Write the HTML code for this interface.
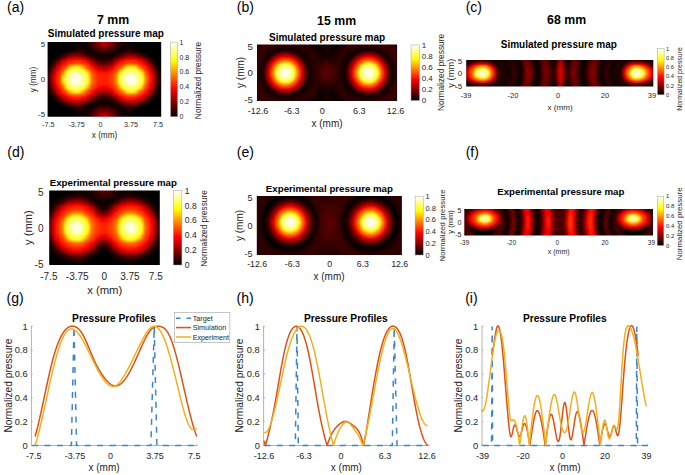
<!DOCTYPE html><html><head><meta charset="utf-8"><style>html,body{margin:0;padding:0;background:#fff;}body{width:685px;height:475px;overflow:hidden;font-family:"Liberation Sans",sans-serif;}svg{display:block;}text{font-family:"Liberation Sans",sans-serif;}</style></head><body><svg width="685" height="475" viewBox="0 0 685 475" font-family="Liberation Sans, sans-serif"><text x="7.00" y="11.80" font-size="14" text-anchor="start" fill="#000">(a)</text><text x="236.80" y="11.80" font-size="14" text-anchor="start" fill="#000">(b)</text><text x="465.70" y="11.80" font-size="14" text-anchor="start" fill="#000">(c)</text><text x="113.00" y="24.20" font-size="12.3" font-weight="bold" text-anchor="middle" fill="#000">7 mm</text><text x="336.60" y="25.00" font-size="12.3" font-weight="bold" text-anchor="middle" fill="#000">15 mm</text><text x="566.60" y="24.20" font-size="12.3" font-weight="bold" text-anchor="middle" fill="#000">68 mm</text><text x="105.80" y="37.00" font-size="10" font-weight="bold" text-anchor="middle" fill="#000">Simulated pressure map</text><defs><clipPath id="hc7"><rect x="47.60" y="42.10" width="113.60" height="74.60"/></clipPath><filter id="hf7" x="-5%" y="-10%" width="110%" height="120%"><feGaussianBlur stdDeviation="0.9"/></filter></defs><g clip-path="url(#hc7)"><g filter="url(#hf7)"><g fill="none" stroke-width="2.466" shape-rendering="crispEdges"><rect x="42.77" y="37.27" width="123.27" height="84.27" fill="#000" stroke="none"/><path stroke="#0b0000" d="M81.4 38.49h4.9M122.5 38.49h4.9M81.4 40.9h4.9M122.5 40.9h4.9M76.6 43.3h9.7M122.5 43.3h9.7M74.2 45.71h12.1M122.5 45.71h12.1M74.2 48.12h2.4M81.4 48.12h7.3M120.1 48.12h7.3M132.2 48.12h2.4M66.9 50.52h7.3M86.3 50.52h2.4M120.1 50.52h2.4M134.6 50.52h4.8M62.1 52.93h2.4M91.1 52.93h2.4M115.3 52.93h2.4M141.9 52.93h2.4M57.3 55.34h2.4M95.9 55.34h4.9M108 55.34h4.9M146.7 55.34h2.4M54.9 57.74h2.4M100.8 57.74h7.2M52.4 60.15h2.5M50 62.55h2.4M153.9 62.55h2.5M156.4 64.96h2.4M47.6 67.37h2.4M158.8 72.18h2.4M45.2 74.59h2.4M45.2 76.99h2.4M45.2 79.4h2.4M45.2 81.81h2.4M45.2 84.21h2.4M158.8 86.62h2.4M47.6 91.43h2.4M156.4 93.84h2.4M50 96.25h2.4M153.9 96.25h2.5M52.4 98.65h2.5M54.9 101.06h2.4M100.8 101.06h7.2M57.3 103.46h2.4M95.9 103.46h4.9M108 103.46h4.9M146.7 103.46h2.4M62.1 105.87h2.4M91.1 105.87h2.4M115.3 105.87h2.4M141.9 105.87h2.4M66.9 108.28h7.3M86.3 108.28h2.4M120.1 108.28h2.4M134.6 108.28h4.8M74.2 110.68h2.4M81.4 110.68h7.3M120.1 110.68h7.3M132.2 110.68h2.4M74.2 113.09h12.1M122.5 113.09h12.1M76.6 115.5h9.7M122.5 115.5h9.7M81.4 117.9h4.9M122.5 117.9h4.9M81.4 120.31h4.9M122.5 120.31h4.9"/><path stroke="#160000" d="M86.3 38.49h2.4M120.1 38.49h2.4M86.3 40.9h2.4M120.1 40.9h2.4M86.3 43.3h2.4M120.1 43.3h2.4M86.3 45.71h2.4M120.1 45.71h2.4M76.6 48.12h4.8M88.7 48.12h2.4M117.7 48.12h2.4M127.4 48.12h4.8M74.2 50.52h2.4M83.9 50.52h2.4M88.7 50.52h4.8M115.3 50.52h4.8M122.5 50.52h2.4M132.2 50.52h2.4M64.5 52.93h2.4M86.3 52.93h4.8M93.5 52.93h4.9M110.4 52.93h4.9M117.7 52.93h2.4M59.7 55.34h2.4M91.1 55.34h4.8M100.8 55.34h7.2M112.9 55.34h2.4M98.4 57.74h2.4M108 57.74h2.4M149.1 57.74h2.4M151.5 60.15h2.4M50 64.96h2.4M156.4 67.37h2.4M47.6 69.77h2.4M158.8 74.59h2.4M158.8 76.99h2.4M158.8 79.4h2.4M158.8 81.81h2.4M158.8 84.21h2.4M47.6 89.03h2.4M156.4 91.43h2.4M50 93.84h2.4M151.5 98.65h2.4M98.4 101.06h2.4M108 101.06h2.4M149.1 101.06h2.4M59.7 103.46h2.4M91.1 103.46h4.8M100.8 103.46h7.2M112.9 103.46h2.4M64.5 105.87h2.4M86.3 105.87h4.8M93.5 105.87h4.9M110.4 105.87h4.9M117.7 105.87h2.4M74.2 108.28h2.4M83.9 108.28h2.4M88.7 108.28h4.8M115.3 108.28h4.8M122.5 108.28h2.4M132.2 108.28h2.4M76.6 110.68h4.8M88.7 110.68h2.4M117.7 110.68h2.4M127.4 110.68h4.8M86.3 113.09h2.4M120.1 113.09h2.4M86.3 115.5h2.4M120.1 115.5h2.4M86.3 117.9h2.4M120.1 117.9h2.4M86.3 120.31h2.4M120.1 120.31h2.4"/><path stroke="#200000" d="M88.7 38.49h2.4M117.7 38.49h2.4M88.7 45.71h2.4M117.7 45.71h2.4M81.4 50.52h2.5M93.5 50.52h2.4M112.9 50.52h2.4M124.9 50.52h2.5M66.9 52.93h2.5M98.4 52.93h12M120.1 52.93h2.4M137 52.93h4.9M115.3 55.34h2.4M144.3 55.34h2.4M57.3 57.74h2.4M95.9 57.74h2.5M110.4 57.74h2.5M54.9 60.15h2.4M100.8 60.15h7.2M52.4 62.55h2.5M153.9 64.96h2.5M50 67.37h2.4M156.4 69.77h2.4M47.6 72.18h2.4M47.6 74.59h2.4M47.6 84.21h2.4M47.6 86.62h2.4M156.4 89.03h2.4M50 91.43h2.4M153.9 93.84h2.5M52.4 96.25h2.5M54.9 98.65h2.4M100.8 98.65h7.2M57.3 101.06h2.4M95.9 101.06h2.5M110.4 101.06h2.5M115.3 103.46h2.4M144.3 103.46h2.4M66.9 105.87h2.5M98.4 105.87h12M120.1 105.87h2.4M137 105.87h4.9M81.4 108.28h2.5M93.5 108.28h2.4M112.9 108.28h2.4M124.9 108.28h2.5M88.7 113.09h2.4M117.7 113.09h2.4M88.7 120.31h2.4M117.7 120.31h2.4"/><path stroke="#2b0000" d="M88.7 40.9h2.4M117.7 40.9h2.4M88.7 43.3h2.4M117.7 43.3h2.4M91.1 48.12h2.4M115.3 48.12h2.4M76.6 50.52h4.8M127.4 50.52h4.8M69.4 52.93h2.4M83.9 52.93h2.4M122.5 52.93h2.4M134.6 52.93h2.4M62.1 55.34h2.4M88.7 55.34h2.4M117.7 55.34h2.4M141.9 55.34h2.4M93.5 57.74h2.4M112.9 57.74h2.4M146.7 57.74h2.4M98.4 60.15h2.4M108 60.15h2.4M149.1 60.15h2.4M151.5 62.55h2.4M156.4 72.18h2.4M47.6 76.99h2.4M47.6 79.4h2.4M47.6 81.81h2.4M156.4 86.62h2.4M151.5 96.25h2.4M98.4 98.65h2.4M108 98.65h2.4M149.1 98.65h2.4M93.5 101.06h2.4M112.9 101.06h2.4M146.7 101.06h2.4M62.1 103.46h2.4M88.7 103.46h2.4M117.7 103.46h2.4M141.9 103.46h2.4M69.4 105.87h2.4M83.9 105.87h2.4M122.5 105.87h2.4M134.6 105.87h2.4M76.6 108.28h4.8M127.4 108.28h4.8M91.1 110.68h2.4M115.3 110.68h2.4M88.7 115.5h2.4M117.7 115.5h2.4M88.7 117.9h2.4M117.7 117.9h2.4"/><path stroke="#360000" d="M91.1 38.49h2.4M115.3 38.49h2.4M91.1 45.71h2.4M115.3 45.71h2.4M95.9 50.52h2.5M110.4 50.52h2.5M71.8 52.93h4.8M81.4 52.93h2.5M124.9 52.93h2.5M132.2 52.93h2.4M86.3 55.34h2.4M59.7 57.74h2.4M91.1 57.74h2.4M95.9 60.15h2.5M110.4 60.15h2.5M52.4 64.96h2.5M153.9 67.37h2.5M50 69.77h2.4M156.4 74.59h2.4M156.4 84.21h2.4M50 89.03h2.4M153.9 91.43h2.5M52.4 93.84h2.5M95.9 98.65h2.5M110.4 98.65h2.5M59.7 101.06h2.4M91.1 101.06h2.4M86.3 103.46h2.4M71.8 105.87h4.8M81.4 105.87h2.5M124.9 105.87h2.5M132.2 105.87h2.4M95.9 108.28h2.5M110.4 108.28h2.5M91.1 113.09h2.4M115.3 113.09h2.4M91.1 120.31h2.4M115.3 120.31h2.4"/><path stroke="#410000" d="M91.1 40.9h2.4M115.3 40.9h2.4M91.1 43.3h2.4M115.3 43.3h2.4M93.5 48.12h2.4M112.9 48.12h2.4M98.4 50.52h12M76.6 52.93h4.8M127.4 52.93h4.8M64.5 55.34h2.4M57.3 60.15h2.4M54.9 62.55h2.4M100.8 62.55h7.2M156.4 76.99h2.4M156.4 79.4h2.4M156.4 81.81h2.4M54.9 96.25h2.4M100.8 96.25h7.2M57.3 98.65h2.4M64.5 103.46h2.4M76.6 105.87h4.8M127.4 105.87h4.8M98.4 108.28h12M93.5 110.68h2.4M112.9 110.68h2.4M91.1 115.5h2.4M115.3 115.5h2.4M91.1 117.9h2.4M115.3 117.9h2.4"/><path stroke="#4c0000" d="M95.9 48.12h2.5M110.4 48.12h2.5M120.1 55.34h2.4M139.4 55.34h2.5M115.3 57.74h2.4M144.3 57.74h2.4M93.5 60.15h2.4M151.5 64.96h2.4M153.9 69.77h2.5M50 72.18h2.4M50 86.62h2.4M153.9 89.03h2.5M151.5 93.84h2.4M93.5 98.65h2.4M115.3 101.06h2.4M144.3 101.06h2.4M120.1 103.46h2.4M139.4 103.46h2.5M95.9 110.68h2.5M110.4 110.68h2.5"/><path stroke="#560000" d="M93.5 38.49h2.4M112.9 38.49h2.4M93.5 45.71h2.4M112.9 45.71h2.4M66.9 55.34h2.5M83.9 55.34h2.4M88.7 57.74h2.4M112.9 60.15h2.4M146.7 60.15h2.4M98.4 62.55h2.4M108 62.55h2.4M149.1 62.55h2.4M52.4 67.37h2.5M52.4 91.43h2.5M98.4 96.25h2.4M108 96.25h2.4M149.1 96.25h2.4M112.9 98.65h2.4M146.7 98.65h2.4M88.7 101.06h2.4M66.9 103.46h2.5M83.9 103.46h2.4M93.5 113.09h2.4M112.9 113.09h2.4M93.5 120.31h2.4M112.9 120.31h2.4"/><path stroke="#610000" d="M93.5 40.9h2.4M112.9 40.9h2.4M93.5 43.3h2.4M112.9 43.3h2.4M98.4 48.12h2.4M108 48.12h2.4M122.5 55.34h2.4M137 55.34h2.4M62.1 57.74h2.4M95.9 62.55h2.5M110.4 62.55h2.5M50 74.59h2.4M50 84.21h2.4M95.9 96.25h2.5M110.4 96.25h2.5M62.1 101.06h2.4M122.5 103.46h2.4M137 103.46h2.4M98.4 110.68h2.4M108 110.68h2.4M93.5 115.5h2.4M112.9 115.5h2.4M93.5 117.9h2.4M112.9 117.9h2.4"/><path stroke="#6c0000" d="M95.9 38.49h2.5M110.4 38.49h2.5M95.9 45.71h2.5M110.4 45.71h2.5M100.8 48.12h7.2M69.4 55.34h2.4M81.4 55.34h2.5M117.7 57.74h2.4M141.9 57.74h2.4M91.1 60.15h2.4M103.2 64.96h2.4M153.9 72.18h2.5M50 76.99h2.4M50 79.4h2.4M50 81.81h2.4M153.9 86.62h2.5M103.2 93.84h2.4M91.1 98.65h2.4M117.7 101.06h2.4M141.9 101.06h2.4M69.4 103.46h2.4M81.4 103.46h2.5M100.8 110.68h7.2M95.9 113.09h2.5M110.4 113.09h2.5M95.9 120.31h2.5M110.4 120.31h2.5"/><path stroke="#770000" d="M71.8 55.34h2.4M79 55.34h2.4M124.9 55.34h2.5M134.6 55.34h2.4M86.3 57.74h2.4M59.7 60.15h2.4M57.3 62.55h2.4M93.5 62.55h2.4M54.9 64.96h2.4M100.8 64.96h2.4M105.6 64.96h2.4M151.5 67.37h2.4M151.5 91.43h2.4M54.9 93.84h2.4M100.8 93.84h2.4M105.6 93.84h2.4M57.3 96.25h2.4M93.5 96.25h2.4M59.7 98.65h2.4M86.3 101.06h2.4M71.8 103.46h2.4M79 103.46h2.4M124.9 103.46h2.5M134.6 103.46h2.4"/><path stroke="#820000" d="M98.4 38.49h2.4M108 38.49h2.4M95.9 40.9h2.5M110.4 40.9h2.5M95.9 43.3h2.5M110.4 43.3h2.5M98.4 45.71h2.4M108 45.71h2.4M74.2 55.34h4.8M127.4 55.34h7.2M64.5 57.74h2.4M115.3 60.15h2.4M144.3 60.15h2.4M98.4 64.96h2.4M108 64.96h2.4M52.4 69.77h2.5M153.9 74.59h2.5M153.9 84.21h2.5M52.4 89.03h2.5M98.4 93.84h2.4M108 93.84h2.4M115.3 98.65h2.4M144.3 98.65h2.4M64.5 101.06h2.4M74.2 103.46h4.8M127.4 103.46h7.2M98.4 113.09h2.4M108 113.09h2.4M95.9 115.5h2.5M110.4 115.5h2.5M95.9 117.9h2.5M110.4 117.9h2.5M98.4 120.31h2.4M108 120.31h2.4"/><path stroke="#8c0000" d="M120.1 57.74h2.4M139.4 57.74h2.5M112.9 62.55h2.4M146.7 62.55h2.4M149.1 64.96h2.4M153.9 76.99h2.5M153.9 79.4h2.5M153.9 81.81h2.5M149.1 93.84h2.4M112.9 96.25h2.4M146.7 96.25h2.4M120.1 101.06h2.4M139.4 101.06h2.5"/><path stroke="#970000" d="M100.8 38.49h7.2M98.4 40.9h2.4M108 40.9h2.4M98.4 43.3h2.4M108 43.3h2.4M100.8 45.71h7.2M83.9 57.74h2.4M88.7 60.15h2.4M95.9 64.96h2.5M110.4 64.96h2.5M151.5 69.77h2.4M52.4 72.18h2.5M52.4 86.62h2.5M151.5 89.03h2.4M95.9 93.84h2.5M110.4 93.84h2.5M88.7 98.65h2.4M83.9 101.06h2.4M100.8 113.09h7.2M98.4 115.5h2.4M108 115.5h2.4M98.4 117.9h2.4M108 117.9h2.4M100.8 120.31h7.2"/><path stroke="#a20000" d="M66.9 57.74h2.5M62.1 60.15h2.4M91.1 62.55h2.4M54.9 67.37h2.4M103.2 67.37h2.4M54.9 91.43h2.4M103.2 91.43h2.4M91.1 96.25h2.4M62.1 98.65h2.4M66.9 101.06h2.5"/><path stroke="#ad0000" d="M100.8 40.9h2.4M105.6 40.9h2.4M100.8 43.3h2.4M105.6 43.3h2.4M122.5 57.74h2.4M137 57.74h2.4M93.5 64.96h2.4M100.8 67.37h2.4M105.6 67.37h2.4M52.4 74.59h2.5M52.4 84.21h2.5M100.8 91.43h2.4M105.6 91.43h2.4M93.5 93.84h2.4M122.5 101.06h2.4M137 101.06h2.4M100.8 115.5h2.4M105.6 115.5h2.4M100.8 117.9h2.4M105.6 117.9h2.4"/><path stroke="#b70000" d="M103.2 40.9h2.4M103.2 43.3h2.4M81.4 57.74h2.5M117.7 60.15h2.4M141.9 60.15h2.4M59.7 62.55h2.4M57.3 64.96h2.4M98.4 67.37h2.4M108 67.37h2.4M149.1 67.37h2.4M151.5 72.18h2.4M151.5 86.62h2.4M98.4 91.43h2.4M108 91.43h2.4M149.1 91.43h2.4M57.3 93.84h2.4M59.7 96.25h2.4M117.7 98.65h2.4M141.9 98.65h2.4M81.4 101.06h2.5M103.2 115.5h2.4M103.2 117.9h2.4"/><path stroke="#c20000" d="M69.4 57.74h2.4M124.9 57.74h2.5M134.6 57.74h2.4M86.3 60.15h2.4M95.9 67.37h2.5M52.4 76.99h2.5M52.4 79.4h2.5M52.4 81.81h2.5M95.9 91.43h2.5M86.3 98.65h2.4M69.4 101.06h2.4M124.9 101.06h2.5M134.6 101.06h2.4"/><path stroke="#cd0000" d="M71.8 57.74h2.4M79 57.74h2.4M64.5 60.15h2.4M115.3 62.55h2.4M144.3 62.55h2.4M112.9 64.96h2.4M146.7 64.96h2.4M54.9 69.77h2.4M151.5 74.59h2.4M151.5 84.21h2.4M54.9 89.03h2.4M112.9 93.84h2.4M146.7 93.84h2.4M115.3 96.25h2.4M144.3 96.25h2.4M64.5 98.65h2.4M71.8 101.06h2.4M79 101.06h2.4"/><path stroke="#d80000" d="M74.2 57.74h4.8M127.4 57.74h7.2M120.1 60.15h2.4M110.4 67.37h2.5M100.8 69.77h7.2M151.5 76.99h2.4M151.5 81.81h2.4M100.8 89.03h7.2M110.4 91.43h2.5M120.1 98.65h2.4M74.2 101.06h4.8M127.4 101.06h7.2"/><path stroke="#e30000" d="M139.4 60.15h2.5M88.7 62.55h2.4M91.1 64.96h2.4M57.3 67.37h2.4M98.4 69.77h2.4M108 69.77h2.4M149.1 69.77h2.4M54.9 72.18h2.4M151.5 79.4h2.4M54.9 86.62h2.4M98.4 89.03h2.4M108 89.03h2.4M149.1 89.03h2.4M57.3 91.43h2.4M91.1 93.84h2.4M88.7 96.25h2.4M139.4 98.65h2.5"/><path stroke="#ed0000" d="M66.9 60.15h2.5M83.9 60.15h2.4M62.1 62.55h2.4M59.7 64.96h2.4M93.5 67.37h2.4M95.9 69.77h2.5M95.9 89.03h2.5M93.5 91.43h2.4M59.7 93.84h2.4M62.1 96.25h2.4M66.9 98.65h2.5M83.9 98.65h2.4"/><path stroke="#f80000" d="M81.4 60.15h2.5M122.5 60.15h2.4M137 60.15h2.4M117.7 62.55h2.4M141.9 62.55h2.4M144.3 64.96h2.4M146.7 67.37h2.4M103.2 72.18h2.4M149.1 72.18h2.4M54.9 74.59h2.4M54.9 84.21h2.4M103.2 86.62h2.4M149.1 86.62h2.4M146.7 91.43h2.4M144.3 93.84h2.4M117.7 96.25h2.4M141.9 96.25h2.4M81.4 98.65h2.5M122.5 98.65h2.4M137 98.65h2.4"/><path stroke="#ff0400" d="M69.4 60.15h4.8M124.9 60.15h2.5M134.6 60.15h2.4M64.5 62.55h2.4M86.3 62.55h2.4M115.3 64.96h2.4M112.9 67.37h2.4M57.3 69.77h2.4M110.4 69.77h2.5M98.4 72.18h4.8M105.6 72.18h2.4M149.1 74.59h2.4M54.9 76.99h2.4M54.9 79.4h2.4M54.9 81.81h2.4M149.1 84.21h2.4M98.4 86.62h4.8M105.6 86.62h2.4M57.3 89.03h2.4M110.4 89.03h2.5M112.9 91.43h2.4M115.3 93.84h2.4M64.5 96.25h2.4M86.3 96.25h2.4M69.4 98.65h4.8M124.9 98.65h2.5M134.6 98.65h2.4"/><path stroke="#ff0f00" d="M74.2 60.15h7.2M127.4 60.15h7.2M120.1 62.55h2.4M139.4 62.55h2.5M62.1 64.96h2.4M88.7 64.96h2.4M59.7 67.37h2.4M91.1 67.37h2.4M93.5 69.77h2.4M146.7 69.77h2.4M57.3 72.18h2.4M108 72.18h2.4M149.1 76.99h2.4M149.1 79.4h2.4M149.1 81.81h2.4M57.3 86.62h2.4M108 86.62h2.4M93.5 89.03h2.4M146.7 89.03h2.4M59.7 91.43h2.4M91.1 91.43h2.4M62.1 93.84h2.4M88.7 93.84h2.4M120.1 96.25h2.4M139.4 96.25h2.5M74.2 98.65h7.2M127.4 98.65h7.2"/><path stroke="#ff1a00" d="M66.9 62.55h2.5M83.9 62.55h2.4M137 62.55h2.4M117.7 64.96h2.4M141.9 64.96h2.4M144.3 67.37h2.4M95.9 72.18h2.5M98.4 74.59h9.6M100.8 76.99h7.2M103.2 79.4h2.4M100.8 81.81h7.2M98.4 84.21h9.6M95.9 86.62h2.5M144.3 91.43h2.4M117.7 93.84h2.4M141.9 93.84h2.4M66.9 96.25h2.5M83.9 96.25h2.4M137 96.25h2.4"/><path stroke="#ff2400" d="M69.4 62.55h2.4M81.4 62.55h2.5M122.5 62.55h2.4M64.5 64.96h2.4M86.3 64.96h2.4M115.3 67.37h2.4M59.7 69.77h2.4M112.9 69.77h2.4M110.4 72.18h2.5M146.7 72.18h2.4M57.3 74.59h2.4M95.9 74.59h2.5M108 74.59h2.4M98.4 76.99h2.4M108 76.99h2.4M98.4 79.4h4.8M105.6 79.4h2.4M98.4 81.81h2.4M108 81.81h2.4M57.3 84.21h2.4M95.9 84.21h2.5M108 84.21h2.4M110.4 86.62h2.5M146.7 86.62h2.4M59.7 89.03h2.4M112.9 89.03h2.4M115.3 91.43h2.4M64.5 93.84h2.4M86.3 93.84h2.4M69.4 96.25h2.4M81.4 96.25h2.5M122.5 96.25h2.4"/><path stroke="#ff2f00" d="M124.9 62.55h2.5M134.6 62.55h2.4M139.4 64.96h2.5M62.1 67.37h2.4M88.7 67.37h2.4M91.1 69.77h2.4M144.3 69.77h2.4M93.5 72.18h2.4M110.4 74.59h2.5M146.7 74.59h2.4M57.3 76.99h2.4M95.9 76.99h2.5M57.3 79.4h2.4M95.9 79.4h2.5M108 79.4h2.4M57.3 81.81h2.4M95.9 81.81h2.5M110.4 84.21h2.5M146.7 84.21h2.4M93.5 86.62h2.4M91.1 89.03h2.4M144.3 89.03h2.4M62.1 91.43h2.4M88.7 91.43h2.4M139.4 93.84h2.5M124.9 96.25h2.5M134.6 96.25h2.4"/><path stroke="#ff3a00" d="M71.8 62.55h9.6M127.4 62.55h7.2M120.1 64.96h2.4M141.9 67.37h2.4M59.7 72.18h2.4M112.9 72.18h2.4M93.5 74.59h2.4M110.4 76.99h2.5M146.7 76.99h2.4M110.4 79.4h2.5M110.4 81.81h2.5M146.7 81.81h2.4M93.5 84.21h2.4M59.7 86.62h2.4M112.9 86.62h2.4M141.9 91.43h2.4M120.1 93.84h2.4M71.8 96.25h9.6M127.4 96.25h7.2"/><path stroke="#ff4500" d="M66.9 64.96h2.5M83.9 64.96h2.4M117.7 67.37h2.4M115.3 69.77h2.4M91.1 72.18h2.4M93.5 76.99h2.4M93.5 79.4h2.4M146.7 79.4h2.4M93.5 81.81h2.4M91.1 86.62h2.4M115.3 89.03h2.4M117.7 91.43h2.4M66.9 93.84h2.5M83.9 93.84h2.4"/><path stroke="#ff5000" d="M122.5 64.96h2.4M137 64.96h2.4M64.5 67.37h2.4M86.3 67.37h2.4M62.1 69.77h2.4M88.7 69.77h2.4M144.3 72.18h2.4M59.7 74.59h2.4M112.9 74.59h2.4M112.9 76.99h2.4M112.9 81.81h2.4M59.7 84.21h2.4M112.9 84.21h2.4M144.3 86.62h2.4M62.1 89.03h2.4M88.7 89.03h2.4M64.5 91.43h2.4M86.3 91.43h2.4M122.5 93.84h2.4M137 93.84h2.4"/><path stroke="#ff5a00" d="M69.4 64.96h2.4M81.4 64.96h2.5M139.4 67.37h2.5M115.3 72.18h2.4M91.1 74.59h2.4M59.7 76.99h2.4M112.9 79.4h2.4M59.7 81.81h2.4M91.1 84.21h2.4M115.3 86.62h2.4M139.4 91.43h2.5M69.4 93.84h2.4M81.4 93.84h2.5"/><path stroke="#ff6500" d="M124.9 64.96h2.5M134.6 64.96h2.4M120.1 67.37h2.4M117.7 69.77h2.4M141.9 69.77h2.4M144.3 74.59h2.4M91.1 76.99h2.4M59.7 79.4h2.4M91.1 79.4h2.4M91.1 81.81h2.4M144.3 84.21h2.4M117.7 89.03h2.4M141.9 89.03h2.4M120.1 91.43h2.4M124.9 93.84h2.5M134.6 93.84h2.4"/><path stroke="#ff7000" d="M71.8 64.96h2.4M79 64.96h2.4M132.2 64.96h2.4M83.9 67.37h2.4M62.1 72.18h2.4M88.7 72.18h2.4M115.3 74.59h2.4M115.3 84.21h2.4M62.1 86.62h2.4M88.7 86.62h2.4M83.9 91.43h2.4M71.8 93.84h2.4M79 93.84h2.4M132.2 93.84h2.4"/><path stroke="#ff7b00" d="M74.2 64.96h4.8M127.4 64.96h4.8M66.9 67.37h2.5M86.3 69.77h2.4M144.3 76.99h2.4M144.3 81.81h2.4M86.3 89.03h2.4M66.9 91.43h2.5M74.2 93.84h4.8M127.4 93.84h4.8"/><path stroke="#ff8600" d="M115.3 76.99h2.4M144.3 79.4h2.4M115.3 81.81h2.4"/><path stroke="#ff9000" d="M122.5 67.37h2.4M64.5 69.77h2.4M88.7 74.59h2.4M115.3 79.4h2.4M88.7 84.21h2.4M64.5 89.03h2.4M122.5 91.43h2.4"/><path stroke="#ff9b00" d="M137 67.37h2.4M117.7 72.18h2.4M141.9 72.18h2.4M117.7 86.62h2.4M141.9 86.62h2.4M137 91.43h2.4"/><path stroke="#ffb100" d="M81.4 67.37h2.5M120.1 69.77h2.4M62.1 74.59h2.4M88.7 76.99h2.4M88.7 81.81h2.4M62.1 84.21h2.4M120.1 89.03h2.4M81.4 91.43h2.5"/><path stroke="#ffbc00" d="M139.4 69.77h2.5M88.7 79.4h2.4M139.4 89.03h2.5"/><path stroke="#ffc600" d="M69.4 67.37h2.4M69.4 91.43h2.4"/><path stroke="#ffd100" d="M86.3 72.18h2.4M86.3 86.62h2.4"/><path stroke="#ffdc00" d="M124.9 67.37h2.5M134.6 67.37h2.4M83.9 69.77h2.4M62.1 76.99h2.4M62.1 81.81h2.4M83.9 89.03h2.4M124.9 91.43h2.5M134.6 91.43h2.4"/><path stroke="#ffe700" d="M117.7 74.59h2.4M141.9 74.59h2.4M117.7 84.21h2.4M141.9 84.21h2.4"/><path stroke="#fff200" d="M79 67.37h2.4M64.5 72.18h2.4M62.1 79.4h2.4M64.5 86.62h2.4M79 91.43h2.4"/><path stroke="#fffc00" d="M71.8 67.37h2.4M127.4 67.37h2.4M132.2 67.37h2.4M66.9 69.77h2.5M66.9 89.03h2.5M71.8 91.43h2.4M127.4 91.43h2.4M132.2 91.43h2.4"/><path stroke="#ffff0c" d="M74.2 67.37h4.8M129.8 67.37h2.4M122.5 69.77h2.4M137 69.77h2.4M120.1 72.18h2.4M139.4 72.18h2.5M86.3 74.59h2.4M117.7 76.99h2.4M141.9 76.99h2.4M117.7 79.4h2.4M141.9 79.4h2.4M117.7 81.81h2.4M141.9 81.81h2.4M86.3 84.21h2.4M120.1 86.62h2.4M139.4 86.62h2.5M122.5 89.03h2.4M137 89.03h2.4M74.2 91.43h4.8M129.8 91.43h2.4"/><path stroke="#ffff1c" d="M81.4 69.77h2.5M64.5 74.59h2.4M64.5 84.21h2.4M81.4 89.03h2.5"/><path stroke="#ffff2d" d="M69.4 69.77h2.4M83.9 72.18h2.4M86.3 76.99h2.4M86.3 79.4h2.4M86.3 81.81h2.4M83.9 86.62h2.4M69.4 89.03h2.4"/><path stroke="#ffff3d" d="M79 69.77h2.4M124.9 69.77h2.5M134.6 69.77h2.4M66.9 72.18h2.5M120.1 74.59h2.4M139.4 74.59h2.5M64.5 76.99h2.4M64.5 79.4h2.4M64.5 81.81h2.4M120.1 84.21h2.4M139.4 84.21h2.5M66.9 86.62h2.5M79 89.03h2.4M124.9 89.03h2.5M134.6 89.03h2.4"/><path stroke="#ffff4d" d="M71.8 69.77h7.2M127.4 69.77h7.2M122.5 72.18h2.4M137 72.18h2.4M83.9 74.59h2.4M120.1 76.99h2.4M139.4 76.99h2.5M120.1 81.81h2.4M139.4 81.81h2.5M83.9 84.21h2.4M122.5 86.62h2.4M137 86.62h2.4M71.8 89.03h7.2M127.4 89.03h7.2"/><path stroke="#ffff5d" d="M69.4 72.18h2.4M81.4 72.18h2.5M66.9 74.59h2.5M120.1 79.4h2.4M139.4 79.4h2.5M66.9 84.21h2.5M69.4 86.62h2.4M81.4 86.62h2.5"/><path stroke="#ffff6d" d="M124.9 72.18h2.5M134.6 72.18h2.4M122.5 74.59h2.4M137 74.59h2.4M83.9 76.99h2.4M83.9 79.4h2.4M83.9 81.81h2.4M122.5 84.21h2.4M137 84.21h2.4M124.9 86.62h2.5M134.6 86.62h2.4"/><path stroke="#ffff7d" d="M71.8 72.18h2.4M79 72.18h2.4M66.9 76.99h2.5M66.9 79.4h2.5M66.9 81.81h2.5M71.8 86.62h2.4M79 86.62h2.4"/><path stroke="#ffff8e" d="M74.2 72.18h4.8M127.4 72.18h2.4M132.2 72.18h2.4M69.4 74.59h2.4M81.4 74.59h2.5M122.5 76.99h2.4M137 76.99h2.4M122.5 81.81h2.4M137 81.81h2.4M69.4 84.21h2.4M81.4 84.21h2.5M74.2 86.62h4.8M127.4 86.62h2.4M132.2 86.62h2.4"/><path stroke="#ffff9e" d="M129.8 72.18h2.4M124.9 74.59h2.5M134.6 74.59h2.4M81.4 76.99h2.5M122.5 79.4h2.4M137 79.4h2.4M81.4 81.81h2.5M124.9 84.21h2.5M134.6 84.21h2.4M129.8 86.62h2.4"/><path stroke="#ffffae" d="M79 74.59h2.4M69.4 76.99h2.4M81.4 79.4h2.5M69.4 81.81h2.4M79 84.21h2.4"/><path stroke="#ffffbe" d="M71.8 74.59h2.4M127.4 74.59h2.4M132.2 74.59h2.4M124.9 76.99h2.5M134.6 76.99h2.4M69.4 79.4h2.4M124.9 81.81h2.5M134.6 81.81h2.4M71.8 84.21h2.4M127.4 84.21h2.4M132.2 84.21h2.4"/><path stroke="#ffffce" d="M74.2 74.59h4.8M129.8 74.59h2.4M79 76.99h2.4M124.9 79.4h2.5M134.6 79.4h2.4M79 81.81h2.4M74.2 84.21h4.8M129.8 84.21h2.4"/><path stroke="#ffffdf" d="M71.8 76.99h2.4M127.4 76.99h2.4M132.2 76.99h2.4M71.8 79.4h2.4M79 79.4h2.4M71.8 81.81h2.4M127.4 81.81h2.4M132.2 81.81h2.4"/><path stroke="#ffffef" d="M74.2 76.99h4.8M129.8 76.99h2.4M127.4 79.4h2.4M132.2 79.4h2.4M74.2 81.81h4.8M129.8 81.81h2.4"/><path stroke="#ffffff" d="M74.2 79.4h4.8M129.8 79.4h2.4"/></g></g></g><text x="45.00" y="47.01" font-size="7.8" text-anchor="end" fill="#262626">5</text><text x="45.00" y="82.21" font-size="7.8" text-anchor="end" fill="#262626">0</text><text x="45.00" y="117.01" font-size="7.8" text-anchor="end" fill="#262626">-5</text><text x="48.30" y="127.40" font-size="7.2" text-anchor="middle" fill="#262626">-7.5</text><text x="76.60" y="127.40" font-size="7.2" text-anchor="middle" fill="#262626">-3.75</text><text x="100.40" y="127.40" font-size="7.2" text-anchor="middle" fill="#262626">0</text><text x="131.00" y="127.40" font-size="7.2" text-anchor="middle" fill="#262626">3.75</text><text x="157.90" y="127.40" font-size="7.2" text-anchor="middle" fill="#262626">7.5</text><text x="104.50" y="137.80" font-size="8.2" text-anchor="middle" fill="#262626">x (mm)</text><text x="36.00" y="79.40" font-size="8.2" text-anchor="middle" fill="#262626" transform="rotate(-90 36.00 79.40)">y (mm)</text><defs><linearGradient id="cb18" x1="0" y1="1" x2="0" y2="0"><stop offset="0" stop-color="#000"/><stop offset="0.375" stop-color="#f00"/><stop offset="0.75" stop-color="#ff0"/><stop offset="1" stop-color="#fff"/></linearGradient></defs><rect x="170.60" y="42.10" width="7.00" height="74.60" fill="url(#cb18)" stroke="#a0a0a0" stroke-width="0.5"/><text x="179.50" y="44.62" font-size="7.0" text-anchor="start" fill="#262626">1</text><text x="179.50" y="59.54" font-size="7.0" text-anchor="start" fill="#262626">0.8</text><text x="179.50" y="74.46" font-size="7.0" text-anchor="start" fill="#262626">0.6</text><text x="179.50" y="89.38" font-size="7.0" text-anchor="start" fill="#262626">0.4</text><text x="179.50" y="104.30" font-size="7.0" text-anchor="start" fill="#262626">0.2</text><text x="179.50" y="119.22" font-size="7.0" text-anchor="start" fill="#262626">0</text><text x="201.00" y="80.50" font-size="8.4" text-anchor="middle" fill="#262626" transform="rotate(-90 201.00 80.50)">Normalized pressure</text><text x="327.10" y="40.50" font-size="10" font-weight="bold" text-anchor="middle" fill="#000">Simulated pressure map</text><defs><clipPath id="hc28"><rect x="257.00" y="44.60" width="140.10" height="56.40"/></clipPath><filter id="hf28" x="-5%" y="-10%" width="110%" height="120%"><feGaussianBlur stdDeviation="0.9"/></filter></defs><g clip-path="url(#hc28)"><g filter="url(#hf28)"><g fill="none" stroke-width="2.074" shape-rendering="crispEdges"><rect x="252.97" y="40.57" width="148.16" height="64.46" fill="#000" stroke="none"/><path stroke="#0b0000" d="M255 41.58h2M311 41.58h2M315 41.58h4M335.1 41.58h4M341.1 41.58h2M397.1 41.58h2M253 43.59h2M313 43.59h2M317 43.59h4M333.1 43.59h4M339.1 43.59h2M399.1 43.59h2M315 45.61h2M319 45.61h2M333.1 45.61h2M337.1 45.61h2M317 47.62h2M321 47.62h2M331.1 47.62h2M335.1 47.62h2M277 49.64h2M283 49.64h6M293 49.64h2M317 49.64h8M329.1 49.64h8M359.1 49.64h2M365.1 49.64h6M375.1 49.64h2M273 51.65h4M295 51.65h4M319 51.65h6M329.1 51.65h6M355.1 51.65h4M377.1 51.65h4M269 53.66h2M301 53.66h2M321 53.66h4M329.1 53.66h4M351.1 53.66h2M383.1 53.66h2M267 55.68h4M301 55.68h4M349.1 55.68h4M383.1 55.68h4M265 57.69h4M305 57.69h2M347.1 57.69h2M385.1 57.69h4M263 61.72h2M305 61.72h4M345.1 61.72h4M389.1 61.72h2M307 63.74h2M345.1 63.74h2M261 65.75h2M307 65.75h2M345.1 65.75h2M391.1 65.75h2M261 67.76h2M307 67.76h4M343.1 67.76h4M391.1 67.76h2M309 69.78h2M343.1 69.78h2M309 71.79h2M343.1 71.79h2M309 73.81h2M343.1 73.81h2M309 75.82h2M343.1 75.82h2M261 77.84h2M307 77.84h4M343.1 77.84h4M391.1 77.84h2M261 79.85h2M307 79.85h2M345.1 79.85h2M391.1 79.85h2M307 81.86h2M345.1 81.86h2M263 83.88h2M305 83.88h4M345.1 83.88h4M389.1 83.88h2M265 87.91h4M305 87.91h2M347.1 87.91h2M385.1 87.91h4M267 89.92h4M301 89.92h4M349.1 89.92h4M383.1 89.92h4M269 91.94h2M301 91.94h2M321 91.94h4M329.1 91.94h4M351.1 91.94h2M383.1 91.94h2M273 93.95h4M295 93.95h4M319 93.95h6M329.1 93.95h6M355.1 93.95h4M377.1 93.95h4M277 95.96h2M283 95.96h6M293 95.96h2M317 95.96h8M329.1 95.96h8M359.1 95.96h2M365.1 95.96h6M375.1 95.96h2M317 97.98h2M321 97.98h2M331.1 97.98h2M335.1 97.98h2M315 99.99h2M319 99.99h2M333.1 99.99h2M337.1 99.99h2M253 102.01h2M313 102.01h2M317 102.01h4M333.1 102.01h4M339.1 102.01h2M399.1 102.01h2M255 104.02h2M311 104.02h2M315 104.02h4M335.1 104.02h4M341.1 104.02h2M397.1 104.02h2"/><path stroke="#160000" d="M257 41.58h2M307 41.58h4M319 41.58h6M329.1 41.58h6M343.1 41.58h4M395.1 41.58h2M255 43.59h2M309 43.59h4M321 43.59h4M329.1 43.59h4M341.1 43.59h4M397.1 43.59h2M253 45.61h2M311 45.61h4M321 45.61h12.1M339.1 45.61h4M399.1 45.61h2M279 47.62h14M313 47.62h4M323 47.62h8.1M337.1 47.62h4M361.1 47.62h14M275 49.64h2M295 49.64h4M315 49.64h2M325 49.64h4.1M337.1 49.64h2M355.1 49.64h4M377.1 49.64h2M271 51.65h2M277 51.65h2M293 51.65h2M299 51.65h2M317 51.65h2M325 51.65h4.1M335.1 51.65h2M353.1 51.65h2M359.1 51.65h2M375.1 51.65h2M381.1 51.65h2M297 53.66h2M303 53.66h2M317 53.66h4M325 53.66h4.1M333.1 53.66h4M349.1 53.66h2M355.1 53.66h2M305 55.68h2M319 55.68h16.1M347.1 55.68h2M263 59.71h2M303 59.71h2M307 59.71h2M345.1 59.71h2M349.1 59.71h2M389.1 59.71h2M265 61.72h2M387.1 61.72h2M261 63.74h2M309 63.74h2M343.1 63.74h2M391.1 63.74h2M263 65.75h2M309 65.75h2M343.1 65.75h2M389.1 65.75h2M307 69.78h2M345.1 69.78h2M259 71.79h2M307 71.79h2M345.1 71.79h2M393.1 71.79h2M259 73.81h2M307 73.81h2M345.1 73.81h2M393.1 73.81h2M307 75.82h2M345.1 75.82h2M263 79.85h2M309 79.85h2M343.1 79.85h2M389.1 79.85h2M261 81.86h2M309 81.86h2M343.1 81.86h2M391.1 81.86h2M265 83.88h2M387.1 83.88h2M263 85.89h2M303 85.89h2M307 85.89h2M345.1 85.89h2M349.1 85.89h2M389.1 85.89h2M305 89.92h2M319 89.92h16.1M347.1 89.92h2M297 91.94h2M303 91.94h2M317 91.94h4M325 91.94h4.1M333.1 91.94h4M349.1 91.94h2M355.1 91.94h2M271 93.95h2M277 93.95h2M293 93.95h2M299 93.95h2M317 93.95h2M325 93.95h4.1M335.1 93.95h2M353.1 93.95h2M359.1 93.95h2M375.1 93.95h2M381.1 93.95h2M275 95.96h2M295 95.96h4M315 95.96h2M325 95.96h4.1M337.1 95.96h2M355.1 95.96h4M377.1 95.96h2M279 97.98h14M313 97.98h4M323 97.98h8.1M337.1 97.98h4M361.1 97.98h14M253 99.99h2M311 99.99h4M321 99.99h12.1M339.1 99.99h4M399.1 99.99h2M255 102.01h2M309 102.01h4M321 102.01h4M329.1 102.01h4M341.1 102.01h4M397.1 102.01h2M257 104.02h2M307 104.02h4M319 104.02h6M329.1 104.02h6M343.1 104.02h4M395.1 104.02h2"/><path stroke="#200000" d="M259 41.58h4M305 41.58h2M325 41.58h4.1M347.1 41.58h2M391.1 41.58h4M257 43.59h4M307 43.59h2M325 43.59h4.1M345.1 43.59h2M393.1 43.59h4M255 45.61h4M309 45.61h2M343.1 45.61h2M395.1 45.61h4M253 47.62h4M275 47.62h4M293 47.62h4M311 47.62h2M341.1 47.62h2M357.1 47.62h4M375.1 47.62h4M397.1 47.62h4M253 49.64h2M271 49.64h4M299 49.64h4M313 49.64h2M339.1 49.64h2M351.1 49.64h4M379.1 49.64h4M399.1 49.64h2M269 51.65h2M291 51.65h2M301 51.65h6M313 51.65h4M337.1 51.65h4M347.1 51.65h6M361.1 51.65h2M383.1 51.65h2M267 53.66h2M273 53.66h2M305 53.66h4M315 53.66h2M337.1 53.66h2M345.1 53.66h4M379.1 53.66h2M385.1 53.66h2M265 55.68h2M299 55.68h2M307 55.68h2M317 55.68h2M335.1 55.68h2M345.1 55.68h2M353.1 55.68h2M387.1 55.68h2M263 57.69h2M301 57.69h2M307 57.69h4M317 57.69h20.1M343.1 57.69h4M351.1 57.69h2M389.1 57.69h2M309 59.71h4M319 59.71h4M331.1 59.71h4M341.1 59.71h4M261 61.72h2M309 61.72h4M341.1 61.72h4M391.1 61.72h2M305 63.74h2M311 63.74h2M341.1 63.74h2M347.1 63.74h2M259 65.75h2M311 65.75h2M341.1 65.75h2M393.1 65.75h2M259 67.76h2M263 67.76h2M311 67.76h2M341.1 67.76h2M389.1 67.76h2M393.1 67.76h2M259 69.78h2M311 69.78h2M341.1 69.78h2M393.1 69.78h2M311 71.79h2M341.1 71.79h2M311 73.81h2M341.1 73.81h2M259 75.82h2M311 75.82h2M341.1 75.82h2M393.1 75.82h2M259 77.84h2M263 77.84h2M311 77.84h2M341.1 77.84h2M389.1 77.84h2M393.1 77.84h2M259 79.85h2M311 79.85h2M341.1 79.85h2M393.1 79.85h2M305 81.86h2M311 81.86h2M341.1 81.86h2M347.1 81.86h2M261 83.88h2M309 83.88h4M341.1 83.88h4M391.1 83.88h2M309 85.89h4M319 85.89h4M331.1 85.89h4M341.1 85.89h4M263 87.91h2M301 87.91h2M307 87.91h4M317 87.91h20.1M343.1 87.91h4M351.1 87.91h2M389.1 87.91h2M265 89.92h2M299 89.92h2M307 89.92h2M317 89.92h2M335.1 89.92h2M345.1 89.92h2M353.1 89.92h2M387.1 89.92h2M267 91.94h2M273 91.94h2M305 91.94h4M315 91.94h2M337.1 91.94h2M345.1 91.94h4M379.1 91.94h2M385.1 91.94h2M269 93.95h2M291 93.95h2M301 93.95h6M313 93.95h4M337.1 93.95h4M347.1 93.95h6M361.1 93.95h2M383.1 93.95h2M253 95.96h2M271 95.96h4M299 95.96h4M313 95.96h2M339.1 95.96h2M351.1 95.96h4M379.1 95.96h4M399.1 95.96h2M253 97.98h4M275 97.98h4M293 97.98h4M311 97.98h2M341.1 97.98h2M357.1 97.98h4M375.1 97.98h4M397.1 97.98h4M255 99.99h4M309 99.99h2M343.1 99.99h2M395.1 99.99h4M257 102.01h4M307 102.01h2M325 102.01h4.1M345.1 102.01h2M393.1 102.01h4M259 104.02h4M305 104.02h2M325 104.02h4.1M347.1 104.02h2M391.1 104.02h4"/><path stroke="#2b0000" d="M263 41.58h4M297 41.58h8M349.1 41.58h8M387.1 41.58h4M261 43.59h2M291 43.59h16M347.1 43.59h16M391.1 43.59h2M259 45.61h2M275 45.61h34M345.1 45.61h34M393.1 45.61h2M257 47.62h2M271 47.62h4M297 47.62h14M343.1 47.62h14M379.1 47.62h4M395.1 47.62h2M255 49.64h2M267 49.64h4M303 49.64h10M341.1 49.64h10M383.1 49.64h4M397.1 49.64h2M253 51.65h4M265 51.65h4M279 51.65h2M307 51.65h6M341.1 51.65h6M373.1 51.65h2M385.1 51.65h4M397.1 51.65h4M253 53.66h2M263 53.66h4M295 53.66h2M309 53.66h6M339.1 53.66h6M357.1 53.66h2M387.1 53.66h4M399.1 53.66h2M263 55.68h2M271 55.68h2M309 55.68h8M337.1 55.68h8M381.1 55.68h2M389.1 55.68h2M261 57.69h2M269 57.69h2M311 57.69h6M337.1 57.69h6M383.1 57.69h2M391.1 57.69h2M259 59.71h4M267 59.71h2M313 59.71h6M323 59.71h8.1M335.1 59.71h6M385.1 59.71h2M391.1 59.71h4M259 61.72h2M313 61.72h12M329.1 61.72h12M393.1 61.72h2M259 63.74h2M313 63.74h6M335.1 63.74h6M393.1 63.74h2M257 65.75h2M305 65.75h2M313 65.75h4M337.1 65.75h4M347.1 65.75h2M395.1 65.75h2M257 67.76h2M313 67.76h4M337.1 67.76h4M395.1 67.76h2M257 69.78h2M263 69.78h2M313 69.78h4M337.1 69.78h4M389.1 69.78h2M395.1 69.78h2M257 71.79h2M263 71.79h2M313 71.79h2M339.1 71.79h2M389.1 71.79h2M395.1 71.79h2M257 73.81h2M263 73.81h2M313 73.81h2M339.1 73.81h2M389.1 73.81h2M395.1 73.81h2M257 75.82h2M263 75.82h2M313 75.82h4M337.1 75.82h4M389.1 75.82h2M395.1 75.82h2M257 77.84h2M313 77.84h4M337.1 77.84h4M395.1 77.84h2M257 79.85h2M305 79.85h2M313 79.85h4M337.1 79.85h4M347.1 79.85h2M395.1 79.85h2M259 81.86h2M313 81.86h6M335.1 81.86h6M393.1 81.86h2M259 83.88h2M313 83.88h12M329.1 83.88h12M393.1 83.88h2M259 85.89h4M267 85.89h2M313 85.89h6M323 85.89h8.1M335.1 85.89h6M385.1 85.89h2M391.1 85.89h4M261 87.91h2M269 87.91h2M311 87.91h6M337.1 87.91h6M383.1 87.91h2M391.1 87.91h2M263 89.92h2M271 89.92h2M309 89.92h8M337.1 89.92h8M381.1 89.92h2M389.1 89.92h2M253 91.94h2M263 91.94h4M295 91.94h2M309 91.94h6M339.1 91.94h6M357.1 91.94h2M387.1 91.94h4M399.1 91.94h2M253 93.95h4M265 93.95h4M279 93.95h2M307 93.95h6M341.1 93.95h6M373.1 93.95h2M385.1 93.95h4M397.1 93.95h4M255 95.96h2M267 95.96h4M303 95.96h10M341.1 95.96h10M383.1 95.96h4M397.1 95.96h2M257 97.98h2M271 97.98h4M297 97.98h14M343.1 97.98h14M379.1 97.98h4M395.1 97.98h2M259 99.99h2M275 99.99h34M345.1 99.99h34M393.1 99.99h2M261 102.01h2M291 102.01h16M347.1 102.01h16M391.1 102.01h2M263 104.02h4M297 104.02h8M349.1 104.02h8M387.1 104.02h4"/><path stroke="#360000" d="M267 41.58h30M357.1 41.58h30M263 43.59h28M363.1 43.59h28M261 45.61h14M379.1 45.61h14M259 47.62h12M383.1 47.62h12M257 49.64h10M387.1 49.64h10M257 51.65h8M281 51.65h2M287 51.65h4M363.1 51.65h4M371.1 51.65h2M389.1 51.65h8M255 53.66h8M275 53.66h2M377.1 53.66h2M391.1 53.66h8M253 55.68h10M391.1 55.68h10M253 57.69h8M393.1 57.69h8M253 59.71h6M395.1 59.71h6M253 61.72h6M303 61.72h2M325 61.72h4.1M349.1 61.72h2M395.1 61.72h6M253 63.74h6M265 63.74h2M319 63.74h6M329.1 63.74h6M387.1 63.74h2M395.1 63.74h6M253 65.75h4M317 65.75h4M333.1 65.75h4M397.1 65.75h4M253 67.76h4M317 67.76h2M335.1 67.76h2M397.1 67.76h4M253 69.78h4M317 69.78h2M335.1 69.78h2M397.1 69.78h4M253 71.79h4M315 71.79h4M335.1 71.79h4M397.1 71.79h4M253 73.81h4M315 73.81h4M335.1 73.81h4M397.1 73.81h4M253 75.82h4M317 75.82h2M335.1 75.82h2M397.1 75.82h4M253 77.84h4M317 77.84h2M335.1 77.84h2M397.1 77.84h4M253 79.85h4M317 79.85h4M333.1 79.85h4M397.1 79.85h4M253 81.86h6M265 81.86h2M319 81.86h6M329.1 81.86h6M387.1 81.86h2M395.1 81.86h6M253 83.88h6M303 83.88h2M325 83.88h4.1M349.1 83.88h2M395.1 83.88h6M253 85.89h6M395.1 85.89h6M253 87.91h8M393.1 87.91h8M253 89.92h10M391.1 89.92h10M255 91.94h8M275 91.94h2M377.1 91.94h2M391.1 91.94h8M257 93.95h8M281 93.95h2M287 93.95h4M363.1 93.95h4M371.1 93.95h2M389.1 93.95h8M257 95.96h10M387.1 95.96h10M259 97.98h12M383.1 97.98h12M261 99.99h14M379.1 99.99h14M263 102.01h28M363.1 102.01h28M267 104.02h30M357.1 104.02h30"/><path stroke="#410000" d="M283 51.65h4M367.1 51.65h4M297 55.68h2M355.1 55.68h2M301 59.71h2M351.1 59.71h2M325 63.74h4.1M321 65.75h4M329.1 65.75h4M305 67.76h2M319 67.76h4M331.1 67.76h4M347.1 67.76h2M319 69.78h2M333.1 69.78h2M319 71.79h2M333.1 71.79h2M319 73.81h2M333.1 73.81h2M319 75.82h2M333.1 75.82h2M305 77.84h2M319 77.84h4M331.1 77.84h4M347.1 77.84h2M321 79.85h4M329.1 79.85h4M325 81.86h4.1M301 85.89h2M351.1 85.89h2M297 89.92h2M355.1 89.92h2M283 93.95h4M367.1 93.95h4"/><path stroke="#4c0000" d="M293 53.66h2M359.1 53.66h2M273 55.68h2M379.1 55.68h2M299 57.69h2M353.1 57.69h2M267 61.72h2M385.1 61.72h2M265 65.75h2M325 65.75h4.1M387.1 65.75h2M323 67.76h8.1M305 69.78h2M321 69.78h2M331.1 69.78h2M347.1 69.78h2M321 71.79h2M331.1 71.79h2M321 73.81h2M331.1 73.81h2M305 75.82h2M321 75.82h2M331.1 75.82h2M347.1 75.82h2M323 77.84h8.1M265 79.85h2M325 79.85h4.1M387.1 79.85h2M267 83.88h2M385.1 83.88h2M299 87.91h2M353.1 87.91h2M273 89.92h2M379.1 89.92h2M293 91.94h2M359.1 91.94h2"/><path stroke="#560000" d="M277 53.66h2M375.1 53.66h2M271 57.69h2M381.1 57.69h2M269 59.71h2M383.1 59.71h2M303 63.74h2M349.1 63.74h2M265 67.76h2M387.1 67.76h2M323 69.78h8.1M305 71.79h2M323 71.79h8.1M347.1 71.79h2M305 73.81h2M323 73.81h8.1M347.1 73.81h2M323 75.82h8.1M265 77.84h2M387.1 77.84h2M303 81.86h2M349.1 81.86h2M269 85.89h2M383.1 85.89h2M271 87.91h2M381.1 87.91h2M277 91.94h2M375.1 91.94h2"/><path stroke="#610000" d="M291 53.66h2M361.1 53.66h2M295 55.68h2M357.1 55.68h2M295 89.92h2M357.1 89.92h2M291 91.94h2M361.1 91.94h2"/><path stroke="#6c0000" d="M279 53.66h2M289 53.66h2M363.1 53.66h2M373.1 53.66h2M301 61.72h2M351.1 61.72h2M267 63.74h2M385.1 63.74h2M303 65.75h2M349.1 65.75h2M265 69.78h2M387.1 69.78h2M265 71.79h2M387.1 71.79h2M265 73.81h2M387.1 73.81h2M265 75.82h2M387.1 75.82h2M303 79.85h2M349.1 79.85h2M267 81.86h2M385.1 81.86h2M301 83.88h2M351.1 83.88h2M279 91.94h2M289 91.94h2M363.1 91.94h2M373.1 91.94h2"/><path stroke="#770000" d="M281 53.66h2M371.1 53.66h2M275 55.68h2M377.1 55.68h2M297 57.69h2M355.1 57.69h2M299 59.71h2M353.1 59.71h2M299 85.89h2M353.1 85.89h2M297 87.91h2M355.1 87.91h2M275 89.92h2M377.1 89.92h2M281 91.94h2M371.1 91.94h2"/><path stroke="#820000" d="M283 53.66h6M365.1 53.66h6M293 55.68h2M359.1 55.68h2M269 61.72h2M383.1 61.72h2M303 67.76h2M349.1 67.76h2M303 77.84h2M349.1 77.84h2M269 83.88h2M383.1 83.88h2M293 89.92h2M359.1 89.92h2M283 91.94h6M365.1 91.94h6"/><path stroke="#8c0000" d="M273 57.69h2M379.1 57.69h2M271 59.71h2M381.1 59.71h2M301 63.74h2M351.1 63.74h2M267 65.75h2M385.1 65.75h2M303 69.78h2M349.1 69.78h2M303 75.82h2M349.1 75.82h2M267 79.85h2M385.1 79.85h2M301 81.86h2M351.1 81.86h2M271 85.89h2M381.1 85.89h2M273 87.91h2M379.1 87.91h2"/><path stroke="#970000" d="M277 55.68h2M375.1 55.68h2M303 71.79h2M349.1 71.79h2M303 73.81h2M349.1 73.81h2M277 89.92h2M375.1 89.92h2"/><path stroke="#a20000" d="M291 55.68h2M361.1 55.68h2M295 57.69h2M357.1 57.69h2M299 61.72h2M353.1 61.72h2M267 67.76h2M385.1 67.76h2M267 77.84h2M385.1 77.84h2M299 83.88h2M353.1 83.88h2M295 87.91h2M357.1 87.91h2M291 89.92h2M361.1 89.92h2"/><path stroke="#ad0000" d="M279 55.68h2M373.1 55.68h2M297 59.71h2M355.1 59.71h2M269 63.74h2M383.1 63.74h2M301 65.75h2M351.1 65.75h2M267 69.78h2M385.1 69.78h2M267 75.82h2M385.1 75.82h2M301 79.85h2M351.1 79.85h2M269 81.86h2M383.1 81.86h2M297 85.89h2M355.1 85.89h2M279 89.92h2M373.1 89.92h2"/><path stroke="#b70000" d="M289 55.68h2M363.1 55.68h2M275 57.69h2M377.1 57.69h2M267 71.79h2M385.1 71.79h2M267 73.81h2M385.1 73.81h2M275 87.91h2M377.1 87.91h2M289 89.92h2M363.1 89.92h2"/><path stroke="#c20000" d="M281 55.68h2M287 55.68h2M365.1 55.68h2M371.1 55.68h2M293 57.69h2M359.1 57.69h2M273 59.71h2M379.1 59.71h2M271 61.72h2M381.1 61.72h2M301 67.76h2M351.1 67.76h2M301 77.84h2M351.1 77.84h2M271 83.88h2M381.1 83.88h2M273 85.89h2M379.1 85.89h2M293 87.91h2M359.1 87.91h2M281 89.92h2M287 89.92h2M365.1 89.92h2M371.1 89.92h2"/><path stroke="#cd0000" d="M283 55.68h4M367.1 55.68h4M299 63.74h2M353.1 63.74h2M269 65.75h2M383.1 65.75h2M269 79.85h2M383.1 79.85h2M299 81.86h2M353.1 81.86h2M283 89.92h4M367.1 89.92h4"/><path stroke="#d80000" d="M277 57.69h2M375.1 57.69h2M295 59.71h2M357.1 59.71h2M297 61.72h2M355.1 61.72h2M301 69.78h2M351.1 69.78h2M301 71.79h2M351.1 71.79h2M301 73.81h2M351.1 73.81h2M301 75.82h2M351.1 75.82h2M297 83.88h2M355.1 83.88h2M295 85.89h2M357.1 85.89h2M277 87.91h2M375.1 87.91h2"/><path stroke="#e30000" d="M291 57.69h2M361.1 57.69h2M271 63.74h2M381.1 63.74h2M269 67.76h2M383.1 67.76h2M269 77.84h2M383.1 77.84h2M271 81.86h2M381.1 81.86h2M291 87.91h2M361.1 87.91h2"/><path stroke="#ed0000" d="M279 57.69h2M373.1 57.69h2M275 59.71h2M377.1 59.71h2M273 61.72h2M379.1 61.72h2M299 65.75h2M353.1 65.75h2M299 79.85h2M353.1 79.85h2M273 83.88h2M379.1 83.88h2M275 85.89h2M377.1 85.89h2M279 87.91h2M373.1 87.91h2"/><path stroke="#f80000" d="M289 57.69h2M363.1 57.69h2M269 69.78h2M383.1 69.78h2M269 75.82h2M383.1 75.82h2M289 87.91h2M363.1 87.91h2"/><path stroke="#ff0400" d="M281 57.69h2M287 57.69h2M365.1 57.69h2M371.1 57.69h2M293 59.71h2M359.1 59.71h2M297 63.74h2M355.1 63.74h2M299 67.76h2M353.1 67.76h2M269 71.79h2M383.1 71.79h2M269 73.81h2M383.1 73.81h2M299 77.84h2M353.1 77.84h2M297 81.86h2M355.1 81.86h2M293 85.89h2M359.1 85.89h2M281 87.91h2M287 87.91h2M365.1 87.91h2M371.1 87.91h2"/><path stroke="#ff0f00" d="M283 57.69h4M367.1 57.69h4M277 59.71h2M375.1 59.71h2M295 61.72h2M357.1 61.72h2M271 65.75h2M381.1 65.75h2M271 79.85h2M381.1 79.85h2M295 83.88h2M357.1 83.88h2M277 85.89h2M375.1 85.89h2M283 87.91h4M367.1 87.91h4"/><path stroke="#ff1a00" d="M299 69.78h2M353.1 69.78h2M299 75.82h2M353.1 75.82h2"/><path stroke="#ff2400" d="M291 59.71h2M361.1 59.71h2M275 61.72h2M377.1 61.72h2M273 63.74h2M379.1 63.74h2M297 65.75h2M355.1 65.75h2M271 67.76h2M381.1 67.76h2M299 71.79h2M353.1 71.79h2M299 73.81h2M353.1 73.81h2M271 77.84h2M381.1 77.84h2M297 79.85h2M355.1 79.85h2M273 81.86h2M379.1 81.86h2M275 83.88h2M377.1 83.88h2M291 85.89h2M361.1 85.89h2"/><path stroke="#ff2f00" d="M279 59.71h2M373.1 59.71h2M279 85.89h2M373.1 85.89h2"/><path stroke="#ff3a00" d="M289 59.71h2M363.1 59.71h2M293 61.72h2M359.1 61.72h2M295 63.74h2M357.1 63.74h2M271 69.78h2M381.1 69.78h2M271 75.82h2M381.1 75.82h2M295 81.86h2M357.1 81.86h2M293 83.88h2M359.1 83.88h2M289 85.89h2M363.1 85.89h2"/><path stroke="#ff4500" d="M281 59.71h2M287 59.71h2M365.1 59.71h2M371.1 59.71h2M277 61.72h2M375.1 61.72h2M273 65.75h2M379.1 65.75h2M297 67.76h2M355.1 67.76h2M271 71.79h2M381.1 71.79h2M271 73.81h2M381.1 73.81h2M297 77.84h2M355.1 77.84h2M273 79.85h2M379.1 79.85h2M277 83.88h2M375.1 83.88h2M281 85.89h2M287 85.89h2M365.1 85.89h2M371.1 85.89h2"/><path stroke="#ff5000" d="M283 59.71h4M367.1 59.71h4M275 63.74h2M377.1 63.74h2M275 81.86h2M377.1 81.86h2M283 85.89h4M367.1 85.89h4"/><path stroke="#ff5a00" d="M291 61.72h2M361.1 61.72h2M295 65.75h2M357.1 65.75h2M297 69.78h2M355.1 69.78h2M297 75.82h2M355.1 75.82h2M295 79.85h2M357.1 79.85h2M291 83.88h2M361.1 83.88h2"/><path stroke="#ff6500" d="M279 61.72h2M373.1 61.72h2M293 63.74h2M359.1 63.74h2M273 67.76h2M379.1 67.76h2M297 71.79h2M355.1 71.79h2M297 73.81h2M355.1 73.81h2M273 77.84h2M379.1 77.84h2M293 81.86h2M359.1 81.86h2M279 83.88h2M373.1 83.88h2"/><path stroke="#ff7b00" d="M289 61.72h2M363.1 61.72h2M275 65.75h2M377.1 65.75h2M273 69.78h2M379.1 69.78h2M273 75.82h2M379.1 75.82h2M275 79.85h2M377.1 79.85h2M289 83.88h2M363.1 83.88h2"/><path stroke="#ff8600" d="M277 63.74h2M375.1 63.74h2M295 67.76h2M357.1 67.76h2M295 77.84h2M357.1 77.84h2M277 81.86h2M375.1 81.86h2"/><path stroke="#ff9000" d="M281 61.72h2M371.1 61.72h2M273 71.79h2M379.1 71.79h2M273 73.81h2M379.1 73.81h2M281 83.88h2M371.1 83.88h2"/><path stroke="#ff9b00" d="M287 61.72h2M365.1 61.72h2M287 83.88h2M365.1 83.88h2"/><path stroke="#ffa600" d="M283 61.72h4M367.1 61.72h4M291 63.74h2M361.1 63.74h2M293 65.75h2M359.1 65.75h2M295 69.78h2M357.1 69.78h2M295 75.82h2M357.1 75.82h2M293 79.85h2M359.1 79.85h2M291 81.86h2M361.1 81.86h2M283 83.88h4M367.1 83.88h4"/><path stroke="#ffc600" d="M275 67.76h2M377.1 67.76h2M295 71.79h2M357.1 71.79h2M295 73.81h2M357.1 73.81h2M275 77.84h2M377.1 77.84h2"/><path stroke="#ffd100" d="M279 63.74h2M373.1 63.74h2M279 81.86h2M373.1 81.86h2"/><path stroke="#ffe700" d="M289 63.74h2M363.1 63.74h2M277 65.75h2M375.1 65.75h2M277 79.85h2M375.1 79.85h2M289 81.86h2M363.1 81.86h2"/><path stroke="#fff200" d="M293 67.76h2M359.1 67.76h2M275 69.78h2M377.1 69.78h2M275 75.82h2M377.1 75.82h2M293 77.84h2M359.1 77.84h2"/><path stroke="#fffc00" d="M281 63.74h2M371.1 63.74h2M281 81.86h2M371.1 81.86h2"/><path stroke="#ffff0c" d="M287 63.74h2M365.1 63.74h2M291 65.75h2M361.1 65.75h2M275 71.79h2M377.1 71.79h2M275 73.81h2M377.1 73.81h2M291 79.85h2M361.1 79.85h2M287 81.86h2M365.1 81.86h2"/><path stroke="#ffff1c" d="M283 63.74h4M367.1 63.74h4M277 67.76h2M375.1 67.76h2M293 69.78h2M359.1 69.78h2M293 75.82h2M359.1 75.82h2M277 77.84h2M375.1 77.84h2M283 81.86h4M367.1 81.86h4"/><path stroke="#ffff2d" d="M279 65.75h2M373.1 65.75h2M279 79.85h2M373.1 79.85h2"/><path stroke="#ffff3d" d="M289 65.75h2M363.1 65.75h2M293 71.79h2M359.1 71.79h2M293 73.81h2M359.1 73.81h2M289 79.85h2M363.1 79.85h2"/><path stroke="#ffff4d" d="M281 65.75h2M371.1 65.75h2M291 67.76h2M361.1 67.76h2M277 69.78h2M375.1 69.78h2M277 75.82h2M375.1 75.82h2M291 77.84h2M361.1 77.84h2M281 79.85h2M371.1 79.85h2"/><path stroke="#ffff5d" d="M287 65.75h2M365.1 65.75h2M279 67.76h2M373.1 67.76h2M277 71.79h2M375.1 71.79h2M277 73.81h2M375.1 73.81h2M279 77.84h2M373.1 77.84h2M287 79.85h2M365.1 79.85h2"/><path stroke="#ffff6d" d="M283 65.75h4M367.1 65.75h4M291 69.78h2M361.1 69.78h2M291 75.82h2M361.1 75.82h2M283 79.85h4M367.1 79.85h4"/><path stroke="#ffff7d" d="M289 67.76h2M363.1 67.76h2M291 71.79h2M361.1 71.79h2M291 73.81h2M361.1 73.81h2M289 77.84h2M363.1 77.84h2"/><path stroke="#ffff8e" d="M281 67.76h2M371.1 67.76h2M279 69.78h2M373.1 69.78h2M279 75.82h2M373.1 75.82h2M281 77.84h2M371.1 77.84h2"/><path stroke="#ffff9e" d="M287 67.76h2M365.1 67.76h2M287 77.84h2M365.1 77.84h2"/><path stroke="#ffffae" d="M283 67.76h4M367.1 67.76h4M289 69.78h2M363.1 69.78h2M279 71.79h2M373.1 71.79h2M279 73.81h2M373.1 73.81h2M289 75.82h2M363.1 75.82h2M283 77.84h4M367.1 77.84h4"/><path stroke="#ffffbe" d="M281 69.78h2M371.1 69.78h2M289 71.79h2M363.1 71.79h2M289 73.81h2M363.1 73.81h2M281 75.82h2M371.1 75.82h2"/><path stroke="#ffffce" d="M287 69.78h2M365.1 69.78h2M287 75.82h2M365.1 75.82h2"/><path stroke="#ffffdf" d="M283 69.78h4M367.1 69.78h4M281 71.79h2M371.1 71.79h2M281 73.81h2M371.1 73.81h2M283 75.82h4M367.1 75.82h4"/><path stroke="#ffffef" d="M283 71.79h2M287 71.79h2M365.1 71.79h2M369.1 71.79h2M283 73.81h2M287 73.81h2M365.1 73.81h2M369.1 73.81h2"/><path stroke="#ffffff" d="M285 71.79h2M367.1 71.79h2M285 73.81h2M367.1 73.81h2"/></g></g></g><text x="252.80" y="49.96" font-size="9.6" text-anchor="end" fill="#262626">5</text><text x="252.80" y="76.16" font-size="9.6" text-anchor="end" fill="#262626">0</text><text x="252.80" y="103.46" font-size="9.6" text-anchor="end" fill="#262626">-5</text><text x="258.10" y="113.90" font-size="9" text-anchor="middle" fill="#262626">-12.6</text><text x="291.70" y="113.90" font-size="9" text-anchor="middle" fill="#262626">-6.3</text><text x="322.20" y="113.90" font-size="9" text-anchor="middle" fill="#262626">0</text><text x="359.30" y="113.90" font-size="9" text-anchor="middle" fill="#262626">6.3</text><text x="395.60" y="113.90" font-size="9" text-anchor="middle" fill="#262626">12.6</text><text x="327.00" y="126.50" font-size="10" text-anchor="middle" fill="#262626">x (mm)</text><text x="244.00" y="72.40" font-size="10" text-anchor="middle" fill="#262626" transform="rotate(-90 244.00 72.40)">y (mm)</text><defs><linearGradient id="cb39" x1="0" y1="1" x2="0" y2="0"><stop offset="0" stop-color="#000"/><stop offset="0.375" stop-color="#f00"/><stop offset="0.75" stop-color="#ff0"/><stop offset="1" stop-color="#fff"/></linearGradient></defs><rect x="411.00" y="45.00" width="8.50" height="55.50" fill="url(#cb39)" stroke="#a0a0a0" stroke-width="0.5"/><text x="421.70" y="47.88" font-size="8" text-anchor="start" fill="#262626">1</text><text x="421.70" y="58.98" font-size="8" text-anchor="start" fill="#262626">0.8</text><text x="421.70" y="70.08" font-size="8" text-anchor="start" fill="#262626">0.6</text><text x="421.70" y="81.18" font-size="8" text-anchor="start" fill="#262626">0.4</text><text x="421.70" y="92.28" font-size="8" text-anchor="start" fill="#262626">0.2</text><text x="421.70" y="103.38" font-size="8" text-anchor="start" fill="#262626">0</text><text x="444.50" y="72.40" font-size="8.4" text-anchor="middle" fill="#262626" transform="rotate(-90 444.50 72.40)">Normalized pressure</text><text x="558.80" y="48.20" font-size="10" font-weight="bold" text-anchor="middle" fill="#000">Simulated pressure map</text><defs><clipPath id="hc49"><rect x="466.20" y="59.90" width="187.10" height="26.50"/></clipPath><filter id="hf49" x="-5%" y="-10%" width="110%" height="120%"><feGaussianBlur stdDeviation="0.9"/></filter></defs><g clip-path="url(#hc49)"><g filter="url(#hf49)"><g fill="none" stroke-width="1.532" shape-rendering="crispEdges"><rect x="463.21" y="56.91" width="193.09" height="32.49" fill="#000" stroke="none"/><path stroke="#0b0000" d="M463.2 57.69h3M499.1 57.69h4.5M514.1 57.69h1.5M532.1 57.69h1.5M535.1 57.69h1.4M583 57.69h1.4M585.9 57.69h1.5M606.9 57.69h1.5M617.4 57.69h4.5M650.3 57.69h4.5M463.2 59.16h1.5M479.7 59.16h7.5M500.6 59.16h4.5M514.1 59.16h1.5M517.1 59.16h1.5M533.6 59.16h1.5M536.5 59.16h1.5M556 59.16h1.5M563.5 59.16h1.5M583 59.16h1.4M585.9 59.16h1.5M602.4 59.16h1.5M605.4 59.16h1.5M615.9 59.16h4.5M653.3 59.16h3M475.2 60.64h3M487.2 60.64h4.4M502.1 60.64h3M515.6 60.64h1.5M533.6 60.64h1.5M536.5 60.64h1.5M554.5 60.64h1.5M565 60.64h1.5M581.5 60.64h1.5M585.9 60.64h1.5M603.9 60.64h1.5M615.9 60.64h3M630.8 60.64h1.5M641.3 60.64h1.5M654.8 60.64h1.5M491.6 62.11h1.5M503.6 62.11h3M515.6 62.11h1.5M518.6 62.11h1.5M533.6 62.11h1.5M536.5 62.11h1.5M554.5 62.11h1.5M565 62.11h1.5M581.5 62.11h1.5M584.4 62.11h1.5M600.9 62.11h1.5M603.9 62.11h1.5M614.4 62.11h3M493.1 63.58h1.5M505.1 63.58h1.5M517.1 63.58h1.5M535.1 63.58h1.4M553 63.58h1.5M566.5 63.58h1.5M581.5 63.58h1.5M584.4 63.58h1.5M602.4 63.58h1.5M612.9 63.58h3M494.6 65.05h1.5M506.6 65.05h1.5M517.1 65.05h1.5M520.1 65.05h1.5M535.1 65.05h1.4M538 65.05h1.5M553 65.05h1.5M566.5 65.05h1.5M581.5 65.05h1.5M584.4 65.05h1.5M599.4 65.05h1.5M602.4 65.05h1.5M612.9 65.05h1.5M496.1 66.53h1.5M506.6 66.53h1.5M517.1 66.53h1.5M520.1 66.53h1.5M535.1 66.53h1.4M538 66.53h1.5M553 66.53h1.5M566.5 66.53h1.5M599.4 66.53h1.5M612.9 66.53h1.5M518.6 68h3M535.1 68h1.4M538 68h1.5M580 68h1.5M583 68h1.4M599.4 68h3M518.6 69.47h1.5M538 69.47h1.5M580 69.47h1.5M583 69.47h1.4M600.9 69.47h1.5M518.6 70.94h1.5M538 70.94h1.5M580 70.94h1.5M583 70.94h1.4M600.9 70.94h1.5M518.6 72.41h1.5M536.5 72.41h3M580 72.41h1.5M583 72.41h1.4M600.9 72.41h1.5M518.6 73.89h1.5M536.5 73.89h3M580 73.89h1.5M583 73.89h1.4M600.9 73.89h1.5M518.6 75.36h1.5M538 75.36h1.5M580 75.36h1.5M583 75.36h1.4M600.9 75.36h1.5M518.6 76.83h1.5M538 76.83h1.5M580 76.83h1.5M583 76.83h1.4M600.9 76.83h1.5M518.6 78.3h3M535.1 78.3h1.4M538 78.3h1.5M580 78.3h1.5M583 78.3h1.4M599.4 78.3h3M496.1 79.78h1.5M506.6 79.78h1.5M517.1 79.78h1.5M520.1 79.78h1.5M535.1 79.78h1.4M538 79.78h1.5M553 79.78h1.5M566.5 79.78h1.5M599.4 79.78h1.5M612.9 79.78h1.5M494.6 81.25h1.5M506.6 81.25h1.5M517.1 81.25h1.5M520.1 81.25h1.5M535.1 81.25h1.4M538 81.25h1.5M553 81.25h1.5M566.5 81.25h1.5M581.5 81.25h1.5M584.4 81.25h1.5M599.4 81.25h1.5M602.4 81.25h1.5M612.9 81.25h1.5M493.1 82.72h1.5M505.1 82.72h1.5M517.1 82.72h1.5M535.1 82.72h1.4M553 82.72h1.5M566.5 82.72h1.5M581.5 82.72h1.5M584.4 82.72h1.5M602.4 82.72h1.5M612.9 82.72h3M491.6 84.19h1.5M503.6 84.19h3M515.6 84.19h1.5M518.6 84.19h1.5M533.6 84.19h1.5M536.5 84.19h1.5M554.5 84.19h1.5M565 84.19h1.5M581.5 84.19h1.5M584.4 84.19h1.5M600.9 84.19h1.5M603.9 84.19h1.5M614.4 84.19h3M475.2 85.66h3M487.2 85.66h4.4M502.1 85.66h3M515.6 85.66h1.5M533.6 85.66h1.5M536.5 85.66h1.5M554.5 85.66h1.5M565 85.66h1.5M581.5 85.66h1.5M585.9 85.66h1.5M603.9 85.66h1.5M615.9 85.66h3M630.8 85.66h1.5M641.3 85.66h1.5M654.8 85.66h1.5M463.2 87.14h1.5M479.7 87.14h7.5M500.6 87.14h4.5M514.1 87.14h1.5M517.1 87.14h1.5M533.6 87.14h1.5M536.5 87.14h1.5M556 87.14h1.5M563.5 87.14h1.5M583 87.14h1.4M585.9 87.14h1.5M602.4 87.14h1.5M605.4 87.14h1.5M615.9 87.14h4.5M653.3 87.14h3M463.2 88.61h3M499.1 88.61h4.5M514.1 88.61h1.5M532.1 88.61h1.5M535.1 88.61h1.4M583 88.61h1.4M585.9 88.61h1.5M606.9 88.61h1.5M617.4 88.61h4.5M650.3 88.61h4.5"/><path stroke="#160000" d="M466.2 57.69h6M476.7 57.69h12M493.1 57.69h6M503.6 57.69h1.5M512.6 57.69h1.5M517.1 57.69h1.5M536.5 57.69h1.5M550 57.69h3M568 57.69h3M587.4 57.69h1.5M602.4 57.69h1.5M615.9 57.69h1.5M621.9 57.69h4.5M630.8 57.69h10.5M647.3 57.69h3M654.8 57.69h1.5M464.7 59.16h4.5M473.7 59.16h6M487.2 59.16h4.4M496.1 59.16h4.5M505.1 59.16h1.5M512.6 59.16h1.5M532.1 59.16h1.5M551.5 59.16h1.5M568 59.16h1.5M581.5 59.16h1.5M587.4 59.16h1.5M606.9 59.16h1.5M614.4 59.16h1.5M620.4 59.16h3M627.9 59.16h17.9M650.3 59.16h3M463.2 60.64h4.5M470.7 60.64h4.5M478.2 60.64h4.5M484.2 60.64h3M491.6 60.64h3M499.1 60.64h3M505.1 60.64h1.5M514.1 60.64h1.5M518.6 60.64h1.5M551.5 60.64h1.5M568 60.64h1.5M600.9 60.64h1.5M605.4 60.64h1.5M612.9 60.64h3M618.9 60.64h3M624.9 60.64h5.9M632.3 60.64h3M636.8 60.64h4.5M642.8 60.64h4.5M651.8 60.64h3M463.2 62.11h3M469.2 62.11h4.5M490.1 62.11h1.5M493.1 62.11h3M500.6 62.11h3M506.6 62.11h1.5M538 62.11h1.5M551.5 62.11h1.5M568 62.11h1.5M585.9 62.11h1.5M612.9 62.11h1.5M617.4 62.11h1.5M623.4 62.11h6M645.8 62.11h3M653.3 62.11h3M463.2 63.58h1.5M467.7 63.58h1.5M494.6 63.58h3M502.1 63.58h3M506.6 63.58h3M515.6 63.58h1.5M520.1 63.58h1.5M533.6 63.58h1.5M538 63.58h1.5M551.5 63.58h1.5M554.5 63.58h1.5M565 63.58h1.5M580 63.58h1.5M585.9 63.58h1.5M599.4 63.58h1.5M603.9 63.58h1.5M611.4 63.58h1.5M615.9 63.58h3M621.9 63.58h4.5M654.8 63.58h1.5M496.1 65.05h3M503.6 65.05h3M508.1 65.05h1.5M533.6 65.05h1.5M580 65.05h1.5M611.4 65.05h1.5M614.4 65.05h3M621.9 65.05h3M497.6 66.53h1.5M503.6 66.53h3M508.1 66.53h1.5M580 66.53h1.5M584.4 66.53h1.5M602.4 66.53h1.5M609.9 66.53h3M614.4 66.53h1.5M620.4 66.53h3M497.6 68h3M505.1 68h4.5M517.1 68h1.5M553 68h1.5M566.5 68h1.5M584.4 68h1.5M602.4 68h1.5M609.9 68h6M620.4 68h1.5M497.6 69.47h3M505.1 69.47h6M517.1 69.47h1.5M521.6 69.47h1.5M535.1 69.47h1.4M553 69.47h1.5M566.5 69.47h1.5M584.4 69.47h1.5M597.9 69.47h1.5M602.4 69.47h1.5M609.9 69.47h4.5M618.9 69.47h3M497.6 70.94h3M505.1 70.94h6M517.1 70.94h1.5M521.6 70.94h1.5M535.1 70.94h1.4M553 70.94h1.5M566.5 70.94h1.5M584.4 70.94h1.5M597.9 70.94h1.5M609.9 70.94h4.5M618.9 70.94h3M497.6 72.41h3M506.6 72.41h4.5M521.6 72.41h1.5M535.1 72.41h1.4M553 72.41h1.5M566.5 72.41h1.5M584.4 72.41h1.5M597.9 72.41h1.5M609.9 72.41h4.5M618.9 72.41h3M497.6 73.89h3M506.6 73.89h4.5M521.6 73.89h1.5M535.1 73.89h1.4M553 73.89h1.5M566.5 73.89h1.5M584.4 73.89h1.5M597.9 73.89h1.5M609.9 73.89h4.5M618.9 73.89h3M497.6 75.36h3M505.1 75.36h6M517.1 75.36h1.5M521.6 75.36h1.5M535.1 75.36h1.4M553 75.36h1.5M566.5 75.36h1.5M584.4 75.36h1.5M597.9 75.36h1.5M609.9 75.36h4.5M618.9 75.36h3M497.6 76.83h3M505.1 76.83h6M517.1 76.83h1.5M521.6 76.83h1.5M535.1 76.83h1.4M553 76.83h1.5M566.5 76.83h1.5M584.4 76.83h1.5M597.9 76.83h1.5M602.4 76.83h1.5M609.9 76.83h4.5M618.9 76.83h3M497.6 78.3h3M505.1 78.3h4.5M517.1 78.3h1.5M553 78.3h1.5M566.5 78.3h1.5M584.4 78.3h1.5M602.4 78.3h1.5M609.9 78.3h6M620.4 78.3h1.5M497.6 79.78h1.5M503.6 79.78h3M508.1 79.78h1.5M580 79.78h1.5M584.4 79.78h1.5M602.4 79.78h1.5M609.9 79.78h3M614.4 79.78h1.5M620.4 79.78h3M496.1 81.25h3M503.6 81.25h3M508.1 81.25h1.5M533.6 81.25h1.5M580 81.25h1.5M611.4 81.25h1.5M614.4 81.25h3M621.9 81.25h3M463.2 82.72h1.5M467.7 82.72h1.5M494.6 82.72h3M502.1 82.72h3M506.6 82.72h3M515.6 82.72h1.5M520.1 82.72h1.5M533.6 82.72h1.5M538 82.72h1.5M551.5 82.72h1.5M554.5 82.72h1.5M565 82.72h1.5M580 82.72h1.5M585.9 82.72h1.5M599.4 82.72h1.5M603.9 82.72h1.5M611.4 82.72h1.5M615.9 82.72h3M621.9 82.72h4.5M654.8 82.72h1.5M463.2 84.19h3M469.2 84.19h4.5M490.1 84.19h1.5M493.1 84.19h3M500.6 84.19h3M506.6 84.19h1.5M538 84.19h1.5M551.5 84.19h1.5M568 84.19h1.5M585.9 84.19h1.5M612.9 84.19h1.5M617.4 84.19h1.5M623.4 84.19h6M645.8 84.19h3M653.3 84.19h3M463.2 85.66h4.5M470.7 85.66h4.5M478.2 85.66h4.5M484.2 85.66h3M491.6 85.66h3M499.1 85.66h3M505.1 85.66h1.5M514.1 85.66h1.5M518.6 85.66h1.5M551.5 85.66h1.5M568 85.66h1.5M600.9 85.66h1.5M605.4 85.66h1.5M612.9 85.66h3M618.9 85.66h3M624.9 85.66h5.9M632.3 85.66h3M636.8 85.66h4.5M642.8 85.66h4.5M651.8 85.66h3M464.7 87.14h4.5M473.7 87.14h6M487.2 87.14h4.4M496.1 87.14h4.5M505.1 87.14h1.5M512.6 87.14h1.5M532.1 87.14h1.5M551.5 87.14h1.5M568 87.14h1.5M581.5 87.14h1.5M587.4 87.14h1.5M606.9 87.14h1.5M614.4 87.14h1.5M620.4 87.14h3M627.9 87.14h17.9M650.3 87.14h3M466.2 88.61h6M476.7 88.61h12M493.1 88.61h6M503.6 88.61h1.5M512.6 88.61h1.5M517.1 88.61h1.5M536.5 88.61h1.5M550 88.61h3M568 88.61h3M587.4 88.61h1.5M602.4 88.61h1.5M615.9 88.61h1.5M621.9 88.61h4.5M630.8 88.61h10.5M647.3 88.61h3M654.8 88.61h1.5"/><path stroke="#200000" d="M472.2 57.69h4.5M488.7 57.69h4.4M505.1 57.69h1.5M511.1 57.69h1.5M530.6 57.69h1.5M548.5 57.69h1.5M581.5 57.69h1.5M588.9 57.69h1.5M608.4 57.69h1.5M614.4 57.69h1.5M626.4 57.69h4.4M641.3 57.69h6M469.2 59.16h4.5M491.6 59.16h4.5M506.6 59.16h1.5M518.6 59.16h1.5M550 59.16h1.5M569.5 59.16h1.5M600.9 59.16h1.5M608.4 59.16h1.5M612.9 59.16h1.5M623.4 59.16h4.5M645.8 59.16h4.5M467.7 60.64h3M482.7 60.64h1.5M494.6 60.64h4.5M506.6 60.64h1.5M512.6 60.64h1.5M532.1 60.64h1.5M538 60.64h1.5M550 60.64h1.5M556 60.64h1.5M563.5 60.64h1.5M580 60.64h1.5M587.4 60.64h1.5M606.9 60.64h1.5M611.4 60.64h1.5M621.9 60.64h3M635.3 60.64h1.5M647.3 60.64h4.5M466.2 62.11h3M496.1 62.11h4.5M508.1 62.11h1.5M514.1 62.11h1.5M520.1 62.11h1.5M532.1 62.11h1.5M550 62.11h1.5M580 62.11h1.5M599.4 62.11h1.5M605.4 62.11h1.5M611.4 62.11h1.5M618.9 62.11h4.5M648.8 62.11h4.5M464.7 63.58h3M469.2 63.58h1.5M497.6 63.58h4.5M514.1 63.58h1.5M568 63.58h1.5M605.4 63.58h1.5M609.9 63.58h1.5M618.9 63.58h3M648.8 63.58h6M463.2 65.05h4.5M499.1 65.05h4.5M509.6 65.05h1.5M515.6 65.05h1.5M551.5 65.05h1.5M554.5 65.05h1.5M565 65.05h1.5M568 65.05h1.5M585.9 65.05h1.5M603.9 65.05h1.5M609.9 65.05h1.5M617.4 65.05h4.5M651.8 65.05h4.5M463.2 66.53h3M499.1 66.53h4.5M509.6 66.53h1.5M515.6 66.53h1.5M521.6 66.53h1.5M533.6 66.53h1.5M539.5 66.53h1.5M551.5 66.53h1.5M585.9 66.53h1.5M603.9 66.53h1.5M615.9 66.53h4.5M653.3 66.53h3M463.2 68h1.5M496.1 68h1.5M500.6 68h4.5M509.6 68h1.5M521.6 68h1.5M533.6 68h1.5M539.5 68h1.5M551.5 68h1.5M597.9 68h1.5M608.4 68h1.5M615.9 68h4.5M621.9 68h1.5M654.8 68h1.5M463.2 69.47h1.5M500.6 69.47h4.5M539.5 69.47h1.5M551.5 69.47h1.5M578.5 69.47h1.5M608.4 69.47h1.5M614.4 69.47h4.5M654.8 69.47h1.5M500.6 70.94h4.5M539.5 70.94h1.5M578.5 70.94h1.5M602.4 70.94h1.5M608.4 70.94h1.5M614.4 70.94h4.5M500.6 72.41h6M517.1 72.41h1.5M539.5 72.41h1.5M578.5 72.41h1.5M602.4 72.41h1.5M608.4 72.41h1.5M614.4 72.41h4.5M500.6 73.89h6M517.1 73.89h1.5M539.5 73.89h1.5M578.5 73.89h1.5M602.4 73.89h1.5M608.4 73.89h1.5M614.4 73.89h4.5M500.6 75.36h4.5M539.5 75.36h1.5M578.5 75.36h1.5M602.4 75.36h1.5M608.4 75.36h1.5M614.4 75.36h4.5M463.2 76.83h1.5M500.6 76.83h4.5M539.5 76.83h1.5M551.5 76.83h1.5M578.5 76.83h1.5M608.4 76.83h1.5M614.4 76.83h4.5M654.8 76.83h1.5M463.2 78.3h1.5M496.1 78.3h1.5M500.6 78.3h4.5M509.6 78.3h1.5M521.6 78.3h1.5M533.6 78.3h1.5M539.5 78.3h1.5M551.5 78.3h1.5M597.9 78.3h1.5M608.4 78.3h1.5M615.9 78.3h4.5M621.9 78.3h1.5M654.8 78.3h1.5M463.2 79.78h3M499.1 79.78h4.5M509.6 79.78h1.5M515.6 79.78h1.5M521.6 79.78h1.5M533.6 79.78h1.5M539.5 79.78h1.5M551.5 79.78h1.5M585.9 79.78h1.5M603.9 79.78h1.5M615.9 79.78h4.5M653.3 79.78h3M463.2 81.25h4.5M499.1 81.25h4.5M509.6 81.25h1.5M515.6 81.25h1.5M551.5 81.25h1.5M554.5 81.25h1.5M565 81.25h1.5M568 81.25h1.5M585.9 81.25h1.5M603.9 81.25h1.5M609.9 81.25h1.5M617.4 81.25h4.5M651.8 81.25h4.5M464.7 82.72h3M469.2 82.72h1.5M497.6 82.72h4.5M514.1 82.72h1.5M568 82.72h1.5M605.4 82.72h1.5M609.9 82.72h1.5M618.9 82.72h3M648.8 82.72h6M466.2 84.19h3M496.1 84.19h4.5M508.1 84.19h1.5M514.1 84.19h1.5M520.1 84.19h1.5M532.1 84.19h1.5M550 84.19h1.5M580 84.19h1.5M599.4 84.19h1.5M605.4 84.19h1.5M611.4 84.19h1.5M618.9 84.19h4.5M648.8 84.19h4.5M467.7 85.66h3M482.7 85.66h1.5M494.6 85.66h4.5M506.6 85.66h1.5M512.6 85.66h1.5M532.1 85.66h1.5M538 85.66h1.5M550 85.66h1.5M556 85.66h1.5M563.5 85.66h1.5M580 85.66h1.5M587.4 85.66h1.5M606.9 85.66h1.5M611.4 85.66h1.5M621.9 85.66h3M635.3 85.66h1.5M647.3 85.66h4.5M469.2 87.14h4.5M491.6 87.14h4.5M506.6 87.14h1.5M518.6 87.14h1.5M550 87.14h1.5M569.5 87.14h1.5M600.9 87.14h1.5M608.4 87.14h1.5M612.9 87.14h1.5M623.4 87.14h4.5M645.8 87.14h4.5M472.2 88.61h4.5M488.7 88.61h4.4M505.1 88.61h1.5M511.1 88.61h1.5M530.6 88.61h1.5M548.5 88.61h1.5M581.5 88.61h1.5M588.9 88.61h1.5M608.4 88.61h1.5M614.4 88.61h1.5M626.4 88.61h4.4M641.3 88.61h6"/><path stroke="#2b0000" d="M506.6 57.69h4.5M518.6 57.69h1.5M538 57.69h1.5M571 57.69h1.5M580 57.69h1.5M600.9 57.69h1.5M609.9 57.69h4.5M508.1 59.16h4.5M530.6 59.16h1.5M538 59.16h1.5M548.5 59.16h1.5M580 59.16h1.5M588.9 59.16h1.5M609.9 59.16h3M508.1 60.64h4.5M520.1 60.64h1.5M530.6 60.64h1.5M548.5 60.64h1.5M569.5 60.64h1.5M599.4 60.64h1.5M608.4 60.64h3M473.7 62.11h1.5M488.7 62.11h1.4M509.6 62.11h4.5M569.5 62.11h1.5M587.4 62.11h1.5M606.9 62.11h4.5M629.4 62.11h1.4M644.3 62.11h1.5M491.6 63.58h1.5M509.6 63.58h1.5M512.6 63.58h1.5M532.1 63.58h1.5M539.5 63.58h1.5M550 63.58h1.5M578.5 63.58h1.5M587.4 63.58h1.5M606.9 63.58h3M626.4 63.58h1.5M511.1 65.05h1.5M514.1 65.05h1.5M521.6 65.05h1.5M539.5 65.05h1.5M550 65.05h1.5M578.5 65.05h1.5M597.9 65.05h1.5M605.4 65.05h4.5M511.1 66.53h1.5M514.1 66.53h1.5M554.5 66.53h1.5M565 66.53h1.5M568 66.53h1.5M578.5 66.53h1.5M597.9 66.53h1.5M605.4 66.53h1.5M608.4 66.53h1.5M511.1 68h1.5M515.6 68h1.5M565 68h1.5M568 68h1.5M578.5 68h1.5M585.9 68h1.5M603.9 68h1.5M606.9 68h1.5M511.1 69.47h1.5M515.6 69.47h1.5M533.6 69.47h1.5M568 69.47h1.5M585.9 69.47h1.5M603.9 69.47h1.5M606.9 69.47h1.5M463.2 70.94h1.5M511.1 70.94h1.5M515.6 70.94h1.5M533.6 70.94h1.5M551.5 70.94h1.5M603.9 70.94h1.5M606.9 70.94h1.5M654.8 70.94h1.5M511.1 72.41h1.5M515.6 72.41h1.5M533.6 72.41h1.5M551.5 72.41h1.5M603.9 72.41h1.5M606.9 72.41h1.5M511.1 73.89h1.5M515.6 73.89h1.5M533.6 73.89h1.5M551.5 73.89h1.5M603.9 73.89h1.5M606.9 73.89h1.5M463.2 75.36h1.5M511.1 75.36h1.5M515.6 75.36h1.5M533.6 75.36h1.5M551.5 75.36h1.5M603.9 75.36h1.5M606.9 75.36h1.5M654.8 75.36h1.5M511.1 76.83h1.5M515.6 76.83h1.5M533.6 76.83h1.5M568 76.83h1.5M585.9 76.83h1.5M603.9 76.83h1.5M606.9 76.83h1.5M511.1 78.3h1.5M515.6 78.3h1.5M565 78.3h1.5M568 78.3h1.5M578.5 78.3h1.5M585.9 78.3h1.5M603.9 78.3h1.5M606.9 78.3h1.5M511.1 79.78h1.5M514.1 79.78h1.5M554.5 79.78h1.5M565 79.78h1.5M568 79.78h1.5M578.5 79.78h1.5M597.9 79.78h1.5M605.4 79.78h1.5M608.4 79.78h1.5M511.1 81.25h1.5M514.1 81.25h1.5M521.6 81.25h1.5M539.5 81.25h1.5M550 81.25h1.5M578.5 81.25h1.5M597.9 81.25h1.5M605.4 81.25h4.5M491.6 82.72h1.5M509.6 82.72h1.5M512.6 82.72h1.5M532.1 82.72h1.5M539.5 82.72h1.5M550 82.72h1.5M578.5 82.72h1.5M587.4 82.72h1.5M606.9 82.72h3M626.4 82.72h1.5M473.7 84.19h1.5M488.7 84.19h1.4M509.6 84.19h4.5M569.5 84.19h1.5M587.4 84.19h1.5M606.9 84.19h4.5M629.4 84.19h1.4M644.3 84.19h1.5M508.1 85.66h4.5M520.1 85.66h1.5M530.6 85.66h1.5M548.5 85.66h1.5M569.5 85.66h1.5M599.4 85.66h1.5M608.4 85.66h3M508.1 87.14h4.5M530.6 87.14h1.5M538 87.14h1.5M548.5 87.14h1.5M580 87.14h1.5M588.9 87.14h1.5M609.9 87.14h3M506.6 88.61h4.5M518.6 88.61h1.5M538 88.61h1.5M571 88.61h1.5M580 88.61h1.5M600.9 88.61h1.5M609.9 88.61h4.5"/><path stroke="#360000" d="M529.1 57.69h1.5M547 57.69h1.5M590.4 57.69h1.5M520.1 59.16h1.5M562 59.16h1.5M571 59.16h1.5M578.5 60.64h1.5M588.9 60.64h1.5M530.6 62.11h1.5M539.5 62.11h1.5M548.5 62.11h1.5M556 62.11h1.5M563.5 62.11h1.5M578.5 62.11h1.5M511.1 63.58h1.5M521.6 63.58h1.5M569.5 63.58h1.5M597.9 63.58h1.5M467.7 65.05h1.5M512.6 65.05h1.5M532.1 65.05h1.5M587.4 65.05h1.5M650.3 65.05h1.5M494.6 66.53h1.5M512.6 66.53h1.5M532.1 66.53h1.5M550 66.53h1.5M606.9 66.53h1.5M623.4 66.53h1.5M464.7 68h1.5M512.6 68h3M550 68h1.5M554.5 68h1.5M605.4 68h1.5M653.3 68h1.5M512.6 69.47h3M550 69.47h1.5M554.5 69.47h1.5M565 69.47h1.5M605.4 69.47h1.5M512.6 70.94h3M554.5 70.94h1.5M565 70.94h1.5M568 70.94h1.5M585.9 70.94h1.5M605.4 70.94h1.5M463.2 72.41h1.5M512.6 72.41h3M565 72.41h1.5M568 72.41h1.5M585.9 72.41h1.5M605.4 72.41h1.5M654.8 72.41h1.5M463.2 73.89h1.5M512.6 73.89h3M565 73.89h1.5M568 73.89h1.5M585.9 73.89h1.5M605.4 73.89h1.5M654.8 73.89h1.5M512.6 75.36h3M554.5 75.36h1.5M565 75.36h1.5M568 75.36h1.5M585.9 75.36h1.5M605.4 75.36h1.5M512.6 76.83h3M550 76.83h1.5M554.5 76.83h1.5M565 76.83h1.5M605.4 76.83h1.5M464.7 78.3h1.5M512.6 78.3h3M550 78.3h1.5M554.5 78.3h1.5M605.4 78.3h1.5M653.3 78.3h1.5M494.6 79.78h1.5M512.6 79.78h1.5M532.1 79.78h1.5M550 79.78h1.5M606.9 79.78h1.5M623.4 79.78h1.5M467.7 81.25h1.5M512.6 81.25h1.5M532.1 81.25h1.5M587.4 81.25h1.5M650.3 81.25h1.5M511.1 82.72h1.5M521.6 82.72h1.5M569.5 82.72h1.5M597.9 82.72h1.5M530.6 84.19h1.5M539.5 84.19h1.5M548.5 84.19h1.5M556 84.19h1.5M563.5 84.19h1.5M578.5 84.19h1.5M578.5 85.66h1.5M588.9 85.66h1.5M520.1 87.14h1.5M562 87.14h1.5M571 87.14h1.5M529.1 88.61h1.5M547 88.61h1.5M590.4 88.61h1.5"/><path stroke="#410000" d="M578.5 57.69h1.5M529.1 59.16h1.5M539.5 59.16h1.5M547 59.16h1.5M557.5 59.16h1.5M578.5 59.16h1.5M590.4 59.16h1.5M599.4 59.16h1.5M539.5 60.64h1.5M547 60.64h1.5M571 60.64h1.5M475.2 62.11h1.5M487.2 62.11h1.5M521.6 62.11h1.5M588.9 62.11h1.5M597.9 62.11h1.5M630.8 62.11h1.5M642.8 62.11h1.5M470.7 63.58h1.5M530.6 63.58h1.5M548.5 63.58h1.5M556 63.58h1.5M563.5 63.58h1.5M647.3 63.58h1.5M493.1 65.05h1.5M548.5 65.05h1.5M569.5 65.05h1.5M577 65.05h1.5M624.9 65.05h1.5M466.2 66.53h1.5M569.5 66.53h1.5M577 66.53h1.5M587.4 66.53h1.5M651.8 66.53h1.5M523.1 68h1.5M532.1 68h1.5M541 68h1.5M577 68h1.5M587.4 68h1.5M596.4 68h1.5M496.1 69.47h1.5M523.1 69.47h1.5M532.1 69.47h1.5M541 69.47h1.5M577 69.47h1.5M596.4 69.47h1.5M621.9 69.47h1.5M523.1 70.94h1.5M541 70.94h1.5M550 70.94h1.5M577 70.94h1.5M596.4 70.94h1.5M523.1 72.41h1.5M541 72.41h1.5M550 72.41h1.5M554.5 72.41h1.5M577 72.41h1.5M596.4 72.41h1.5M523.1 73.89h1.5M541 73.89h1.5M550 73.89h1.5M554.5 73.89h1.5M577 73.89h1.5M596.4 73.89h1.5M523.1 75.36h1.5M541 75.36h1.5M550 75.36h1.5M577 75.36h1.5M596.4 75.36h1.5M496.1 76.83h1.5M523.1 76.83h1.5M532.1 76.83h1.5M541 76.83h1.5M577 76.83h1.5M596.4 76.83h1.5M621.9 76.83h1.5M523.1 78.3h1.5M532.1 78.3h1.5M541 78.3h1.5M577 78.3h1.5M587.4 78.3h1.5M596.4 78.3h1.5M466.2 79.78h1.5M569.5 79.78h1.5M577 79.78h1.5M587.4 79.78h1.5M651.8 79.78h1.5M493.1 81.25h1.5M548.5 81.25h1.5M569.5 81.25h1.5M577 81.25h1.5M624.9 81.25h1.5M470.7 82.72h1.5M530.6 82.72h1.5M548.5 82.72h1.5M556 82.72h1.5M563.5 82.72h1.5M647.3 82.72h1.5M475.2 84.19h1.5M487.2 84.19h1.5M521.6 84.19h1.5M588.9 84.19h1.5M597.9 84.19h1.5M630.8 84.19h1.5M642.8 84.19h1.5M539.5 85.66h1.5M547 85.66h1.5M571 85.66h1.5M529.1 87.14h1.5M539.5 87.14h1.5M547 87.14h1.5M557.5 87.14h1.5M578.5 87.14h1.5M590.4 87.14h1.5M599.4 87.14h1.5M578.5 88.61h1.5"/><path stroke="#4c0000" d="M520.1 57.69h1.5M527.6 57.69h1.5M539.5 57.69h1.5M545.5 57.69h1.5M572.5 57.69h1.5M591.9 57.69h1.5M599.4 57.69h1.5M545.5 59.16h1.5M521.6 60.64h1.5M529.1 60.64h1.5M577 60.64h1.5M590.4 60.64h1.5M597.9 60.64h1.5M476.7 62.11h1.5M529.1 62.11h1.5M547 62.11h1.5M571 62.11h1.5M577 62.11h1.5M641.3 62.11h1.5M541 63.58h1.5M577 63.58h1.5M588.9 63.58h1.5M523.1 65.05h1.5M530.6 65.05h1.5M541 65.05h1.5M563.5 65.05h1.5M588.9 65.05h1.5M523.1 66.53h1.5M541 66.53h1.5M548.5 66.53h1.5M596.4 66.53h1.5M548.5 68h1.5M569.5 68h1.5M569.5 69.47h1.5M587.4 69.47h1.5M532.1 70.94h1.5M587.4 70.94h1.5M532.1 72.41h1.5M587.4 72.41h1.5M532.1 73.89h1.5M587.4 73.89h1.5M532.1 75.36h1.5M587.4 75.36h1.5M569.5 76.83h1.5M587.4 76.83h1.5M548.5 78.3h1.5M569.5 78.3h1.5M523.1 79.78h1.5M541 79.78h1.5M548.5 79.78h1.5M596.4 79.78h1.5M523.1 81.25h1.5M530.6 81.25h1.5M541 81.25h1.5M563.5 81.25h1.5M588.9 81.25h1.5M541 82.72h1.5M577 82.72h1.5M588.9 82.72h1.5M476.7 84.19h1.5M529.1 84.19h1.5M547 84.19h1.5M571 84.19h1.5M577 84.19h1.5M641.3 84.19h1.5M521.6 85.66h1.5M529.1 85.66h1.5M577 85.66h1.5M590.4 85.66h1.5M597.9 85.66h1.5M545.5 87.14h1.5M520.1 88.61h1.5M527.6 88.61h1.5M539.5 88.61h1.5M545.5 88.61h1.5M572.5 88.61h1.5M591.9 88.61h1.5M599.4 88.61h1.5"/><path stroke="#560000" d="M526.1 57.69h1.5M544 57.69h1.5M577 57.69h1.5M593.4 57.69h1.5M521.6 59.16h1.5M527.6 59.16h1.5M541 59.16h1.5M572.5 59.16h1.5M577 59.16h1.5M591.9 59.16h1.5M597.9 59.16h1.5M527.6 60.64h1.5M541 60.64h1.5M545.5 60.64h1.5M478.2 62.11h1.5M485.7 62.11h1.5M541 62.11h1.5M590.4 62.11h1.5M632.3 62.11h1.5M639.8 62.11h1.5M523.1 63.58h1.5M529.1 63.58h1.5M547 63.58h1.5M571 63.58h1.5M596.4 63.58h1.5M547 65.05h1.5M556 65.05h1.5M596.4 65.05h1.5M530.6 66.53h1.5M563.5 66.53h1.5M588.9 66.53h1.5M530.6 68h1.5M464.7 69.47h1.5M548.5 69.47h1.5M653.3 69.47h1.5M496.1 70.94h1.5M548.5 70.94h1.5M569.5 70.94h1.5M621.9 70.94h1.5M548.5 72.41h1.5M569.5 72.41h1.5M548.5 73.89h1.5M569.5 73.89h1.5M496.1 75.36h1.5M548.5 75.36h1.5M569.5 75.36h1.5M621.9 75.36h1.5M464.7 76.83h1.5M548.5 76.83h1.5M653.3 76.83h1.5M530.6 78.3h1.5M530.6 79.78h1.5M563.5 79.78h1.5M588.9 79.78h1.5M547 81.25h1.5M556 81.25h1.5M596.4 81.25h1.5M523.1 82.72h1.5M529.1 82.72h1.5M547 82.72h1.5M571 82.72h1.5M596.4 82.72h1.5M478.2 84.19h1.5M485.7 84.19h1.5M541 84.19h1.5M590.4 84.19h1.5M632.3 84.19h1.5M639.8 84.19h1.5M527.6 85.66h1.5M541 85.66h1.5M545.5 85.66h1.5M521.6 87.14h1.5M527.6 87.14h1.5M541 87.14h1.5M572.5 87.14h1.5M577 87.14h1.5M591.9 87.14h1.5M597.9 87.14h1.5M526.1 88.61h1.5M544 88.61h1.5M577 88.61h1.5M593.4 88.61h1.5"/><path stroke="#610000" d="M521.6 57.69h1.5M541 57.69h3M574 57.69h3M597.9 57.69h1.5M526.1 59.16h1.5M542.5 59.16h3M574 59.16h3M593.4 59.16h1.5M523.1 60.64h1.5M542.5 60.64h3M557.5 60.64h1.5M562 60.64h1.5M572.5 60.64h1.5M575.5 60.64h1.5M591.9 60.64h1.5M479.7 62.11h6M523.1 62.11h1.5M527.6 62.11h1.5M542.5 62.11h1.5M545.5 62.11h1.5M572.5 62.11h1.5M575.5 62.11h1.5M591.9 62.11h1.5M596.4 62.11h1.5M633.8 62.11h6M472.2 63.58h1.5M490.1 63.58h1.5M542.5 63.58h1.5M545.5 63.58h1.5M575.5 63.58h1.5M590.4 63.58h1.5M627.9 63.58h1.5M645.8 63.58h1.5M469.2 65.05h1.5M529.1 65.05h1.5M542.5 65.05h1.5M571 65.05h1.5M575.5 65.05h1.5M590.4 65.05h1.5M648.8 65.05h1.5M542.5 66.53h1.5M547 66.53h1.5M556 66.53h1.5M571 66.53h1.5M575.5 66.53h1.5M542.5 68h1.5M547 68h1.5M556 68h1.5M563.5 68h1.5M575.5 68h1.5M588.9 68h1.5M530.6 69.47h1.5M542.5 69.47h1.5M575.5 69.47h1.5M588.9 69.47h1.5M524.6 70.94h1.5M530.6 70.94h1.5M542.5 70.94h1.5M575.5 70.94h1.5M594.9 70.94h1.5M496.1 72.41h1.5M524.6 72.41h1.5M530.6 72.41h1.5M542.5 72.41h1.5M575.5 72.41h1.5M594.9 72.41h1.5M621.9 72.41h1.5M496.1 73.89h1.5M524.6 73.89h1.5M530.6 73.89h1.5M542.5 73.89h1.5M575.5 73.89h1.5M594.9 73.89h1.5M621.9 73.89h1.5M524.6 75.36h1.5M530.6 75.36h1.5M542.5 75.36h1.5M575.5 75.36h1.5M594.9 75.36h1.5M530.6 76.83h1.5M542.5 76.83h1.5M575.5 76.83h1.5M588.9 76.83h1.5M542.5 78.3h1.5M547 78.3h1.5M556 78.3h1.5M563.5 78.3h1.5M575.5 78.3h1.5M588.9 78.3h1.5M542.5 79.78h1.5M547 79.78h1.5M556 79.78h1.5M571 79.78h1.5M575.5 79.78h1.5M469.2 81.25h1.5M529.1 81.25h1.5M542.5 81.25h1.5M571 81.25h1.5M575.5 81.25h1.5M590.4 81.25h1.5M648.8 81.25h1.5M472.2 82.72h1.5M490.1 82.72h1.5M542.5 82.72h1.5M545.5 82.72h1.5M575.5 82.72h1.5M590.4 82.72h1.5M627.9 82.72h1.5M645.8 82.72h1.5M479.7 84.19h6M523.1 84.19h1.5M527.6 84.19h1.5M542.5 84.19h1.5M545.5 84.19h1.5M572.5 84.19h1.5M575.5 84.19h1.5M591.9 84.19h1.5M596.4 84.19h1.5M633.8 84.19h6M523.1 85.66h1.5M542.5 85.66h3M557.5 85.66h1.5M562 85.66h1.5M572.5 85.66h1.5M575.5 85.66h1.5M591.9 85.66h1.5M526.1 87.14h1.5M542.5 87.14h3M574 87.14h3M593.4 87.14h1.5M521.6 88.61h1.5M541 88.61h3M574 88.61h3M597.9 88.61h1.5"/><path stroke="#6c0000" d="M523.1 57.69h3M559 57.69h3M594.9 57.69h3M523.1 59.16h3M594.9 59.16h3M524.6 60.64h3M574 60.64h1.5M593.4 60.64h4.5M526.1 62.11h1.5M544 62.11h1.5M574 62.11h1.5M593.4 62.11h1.5M524.6 63.58h1.5M527.6 63.58h1.5M544 63.58h1.5M572.5 63.58h3M591.9 63.58h1.5M524.6 65.05h1.5M544 65.05h3M572.5 65.05h3M594.9 65.05h1.5M524.6 66.53h1.5M529.1 66.53h1.5M545.5 66.53h1.5M574 66.53h1.5M590.4 66.53h1.5M594.9 66.53h1.5M494.6 68h1.5M524.6 68h1.5M529.1 68h1.5M571 68h1.5M574 68h1.5M594.9 68h1.5M623.4 68h1.5M524.6 69.47h1.5M547 69.47h1.5M556 69.47h1.5M563.5 69.47h1.5M571 69.47h1.5M594.9 69.47h1.5M547 70.94h1.5M556 70.94h1.5M563.5 70.94h1.5M588.9 70.94h1.5M547 72.41h1.5M563.5 72.41h1.5M588.9 72.41h1.5M547 73.89h1.5M563.5 73.89h1.5M588.9 73.89h1.5M547 75.36h1.5M556 75.36h1.5M563.5 75.36h1.5M588.9 75.36h1.5M524.6 76.83h1.5M547 76.83h1.5M556 76.83h1.5M563.5 76.83h1.5M571 76.83h1.5M594.9 76.83h1.5M494.6 78.3h1.5M524.6 78.3h1.5M529.1 78.3h1.5M571 78.3h1.5M574 78.3h1.5M594.9 78.3h1.5M623.4 78.3h1.5M524.6 79.78h1.5M529.1 79.78h1.5M545.5 79.78h1.5M574 79.78h1.5M590.4 79.78h1.5M594.9 79.78h1.5M524.6 81.25h1.5M544 81.25h3M572.5 81.25h3M594.9 81.25h1.5M524.6 82.72h1.5M527.6 82.72h1.5M544 82.72h1.5M572.5 82.72h3M591.9 82.72h1.5M526.1 84.19h1.5M544 84.19h1.5M574 84.19h1.5M593.4 84.19h1.5M524.6 85.66h3M574 85.66h1.5M593.4 85.66h4.5M523.1 87.14h3M594.9 87.14h3M523.1 88.61h3M559 88.61h3M594.9 88.61h3"/><path stroke="#770000" d="M524.6 62.11h1.5M557.5 62.11h1.5M562 62.11h1.5M594.9 62.11h1.5M526.1 63.58h1.5M593.4 63.58h3M526.1 65.05h3M591.9 65.05h3M467.7 66.53h1.5M527.6 66.53h1.5M544 66.53h1.5M572.5 66.53h1.5M591.9 66.53h1.5M650.3 66.53h1.5M466.2 68h1.5M544 68h3M572.5 68h1.5M590.4 68h1.5M651.8 68h1.5M529.1 69.47h1.5M544 69.47h3M572.5 69.47h3M590.4 69.47h1.5M464.7 70.94h1.5M529.1 70.94h1.5M544 70.94h3M571 70.94h1.5M574 70.94h1.5M590.4 70.94h1.5M653.3 70.94h1.5M544 72.41h1.5M556 72.41h1.5M571 72.41h1.5M574 72.41h1.5M544 73.89h1.5M556 73.89h1.5M571 73.89h1.5M574 73.89h1.5M464.7 75.36h1.5M529.1 75.36h1.5M544 75.36h3M571 75.36h1.5M574 75.36h1.5M590.4 75.36h1.5M653.3 75.36h1.5M529.1 76.83h1.5M544 76.83h3M572.5 76.83h3M590.4 76.83h1.5M466.2 78.3h1.5M544 78.3h3M572.5 78.3h1.5M590.4 78.3h1.5M651.8 78.3h1.5M467.7 79.78h1.5M527.6 79.78h1.5M544 79.78h1.5M572.5 79.78h1.5M591.9 79.78h1.5M650.3 79.78h1.5M526.1 81.25h3M591.9 81.25h3M526.1 82.72h1.5M593.4 82.72h3M524.6 84.19h1.5M557.5 84.19h1.5M562 84.19h1.5M594.9 84.19h1.5"/><path stroke="#820000" d="M473.7 63.58h1.5M488.7 63.58h1.4M557.5 63.58h1.5M562 63.58h1.5M629.4 63.58h1.4M644.3 63.58h1.5M491.6 65.05h1.5M626.4 65.05h1.5M526.1 66.53h1.5M593.4 66.53h1.5M526.1 68h3M591.9 68h3M526.1 69.47h3M591.9 69.47h3M526.1 70.94h1.5M572.5 70.94h1.5M593.4 70.94h1.5M464.7 72.41h1.5M526.1 72.41h1.5M529.1 72.41h1.5M545.5 72.41h1.5M572.5 72.41h1.5M590.4 72.41h1.5M593.4 72.41h1.5M653.3 72.41h1.5M464.7 73.89h1.5M526.1 73.89h1.5M529.1 73.89h1.5M545.5 73.89h1.5M572.5 73.89h1.5M590.4 73.89h1.5M593.4 73.89h1.5M653.3 73.89h1.5M526.1 75.36h1.5M572.5 75.36h1.5M593.4 75.36h1.5M526.1 76.83h3M591.9 76.83h3M526.1 78.3h3M591.9 78.3h3M526.1 79.78h1.5M593.4 79.78h1.5M491.6 81.25h1.5M626.4 81.25h1.5M473.7 82.72h1.5M488.7 82.72h1.4M557.5 82.72h1.5M562 82.72h1.5M629.4 82.72h1.4M644.3 82.72h1.5"/><path stroke="#8c0000" d="M470.7 65.05h1.5M557.5 65.05h1.5M562 65.05h1.5M647.3 65.05h1.5M493.1 66.53h1.5M624.9 66.53h1.5M527.6 70.94h1.5M591.9 70.94h1.5M527.6 72.41h1.5M591.9 72.41h1.5M527.6 73.89h1.5M591.9 73.89h1.5M527.6 75.36h1.5M591.9 75.36h1.5M493.1 79.78h1.5M624.9 79.78h1.5M470.7 81.25h1.5M557.5 81.25h1.5M562 81.25h1.5M647.3 81.25h1.5"/><path stroke="#970000" d="M475.2 63.58h1.5M487.2 63.58h1.5M630.8 63.58h1.5M642.8 63.58h1.5M557.5 66.53h1.5M562 66.53h1.5M494.6 69.47h1.5M623.4 69.47h1.5M494.6 76.83h1.5M623.4 76.83h1.5M557.5 79.78h1.5M562 79.78h1.5M475.2 82.72h1.5M487.2 82.72h1.5M630.8 82.72h1.5M642.8 82.72h1.5"/><path stroke="#a20000" d="M559 59.16h3M476.7 63.58h1.5M641.3 63.58h1.5M557.5 68h1.5M562 68h1.5M466.2 69.47h1.5M651.8 69.47h1.5M466.2 76.83h1.5M651.8 76.83h1.5M557.5 78.3h1.5M562 78.3h1.5M476.7 82.72h1.5M641.3 82.72h1.5M559 87.14h3"/><path stroke="#ad0000" d="M559 60.64h3M560.5 62.11h1.5M478.2 63.58h1.5M485.7 63.58h1.5M632.3 63.58h1.5M639.8 63.58h1.5M490.1 65.05h1.5M627.9 65.05h1.5M469.2 66.53h1.5M648.8 66.53h1.5M557.5 69.47h1.5M562 69.47h1.5M557.5 70.94h1.5M562 70.94h1.5M557.5 72.41h1.5M562 72.41h1.5M557.5 73.89h1.5M562 73.89h1.5M557.5 75.36h1.5M562 75.36h1.5M557.5 76.83h1.5M562 76.83h1.5M469.2 79.78h1.5M648.8 79.78h1.5M490.1 81.25h1.5M627.9 81.25h1.5M478.2 82.72h1.5M485.7 82.72h1.5M632.3 82.72h1.5M639.8 82.72h1.5M560.5 84.19h1.5M559 85.66h3"/><path stroke="#b70000" d="M559 62.11h1.5M479.7 63.58h6M559 63.58h3M633.8 63.58h6M472.2 65.05h1.5M645.8 65.05h1.5M467.7 68h1.5M650.3 68h1.5M466.2 70.94h1.5M494.6 70.94h1.5M623.4 70.94h1.5M651.8 70.94h1.5M466.2 75.36h1.5M494.6 75.36h1.5M623.4 75.36h1.5M651.8 75.36h1.5M467.7 78.3h1.5M650.3 78.3h1.5M472.2 81.25h1.5M645.8 81.25h1.5M479.7 82.72h6M559 82.72h3M633.8 82.72h6M559 84.19h1.5"/><path stroke="#c20000" d="M559 65.05h3M560.5 66.53h1.5M493.1 68h1.5M624.9 68h1.5M494.6 72.41h1.5M623.4 72.41h1.5M494.6 73.89h1.5M623.4 73.89h1.5M493.1 78.3h1.5M624.9 78.3h1.5M560.5 79.78h1.5M559 81.25h3"/><path stroke="#cd0000" d="M473.7 65.05h1.5M644.3 65.05h1.5M491.6 66.53h1.5M559 66.53h1.5M626.4 66.53h1.5M559 68h3M466.2 72.41h1.5M651.8 72.41h1.5M466.2 73.89h1.5M651.8 73.89h1.5M559 78.3h3M491.6 79.78h1.5M559 79.78h1.5M626.4 79.78h1.5M473.7 81.25h1.5M644.3 81.25h1.5"/><path stroke="#d80000" d="M488.7 65.05h1.4M629.4 65.05h1.4M470.7 66.53h1.5M647.3 66.53h1.5M559 69.47h3M559 70.94h3M559 72.41h3M559 73.89h3M559 75.36h3M559 76.83h3M470.7 79.78h1.5M647.3 79.78h1.5M488.7 81.25h1.4M629.4 81.25h1.4"/><path stroke="#e30000" d="M475.2 65.05h1.5M642.8 65.05h1.5M467.7 69.47h1.5M650.3 69.47h1.5M467.7 76.83h1.5M650.3 76.83h1.5M475.2 81.25h1.5M642.8 81.25h1.5"/><path stroke="#ed0000" d="M476.7 65.05h1.5M487.2 65.05h1.5M630.8 65.05h1.5M641.3 65.05h1.5M469.2 68h1.5M648.8 68h1.5M493.1 69.47h1.5M624.9 69.47h1.5M493.1 76.83h1.5M624.9 76.83h1.5M469.2 78.3h1.5M648.8 78.3h1.5M476.7 81.25h1.5M487.2 81.25h1.5M630.8 81.25h1.5M641.3 81.25h1.5"/><path stroke="#f80000" d="M485.7 65.05h1.5M632.3 65.05h1.5M472.2 66.53h1.5M490.1 66.53h1.5M627.9 66.53h1.5M645.8 66.53h1.5M467.7 70.94h1.5M650.3 70.94h1.5M467.7 75.36h1.5M650.3 75.36h1.5M472.2 79.78h1.5M490.1 79.78h1.5M627.9 79.78h1.5M645.8 79.78h1.5M485.7 81.25h1.5M632.3 81.25h1.5"/><path stroke="#ff0400" d="M478.2 65.05h3M484.2 65.05h1.5M633.8 65.05h1.5M638.3 65.05h3M491.6 68h1.5M626.4 68h1.5M493.1 70.94h1.5M624.9 70.94h1.5M467.7 72.41h1.5M650.3 72.41h1.5M467.7 73.89h1.5M650.3 73.89h1.5M493.1 75.36h1.5M624.9 75.36h1.5M491.6 78.3h1.5M626.4 78.3h1.5M478.2 81.25h3M484.2 81.25h1.5M633.8 81.25h1.5M638.3 81.25h3"/><path stroke="#ff0f00" d="M481.2 65.05h3M635.3 65.05h3M473.7 66.53h1.5M644.3 66.53h1.5M470.7 68h1.5M647.3 68h1.5M469.2 69.47h1.5M648.8 69.47h1.5M493.1 72.41h1.5M624.9 72.41h1.5M493.1 73.89h1.5M624.9 73.89h1.5M469.2 76.83h1.5M648.8 76.83h1.5M470.7 78.3h1.5M647.3 78.3h1.5M473.7 79.78h1.5M644.3 79.78h1.5M481.2 81.25h3M635.3 81.25h3"/><path stroke="#ff1a00" d="M488.7 66.53h1.4M629.4 66.53h1.4M488.7 79.78h1.4M629.4 79.78h1.4"/><path stroke="#ff2400" d="M490.1 68h1.5M627.9 68h1.5M491.6 69.47h1.5M626.4 69.47h1.5M469.2 70.94h1.5M648.8 70.94h1.5M469.2 72.41h1.5M648.8 72.41h1.5M469.2 73.89h1.5M648.8 73.89h1.5M469.2 75.36h1.5M648.8 75.36h1.5M491.6 76.83h1.5M626.4 76.83h1.5M490.1 78.3h1.5M627.9 78.3h1.5"/><path stroke="#ff2f00" d="M475.2 66.53h1.5M487.2 66.53h1.5M630.8 66.53h1.5M642.8 66.53h1.5M472.2 68h1.5M645.8 68h1.5M470.7 69.47h1.5M647.3 69.47h1.5M491.6 70.94h1.5M626.4 70.94h1.5M491.6 75.36h1.5M626.4 75.36h1.5M470.7 76.83h1.5M647.3 76.83h1.5M472.2 78.3h1.5M645.8 78.3h1.5M475.2 79.78h1.5M487.2 79.78h1.5M630.8 79.78h1.5M642.8 79.78h1.5"/><path stroke="#ff3a00" d="M476.7 66.53h1.5M641.3 66.53h1.5M476.7 79.78h1.5M641.3 79.78h1.5"/><path stroke="#ff4500" d="M470.7 70.94h1.5M647.3 70.94h1.5M491.6 72.41h1.5M626.4 72.41h1.5M491.6 73.89h1.5M626.4 73.89h1.5M470.7 75.36h1.5M647.3 75.36h1.5"/><path stroke="#ff5000" d="M478.2 66.53h1.5M485.7 66.53h1.5M632.3 66.53h1.5M639.8 66.53h1.5M473.7 68h1.5M488.7 68h1.4M629.4 68h1.4M644.3 68h1.5M472.2 69.47h1.5M490.1 69.47h1.5M627.9 69.47h1.5M645.8 69.47h1.5M470.7 72.41h1.5M647.3 72.41h1.5M470.7 73.89h1.5M647.3 73.89h1.5M472.2 76.83h1.5M490.1 76.83h1.5M627.9 76.83h1.5M645.8 76.83h1.5M473.7 78.3h1.5M488.7 78.3h1.4M629.4 78.3h1.4M644.3 78.3h1.5M478.2 79.78h1.5M485.7 79.78h1.5M632.3 79.78h1.5M639.8 79.78h1.5"/><path stroke="#ff6500" d="M479.7 66.53h1.5M484.2 66.53h1.5M633.8 66.53h1.5M638.3 66.53h1.5M490.1 70.94h1.5M627.9 70.94h1.5M490.1 75.36h1.5M627.9 75.36h1.5M479.7 79.78h1.5M484.2 79.78h1.5M633.8 79.78h1.5M638.3 79.78h1.5"/><path stroke="#ff7000" d="M481.2 66.53h3M635.3 66.53h3M475.2 68h1.5M642.8 68h1.5M472.2 70.94h1.5M645.8 70.94h1.5M472.2 75.36h1.5M645.8 75.36h1.5M475.2 78.3h1.5M642.8 78.3h1.5M481.2 79.78h3M635.3 79.78h3"/><path stroke="#ff7b00" d="M487.2 68h1.5M630.8 68h1.5M473.7 69.47h1.5M644.3 69.47h1.5M472.2 72.41h1.5M490.1 72.41h1.5M627.9 72.41h1.5M645.8 72.41h1.5M472.2 73.89h1.5M490.1 73.89h1.5M627.9 73.89h1.5M645.8 73.89h1.5M473.7 76.83h1.5M644.3 76.83h1.5M487.2 78.3h1.5M630.8 78.3h1.5"/><path stroke="#ff8600" d="M488.7 69.47h1.4M629.4 69.47h1.4M488.7 76.83h1.4M629.4 76.83h1.4"/><path stroke="#ff9000" d="M476.7 68h1.5M641.3 68h1.5M476.7 78.3h1.5M641.3 78.3h1.5"/><path stroke="#ffb100" d="M473.7 70.94h1.5M644.3 70.94h1.5M473.7 75.36h1.5M644.3 75.36h1.5"/><path stroke="#ffbc00" d="M485.7 68h1.5M632.3 68h1.5M475.2 69.47h1.5M642.8 69.47h1.5M488.7 70.94h1.4M629.4 70.94h1.4M488.7 75.36h1.4M629.4 75.36h1.4M475.2 76.83h1.5M642.8 76.83h1.5M485.7 78.3h1.5M632.3 78.3h1.5"/><path stroke="#ffc600" d="M478.2 68h1.5M639.8 68h1.5M478.2 78.3h1.5M639.8 78.3h1.5"/><path stroke="#ffd100" d="M473.7 72.41h1.5M644.3 72.41h1.5M473.7 73.89h1.5M644.3 73.89h1.5"/><path stroke="#ffdc00" d="M487.2 69.47h1.5M630.8 69.47h1.5M487.2 76.83h1.5M630.8 76.83h1.5"/><path stroke="#ffe700" d="M479.7 68h1.5M484.2 68h1.5M633.8 68h1.5M638.3 68h1.5M488.7 72.41h1.4M629.4 72.41h1.4M488.7 73.89h1.4M629.4 73.89h1.4M479.7 78.3h1.5M484.2 78.3h1.5M633.8 78.3h1.5M638.3 78.3h1.5"/><path stroke="#fff200" d="M481.2 68h1.5M636.8 68h1.5M481.2 78.3h1.5M636.8 78.3h1.5"/><path stroke="#fffc00" d="M482.7 68h1.5M635.3 68h1.5M476.7 69.47h1.5M641.3 69.47h1.5M475.2 70.94h1.5M642.8 70.94h1.5M475.2 75.36h1.5M642.8 75.36h1.5M476.7 76.83h1.5M641.3 76.83h1.5M482.7 78.3h1.5M635.3 78.3h1.5"/><path stroke="#ffff2d" d="M485.7 69.47h1.5M632.3 69.47h1.5M487.2 70.94h1.5M630.8 70.94h1.5M475.2 72.41h1.5M642.8 72.41h1.5M475.2 73.89h1.5M642.8 73.89h1.5M487.2 75.36h1.5M630.8 75.36h1.5M485.7 76.83h1.5M632.3 76.83h1.5"/><path stroke="#ffff3d" d="M478.2 69.47h1.5M639.8 69.47h1.5M478.2 76.83h1.5M639.8 76.83h1.5"/><path stroke="#ffff4d" d="M476.7 70.94h1.5M641.3 70.94h1.5M487.2 72.41h1.5M630.8 72.41h1.5M487.2 73.89h1.5M630.8 73.89h1.5M476.7 75.36h1.5M641.3 75.36h1.5"/><path stroke="#ffff5d" d="M479.7 69.47h1.5M484.2 69.47h1.5M633.8 69.47h1.5M638.3 69.47h1.5M479.7 76.83h1.5M484.2 76.83h1.5M633.8 76.83h1.5M638.3 76.83h1.5"/><path stroke="#ffff6d" d="M481.2 69.47h3M635.3 69.47h3M476.7 72.41h1.5M641.3 72.41h1.5M476.7 73.89h1.5M641.3 73.89h1.5M481.2 76.83h3M635.3 76.83h3"/><path stroke="#ffff7d" d="M478.2 70.94h1.5M485.7 70.94h1.5M632.3 70.94h1.5M639.8 70.94h1.5M478.2 75.36h1.5M485.7 75.36h1.5M632.3 75.36h1.5M639.8 75.36h1.5"/><path stroke="#ffff8e" d="M485.7 72.41h1.5M632.3 72.41h1.5M485.7 73.89h1.5M632.3 73.89h1.5"/><path stroke="#ffff9e" d="M479.7 70.94h1.5M484.2 70.94h1.5M633.8 70.94h1.5M638.3 70.94h1.5M478.2 72.41h1.5M639.8 72.41h1.5M478.2 73.89h1.5M639.8 73.89h1.5M479.7 75.36h1.5M484.2 75.36h1.5M633.8 75.36h1.5M638.3 75.36h1.5"/><path stroke="#ffffae" d="M481.2 70.94h1.5M636.8 70.94h1.5M481.2 75.36h1.5M636.8 75.36h1.5"/><path stroke="#ffffbe" d="M482.7 70.94h1.5M635.3 70.94h1.5M482.7 75.36h1.5M635.3 75.36h1.5"/><path stroke="#ffffce" d="M479.7 72.41h1.5M484.2 72.41h1.5M633.8 72.41h1.5M638.3 72.41h1.5M479.7 73.89h1.5M484.2 73.89h1.5M633.8 73.89h1.5M638.3 73.89h1.5"/><path stroke="#ffffef" d="M481.2 72.41h3M635.3 72.41h3M481.2 73.89h3M635.3 73.89h3"/></g></g></g><text x="462.30" y="64.18" font-size="8" text-anchor="end" fill="#262626">5</text><text x="462.30" y="76.48" font-size="8" text-anchor="end" fill="#262626">0</text><text x="462.30" y="88.88" font-size="8" text-anchor="end" fill="#262626">-5</text><text x="466.00" y="97.80" font-size="7.5" text-anchor="middle" fill="#262626">-39</text><text x="513.00" y="97.80" font-size="7.5" text-anchor="middle" fill="#262626">-20</text><text x="558.00" y="97.80" font-size="7.5" text-anchor="middle" fill="#262626">0</text><text x="605.00" y="97.80" font-size="7.5" text-anchor="middle" fill="#262626">20</text><text x="652.00" y="97.80" font-size="7.5" text-anchor="middle" fill="#262626">39</text><text x="560.00" y="109.80" font-size="8.1" text-anchor="middle" fill="#262626">x (mm)</text><text x="454.50" y="73.20" font-size="9.3" text-anchor="middle" fill="#262626" transform="rotate(-90 454.50 73.20)">y (mm)</text><defs><linearGradient id="cb60" x1="0" y1="1" x2="0" y2="0"><stop offset="0" stop-color="#000"/><stop offset="0.375" stop-color="#f00"/><stop offset="0.75" stop-color="#ff0"/><stop offset="1" stop-color="#fff"/></linearGradient></defs><rect x="657.50" y="48.50" width="6.60" height="46.30" fill="url(#cb60)" stroke="#a0a0a0" stroke-width="0.5"/><text x="666.00" y="50.55" font-size="5.7" text-anchor="start" fill="#262626">1</text><text x="666.00" y="59.81" font-size="5.7" text-anchor="start" fill="#262626">0.8</text><text x="666.00" y="69.07" font-size="5.7" text-anchor="start" fill="#262626">0.6</text><text x="666.00" y="78.33" font-size="5.7" text-anchor="start" fill="#262626">0.4</text><text x="666.00" y="87.59" font-size="5.7" text-anchor="start" fill="#262626">0.2</text><text x="666.00" y="96.85" font-size="5.7" text-anchor="start" fill="#262626">0</text><text x="682.00" y="79.00" font-size="6.9" text-anchor="middle" fill="#262626" transform="rotate(-90 682.00 79.00)">Normalized pressure</text><text x="7.30" y="156.70" font-size="14" text-anchor="start" fill="#000">(d)</text><text x="236.80" y="156.70" font-size="14" text-anchor="start" fill="#000">(e)</text><text x="465.70" y="156.70" font-size="14" text-anchor="start" fill="#000">(f)</text><text x="113.30" y="185.50" font-size="9.7" font-weight="bold" text-anchor="middle" fill="#000">Experimental pressure map</text><defs><clipPath id="hc73"><rect x="49.20" y="190.60" width="110.60" height="74.40"/></clipPath><filter id="hf73" x="-5%" y="-10%" width="110%" height="120%"><feGaussianBlur stdDeviation="0.9"/></filter></defs><g clip-path="url(#hc73)"><g filter="url(#hf73)"><g fill="none" stroke-width="2.460" shape-rendering="crispEdges"><rect x="44.39" y="185.79" width="120.22" height="84.02" fill="#000" stroke="none"/><path stroke="#0b0000" d="M85.3 187h4.8M118.9 187h4.8M75.6 189.4h4.9M85.3 189.4h2.4M121.3 189.4h2.4M128.5 189.4h4.9M75.6 191.8h7.3M85.3 191.8h4.8M118.9 191.8h4.8M126.1 191.8h7.3M66 194.2h9.6M82.9 194.2h7.2M118.9 194.2h7.2M133.4 194.2h7.2M61.2 196.6h4.8M87.7 196.6h4.8M116.5 196.6h2.4M140.6 196.6h4.8M56.4 199h4.8M92.5 199h2.4M145.4 199h4.8M54 201.4h2.4M94.9 201.4h16.8M150.2 201.4h2.4M51.6 203.8h2.4M97.3 203.8h12M152.6 203.8h2.4M49.2 206.2h2.4M99.7 206.2h7.2M155 206.2h2.4M49.2 208.6h2.4M46.8 211h2.4M157.4 211h2.4M46.8 213.4h2.4M159.8 213.4h2.4M44.4 215.8h2.4M159.8 215.8h2.4M44.4 218.2h2.4M159.8 218.2h2.4M44.4 220.6h2.4M162.2 223h2.4M162.2 225.4h2.4M162.2 227.8h2.4M162.2 230.2h2.4M162.2 232.6h2.4M44.4 235h2.4M44.4 237.4h2.4M159.8 237.4h2.4M44.4 239.8h2.4M159.8 239.8h2.4M46.8 242.2h2.4M159.8 242.2h2.4M46.8 244.6h2.4M157.4 244.6h2.4M49.2 247h2.4M49.2 249.4h2.4M99.7 249.4h7.2M155 249.4h2.4M51.6 251.8h2.4M97.3 251.8h4.8M106.9 251.8h2.4M152.6 251.8h2.4M54 254.2h2.4M94.9 254.2h4.8M109.3 254.2h2.4M150.2 254.2h2.4M56.4 256.6h4.8M92.5 256.6h2.4M111.7 256.6h2.4M145.4 256.6h4.8M61.2 259h4.8M87.7 259h4.8M114.1 259h4.8M140.6 259h4.8M66 261.4h9.6M82.9 261.4h4.8M121.3 261.4h4.8M133.4 261.4h7.2M75.6 263.8h7.3M126.1 263.8h7.3M75.6 266.2h4.9M128.5 266.2h4.9"/><path stroke="#160000" d="M90.1 187h2.4M116.5 187h2.4M87.7 189.4h2.4M118.9 189.4h2.4M90.1 191.8h2.4M116.5 191.8h2.4M75.6 194.2h7.3M90.1 194.2h2.4M116.5 194.2h2.4M126.1 194.2h7.3M66 196.6h2.4M85.3 196.6h2.4M92.5 196.6h2.4M114.1 196.6h2.4M118.9 196.6h4.8M138.2 196.6h2.4M61.2 199h2.4M90.1 199h2.4M94.9 199h7.2M106.9 199h9.6M56.4 201.4h2.4M111.7 201.4h2.4M147.8 201.4h2.4M54 203.8h2.4M150.2 203.8h2.4M51.6 206.2h2.4M106.9 206.2h2.4M152.6 206.2h2.4M102.1 208.6h2.4M155 208.6h2.4M49.2 211h2.4M157.4 213.4h2.4M46.8 215.8h2.4M159.8 220.6h2.4M44.4 223h2.4M159.8 223h2.4M44.4 225.4h2.4M159.8 225.4h2.4M44.4 227.8h2.4M44.4 230.2h2.4M159.8 230.2h2.4M44.4 232.6h2.4M159.8 232.6h2.4M159.8 235h2.4M46.8 239.8h2.4M157.4 242.2h2.4M49.2 244.6h2.4M102.1 247h2.4M155 247h2.4M51.6 249.4h2.4M106.9 249.4h2.4M152.6 249.4h2.4M54 251.8h2.4M150.2 251.8h2.4M56.4 254.2h2.4M111.7 254.2h2.4M147.8 254.2h2.4M61.2 256.6h2.4M90.1 256.6h2.4M114.1 256.6h2.4M66 259h2.4M85.3 259h2.4M118.9 259h4.8M138.2 259h2.4M75.6 261.4h7.3M126.1 261.4h7.3"/><path stroke="#200000" d="M90.1 189.4h2.4M116.5 189.4h2.4M92.5 191.8h2.4M114.1 191.8h2.4M92.5 194.2h2.4M114.1 194.2h2.4M68.4 196.6h4.8M80.5 196.6h4.8M94.9 196.6h4.8M109.3 196.6h4.8M123.7 196.6h2.4M133.4 196.6h4.8M87.7 199h2.4M102.1 199h4.8M116.5 199h2.4M143 199h2.4M58.8 201.4h2.4M92.5 201.4h2.4M94.9 203.8h2.4M109.3 203.8h2.4M97.3 206.2h2.4M51.6 208.6h2.4M99.7 208.6h2.4M104.5 208.6h2.4M155 211h2.4M157.4 215.8h2.4M46.8 218.2h2.4M159.8 227.8h2.4M46.8 237.4h2.4M157.4 239.8h2.4M155 244.6h2.4M51.6 247h2.4M99.7 247h2.4M104.5 247h2.4M97.3 249.4h2.4M94.9 251.8h2.4M109.3 251.8h2.4M58.8 254.2h2.4M92.5 254.2h2.4M87.7 256.6h2.4M116.5 256.6h2.4M143 256.6h2.4M68.4 259h4.8M80.5 259h4.8M123.7 259h2.4M133.4 259h4.8"/><path stroke="#2b0000" d="M92.5 187h2.4M114.1 187h2.4M92.5 189.4h2.4M114.1 189.4h2.4M94.9 194.2h2.4M111.7 194.2h2.4M73.2 196.6h7.3M99.7 196.6h9.6M126.1 196.6h7.3M63.6 199h2.4M118.9 199h2.4M140.6 199h2.4M114.1 201.4h2.4M145.4 201.4h2.4M56.4 203.8h2.4M147.8 203.8h2.4M54 206.2h2.4M150.2 206.2h2.4M152.6 208.6h2.4M49.2 213.4h2.4M157.4 218.2h2.4M46.8 220.6h2.4M46.8 235h2.4M157.4 237.4h2.4M49.2 242.2h2.4M152.6 247h2.4M54 249.4h2.4M150.2 249.4h2.4M56.4 251.8h2.4M147.8 251.8h2.4M114.1 254.2h2.4M145.4 254.2h2.4M63.6 256.6h2.4M118.9 256.6h2.4M140.6 256.6h2.4M73.2 259h7.3M126.1 259h7.3"/><path stroke="#360000" d="M94.9 187h2.4M111.7 187h2.4M94.9 189.4h2.4M111.7 189.4h2.4M94.9 191.8h2.4M111.7 191.8h2.4M97.3 194.2h2.4M109.3 194.2h2.4M66 199h2.4M85.3 199h2.4M138.2 199h2.4M61.2 201.4h2.4M90.1 201.4h2.4M111.7 203.8h2.4M109.3 206.2h2.4M106.9 208.6h2.4M51.6 211h2.4M102.1 211h2.4M155 213.4h2.4M157.4 220.6h2.4M46.8 223h2.4M46.8 225.4h2.4M46.8 227.8h2.4M46.8 230.2h2.4M46.8 232.6h2.4M157.4 235h2.4M155 242.2h2.4M51.6 244.6h2.4M102.1 244.6h2.4M106.9 247h2.4M109.3 249.4h2.4M111.7 251.8h2.4M61.2 254.2h2.4M90.1 254.2h2.4M66 256.6h2.4M85.3 256.6h2.4M138.2 256.6h2.4"/><path stroke="#410000" d="M97.3 187h2.4M109.3 187h2.4M97.3 191.8h2.4M109.3 191.8h2.4M99.7 194.2h9.6M68.4 199h2.4M82.9 199h2.4M121.3 199h2.4M116.5 201.4h2.4M143 201.4h2.4M58.8 203.8h2.4M92.5 203.8h2.4M94.9 206.2h2.4M54 208.6h2.4M97.3 208.6h2.4M104.5 211h2.4M152.6 211h2.4M49.2 215.8h2.4M155 215.8h2.4M157.4 223h2.4M157.4 225.4h2.4M157.4 227.8h2.4M157.4 230.2h2.4M157.4 232.6h2.4M49.2 239.8h2.4M155 239.8h2.4M104.5 244.6h2.4M152.6 244.6h2.4M54 247h2.4M97.3 247h2.4M94.9 249.4h2.4M58.8 251.8h2.4M92.5 251.8h2.4M116.5 254.2h2.4M143 254.2h2.4M68.4 256.6h2.4M82.9 256.6h2.4M121.3 256.6h2.4"/><path stroke="#4c0000" d="M97.3 189.4h2.4M109.3 189.4h2.4M99.7 191.8h2.4M106.9 191.8h2.4M70.8 199h2.4M80.5 199h2.4M123.7 199h2.4M133.4 199h4.8M63.6 201.4h2.4M87.7 201.4h2.4M145.4 203.8h2.4M56.4 206.2h2.4M150.2 208.6h2.4M99.7 211h2.4M49.2 218.2h2.4M49.2 237.4h2.4M99.7 244.6h2.4M150.2 247h2.4M56.4 249.4h2.4M145.4 251.8h2.4M63.6 254.2h2.4M87.7 254.2h2.4M70.8 256.6h2.4M80.5 256.6h2.4M123.7 256.6h2.4M133.4 256.6h4.8"/><path stroke="#560000" d="M99.7 187h9.6M99.7 189.4h2.4M106.9 189.4h2.4M102.1 191.8h4.8M73.2 199h7.3M126.1 199h7.3M118.9 201.4h2.4M140.6 201.4h2.4M90.1 203.8h2.4M114.1 203.8h2.4M111.7 206.2h2.4M147.8 206.2h2.4M109.3 208.6h2.4M106.9 211h2.4M51.6 213.4h2.4M155 218.2h2.4M155 237.4h2.4M51.6 242.2h2.4M106.9 244.6h2.4M109.3 247h2.4M111.7 249.4h2.4M147.8 249.4h2.4M90.1 251.8h2.4M114.1 251.8h2.4M118.9 254.2h2.4M140.6 254.2h2.4M73.2 256.6h7.3M126.1 256.6h7.3"/><path stroke="#610000" d="M102.1 189.4h4.8M85.3 201.4h2.4M61.2 203.8h2.4M92.5 206.2h2.4M94.9 208.6h2.4M97.3 211h2.4M152.6 213.4h2.4M49.2 220.6h2.4M49.2 235h2.4M152.6 242.2h2.4M97.3 244.6h2.4M94.9 247h2.4M92.5 249.4h2.4M61.2 251.8h2.4M85.3 254.2h2.4"/><path stroke="#6c0000" d="M66 201.4h2.4M138.2 201.4h2.4M143 203.8h2.4M54 211h2.4M102.1 213.4h4.8M155 220.6h2.4M49.2 223h2.4M49.2 232.6h2.4M155 235h2.4M102.1 242.2h4.8M54 244.6h2.4M143 251.8h2.4M66 254.2h2.4M138.2 254.2h2.4"/><path stroke="#770000" d="M82.9 201.4h2.4M121.3 201.4h2.4M116.5 203.8h2.4M58.8 206.2h2.4M56.4 208.6h2.4M150.2 211h2.4M99.7 213.4h2.4M51.6 215.8h2.4M49.2 225.4h2.4M49.2 227.8h2.4M49.2 230.2h2.4M51.6 239.8h2.4M99.7 242.2h2.4M150.2 244.6h2.4M56.4 247h2.4M58.8 249.4h2.4M116.5 251.8h2.4M82.9 254.2h2.4M121.3 254.2h2.4"/><path stroke="#820000" d="M68.4 201.4h2.4M123.7 201.4h2.4M135.8 201.4h2.4M87.7 203.8h2.4M145.4 206.2h2.4M147.8 208.6h2.4M109.3 211h2.4M106.9 213.4h2.4M152.6 215.8h2.4M155 223h2.4M155 225.4h2.4M155 230.2h2.4M155 232.6h2.4M152.6 239.8h2.4M106.9 242.2h2.4M109.3 244.6h2.4M147.8 247h2.4M145.4 249.4h2.4M87.7 251.8h2.4M68.4 254.2h2.4M123.7 254.2h2.4M135.8 254.2h2.4"/><path stroke="#8c0000" d="M70.8 201.4h2.4M80.5 201.4h2.4M133.4 201.4h2.4M63.6 203.8h2.4M140.6 203.8h2.4M114.1 206.2h2.4M111.7 208.6h2.4M54 213.4h2.4M51.6 218.2h2.4M155 227.8h2.4M51.6 237.4h2.4M54 242.2h2.4M111.7 247h2.4M114.1 249.4h2.4M63.6 251.8h2.4M140.6 251.8h2.4M70.8 254.2h2.4M80.5 254.2h2.4M133.4 254.2h2.4"/><path stroke="#970000" d="M73.2 201.4h7.3M126.1 201.4h7.3M118.9 203.8h2.4M90.1 206.2h2.4M92.5 208.6h2.4M94.9 211h2.4M97.3 213.4h2.4M97.3 242.2h2.4M94.9 244.6h2.4M92.5 247h2.4M90.1 249.4h2.4M118.9 251.8h2.4M73.2 254.2h7.3M126.1 254.2h7.3"/><path stroke="#a20000" d="M85.3 203.8h2.4M61.2 206.2h2.4M56.4 211h2.4M150.2 213.4h2.4M102.1 215.8h4.8M152.6 218.2h2.4M51.6 220.6h2.4M51.6 235h2.4M152.6 237.4h2.4M102.1 239.8h4.8M150.2 242.2h2.4M56.4 244.6h2.4M61.2 249.4h2.4M85.3 251.8h2.4"/><path stroke="#ad0000" d="M66 203.8h2.4M138.2 203.8h2.4M143 206.2h2.4M58.8 208.6h2.4M147.8 211h2.4M99.7 215.8h2.4M99.7 239.8h2.4M147.8 244.6h2.4M58.8 247h2.4M143 249.4h2.4M66 251.8h2.4M138.2 251.8h2.4"/><path stroke="#b70000" d="M82.9 203.8h2.4M121.3 203.8h2.4M87.7 206.2h2.4M116.5 206.2h2.4M145.4 208.6h2.4M109.3 213.4h2.4M54 215.8h2.4M106.9 215.8h2.4M152.6 220.6h2.4M51.6 223h2.4M51.6 232.6h2.4M152.6 235h2.4M54 239.8h2.4M106.9 239.8h2.4M109.3 242.2h2.4M145.4 247h2.4M87.7 249.4h2.4M116.5 249.4h2.4M82.9 251.8h2.4M121.3 251.8h2.4"/><path stroke="#c20000" d="M68.4 203.8h2.4M135.8 203.8h2.4M114.1 208.6h2.4M111.7 211h2.4M94.9 213.4h2.4M97.3 215.8h2.4M150.2 215.8h2.4M152.6 223h2.4M51.6 225.4h2.4M51.6 227.8h2.4M51.6 230.2h2.4M152.6 232.6h2.4M97.3 239.8h2.4M150.2 239.8h2.4M94.9 242.2h2.4M111.7 244.6h2.4M114.1 247h2.4M68.4 251.8h2.4M135.8 251.8h2.4"/><path stroke="#cd0000" d="M80.5 203.8h2.4M123.7 203.8h2.4M63.6 206.2h2.4M140.6 206.2h2.4M90.1 208.6h2.4M92.5 211h2.4M56.4 213.4h2.4M152.6 225.4h2.4M152.6 230.2h2.4M56.4 242.2h2.4M92.5 244.6h2.4M90.1 247h2.4M63.6 249.4h2.4M140.6 249.4h2.4M80.5 251.8h2.4M123.7 251.8h2.4"/><path stroke="#d80000" d="M70.8 203.8h2.4M78.1 203.8h2.4M126.1 203.8h2.4M133.4 203.8h2.4M118.9 206.2h2.4M61.2 208.6h2.4M58.8 211h2.4M147.8 213.4h2.4M54 218.2h2.4M102.1 218.2h4.8M152.6 227.8h2.4M54 237.4h2.4M102.1 237.4h4.8M147.8 242.2h2.4M58.8 244.6h2.4M61.2 247h2.4M118.9 249.4h2.4M70.8 251.8h2.4M78.1 251.8h2.4M126.1 251.8h2.4M133.4 251.8h2.4"/><path stroke="#e30000" d="M73.2 203.8h4.9M128.5 203.8h4.9M66 206.2h2.4M85.3 206.2h2.4M143 208.6h2.4M145.4 211h2.4M109.3 215.8h2.4M99.7 218.2h2.4M150.2 218.2h2.4M99.7 237.4h2.4M150.2 237.4h2.4M109.3 239.8h2.4M145.4 244.6h2.4M143 247h2.4M66 249.4h2.4M85.3 249.4h2.4M73.2 251.8h4.9M128.5 251.8h4.9"/><path stroke="#ed0000" d="M121.3 206.2h2.4M138.2 206.2h2.4M87.7 208.6h2.4M116.5 208.6h2.4M114.1 211h2.4M111.7 213.4h2.4M56.4 215.8h2.4M94.9 215.8h2.4M106.9 218.2h2.4M54 220.6h2.4M54 235h2.4M106.9 237.4h2.4M56.4 239.8h2.4M94.9 239.8h2.4M111.7 242.2h2.4M114.1 244.6h2.4M87.7 247h2.4M116.5 247h2.4M121.3 249.4h2.4M138.2 249.4h2.4"/><path stroke="#f80000" d="M68.4 206.2h2.4M82.9 206.2h2.4M135.8 206.2h2.4M63.6 208.6h2.4M90.1 211h2.4M58.8 213.4h2.4M92.5 213.4h2.4M147.8 215.8h2.4M97.3 218.2h2.4M150.2 220.6h2.4M54 223h2.4M54 225.4h2.4M54 230.2h2.4M54 232.6h2.4M150.2 235h2.4M97.3 237.4h2.4M147.8 239.8h2.4M58.8 242.2h2.4M92.5 242.2h2.4M90.1 244.6h2.4M63.6 247h2.4M68.4 249.4h2.4M82.9 249.4h2.4M135.8 249.4h2.4"/><path stroke="#ff0400" d="M70.8 206.2h2.4M80.5 206.2h2.4M123.7 206.2h2.4M133.4 206.2h2.4M118.9 208.6h2.4M140.6 208.6h2.4M61.2 211h2.4M143 211h2.4M145.4 213.4h2.4M56.4 218.2h2.4M99.7 220.6h7.2M150.2 223h2.4M150.2 225.4h2.4M54 227.8h2.4M150.2 227.8h2.4M150.2 230.2h2.4M150.2 232.6h2.4M99.7 235h7.2M56.4 237.4h2.4M145.4 242.2h2.4M61.2 244.6h2.4M143 244.6h2.4M118.9 247h2.4M140.6 247h2.4M70.8 249.4h2.4M80.5 249.4h2.4M123.7 249.4h2.4M133.4 249.4h2.4"/><path stroke="#ff0f00" d="M73.2 206.2h7.3M126.1 206.2h7.3M66 208.6h2.4M85.3 208.6h2.4M138.2 208.6h2.4M87.7 211h2.4M116.5 211h2.4M114.1 213.4h2.4M58.8 215.8h2.4M111.7 215.8h2.4M109.3 218.2h2.4M147.8 218.2h2.4M56.4 220.6h2.4M106.9 220.6h2.4M56.4 235h2.4M106.9 235h2.4M109.3 237.4h2.4M147.8 237.4h2.4M58.8 239.8h2.4M111.7 239.8h2.4M114.1 242.2h2.4M87.7 244.6h2.4M116.5 244.6h2.4M66 247h2.4M85.3 247h2.4M138.2 247h2.4M73.2 249.4h7.3M126.1 249.4h7.3"/><path stroke="#ff1a00" d="M68.4 208.6h2.4M82.9 208.6h2.4M121.3 208.6h2.4M63.6 211h2.4M140.6 211h2.4M61.2 213.4h2.4M90.1 213.4h2.4M92.5 215.8h2.4M145.4 215.8h2.4M94.9 218.2h2.4M97.3 220.6h2.4M147.8 220.6h2.4M56.4 223h2.4M99.7 223h7.2M56.4 232.6h2.4M99.7 232.6h7.2M97.3 235h2.4M147.8 235h2.4M94.9 237.4h2.4M92.5 239.8h2.4M145.4 239.8h2.4M61.2 242.2h2.4M90.1 242.2h2.4M63.6 244.6h2.4M140.6 244.6h2.4M68.4 247h2.4M82.9 247h2.4M121.3 247h2.4"/><path stroke="#ff2400" d="M70.8 208.6h2.4M80.5 208.6h2.4M123.7 208.6h2.4M135.8 208.6h2.4M85.3 211h2.4M118.9 211h2.4M143 213.4h2.4M58.8 218.2h2.4M111.7 218.2h2.4M109.3 220.6h2.4M106.9 223h2.4M147.8 223h2.4M56.4 225.4h2.4M99.7 225.4h7.2M56.4 227.8h2.4M99.7 227.8h7.2M56.4 230.2h2.4M99.7 230.2h7.2M106.9 232.6h2.4M147.8 232.6h2.4M109.3 235h2.4M58.8 237.4h2.4M111.7 237.4h2.4M143 242.2h2.4M85.3 244.6h2.4M118.9 244.6h2.4M70.8 247h2.4M80.5 247h2.4M123.7 247h2.4M135.8 247h2.4"/><path stroke="#ff2f00" d="M73.2 208.6h7.3M126.1 208.6h9.7M66 211h2.4M138.2 211h2.4M87.7 213.4h2.4M116.5 213.4h2.4M61.2 215.8h2.4M90.1 215.8h2.4M114.1 215.8h2.4M92.5 218.2h2.4M145.4 218.2h2.4M94.9 220.6h2.4M97.3 223h2.4M97.3 225.4h2.4M106.9 225.4h2.4M147.8 225.4h2.4M106.9 227.8h2.4M147.8 227.8h2.4M97.3 230.2h2.4M106.9 230.2h2.4M147.8 230.2h2.4M97.3 232.6h2.4M94.9 235h2.4M92.5 237.4h2.4M145.4 237.4h2.4M61.2 239.8h2.4M90.1 239.8h2.4M114.1 239.8h2.4M87.7 242.2h2.4M116.5 242.2h2.4M66 244.6h2.4M138.2 244.6h2.4M73.2 247h7.3M126.1 247h9.7"/><path stroke="#ff3a00" d="M68.4 211h2.4M82.9 211h2.4M121.3 211h2.4M63.6 213.4h2.4M140.6 213.4h2.4M143 215.8h2.4M58.8 220.6h2.4M111.7 220.6h2.4M145.4 220.6h2.4M94.9 223h2.4M109.3 223h2.4M109.3 225.4h2.4M97.3 227.8h2.4M109.3 230.2h2.4M94.9 232.6h2.4M109.3 232.6h2.4M58.8 235h2.4M111.7 235h2.4M145.4 235h2.4M143 239.8h2.4M63.6 242.2h2.4M140.6 242.2h2.4M68.4 244.6h2.4M82.9 244.6h2.4M121.3 244.6h2.4"/><path stroke="#ff4500" d="M123.7 211h2.4M135.8 211h2.4M85.3 213.4h2.4M118.9 213.4h2.4M116.5 215.8h2.4M61.2 218.2h2.4M114.1 218.2h2.4M92.5 220.6h2.4M58.8 223h2.4M58.8 225.4h2.4M94.9 225.4h2.4M94.9 227.8h2.4M109.3 227.8h2.4M58.8 230.2h2.4M94.9 230.2h2.4M58.8 232.6h2.4M92.5 235h2.4M61.2 237.4h2.4M114.1 237.4h2.4M116.5 239.8h2.4M85.3 242.2h2.4M118.9 242.2h2.4M123.7 244.6h2.4M135.8 244.6h2.4"/><path stroke="#ff5000" d="M70.8 211h4.8M78.1 211h4.8M126.1 211h2.4M130.9 211h4.9M66 213.4h2.4M138.2 213.4h2.4M63.6 215.8h2.4M87.7 215.8h2.4M90.1 218.2h2.4M143 218.2h2.4M92.5 223h2.4M111.7 223h2.4M145.4 223h2.4M111.7 225.4h2.4M145.4 225.4h2.4M58.8 227.8h2.4M145.4 227.8h2.4M111.7 230.2h2.4M145.4 230.2h2.4M92.5 232.6h2.4M111.7 232.6h2.4M145.4 232.6h2.4M90.1 237.4h2.4M143 237.4h2.4M63.6 239.8h2.4M87.7 239.8h2.4M66 242.2h2.4M138.2 242.2h2.4M70.8 244.6h4.8M78.1 244.6h4.8M126.1 244.6h2.4M130.9 244.6h4.9"/><path stroke="#ff5a00" d="M75.6 211h2.5M128.5 211h2.4M121.3 213.4h2.4M140.6 215.8h2.4M61.2 220.6h2.4M114.1 220.6h2.4M92.5 225.4h2.4M92.5 227.8h2.4M111.7 227.8h2.4M92.5 230.2h2.4M61.2 235h2.4M114.1 235h2.4M140.6 239.8h2.4M121.3 242.2h2.4M75.6 244.6h2.5M128.5 244.6h2.4"/><path stroke="#ff6500" d="M68.4 213.4h2.4M82.9 213.4h2.4M135.8 213.4h2.4M118.9 215.8h2.4M116.5 218.2h2.4M90.1 220.6h2.4M143 220.6h2.4M114.1 223h2.4M114.1 232.6h2.4M90.1 235h2.4M143 235h2.4M116.5 237.4h2.4M118.9 239.8h2.4M68.4 242.2h2.4M82.9 242.2h2.4M135.8 242.2h2.4"/><path stroke="#ff7000" d="M123.7 213.4h2.4M66 215.8h2.4M85.3 215.8h2.4M63.6 218.2h2.4M87.7 218.2h2.4M61.2 223h2.4M90.1 223h2.4M114.1 225.4h2.4M114.1 227.8h2.4M114.1 230.2h2.4M61.2 232.6h2.4M90.1 232.6h2.4M63.6 237.4h2.4M87.7 237.4h2.4M66 239.8h2.4M85.3 239.8h2.4M123.7 242.2h2.4"/><path stroke="#ff7b00" d="M70.8 213.4h2.4M80.5 213.4h2.4M133.4 213.4h2.4M138.2 215.8h2.4M140.6 218.2h2.4M116.5 220.6h2.4M143 223h2.4M61.2 225.4h2.4M90.1 225.4h2.4M90.1 227.8h2.4M61.2 230.2h2.4M90.1 230.2h2.4M143 232.6h2.4M116.5 235h2.4M140.6 237.4h2.4M138.2 239.8h2.4M70.8 242.2h2.4M80.5 242.2h2.4M133.4 242.2h2.4"/><path stroke="#ff8600" d="M126.1 213.4h2.4M87.7 220.6h2.4M61.2 227.8h2.4M87.7 235h2.4M126.1 242.2h2.4"/><path stroke="#ff9000" d="M73.2 213.4h2.4M78.1 213.4h2.4M130.9 213.4h2.5M121.3 215.8h2.4M118.9 218.2h2.4M143 225.4h2.4M143 230.2h2.4M118.9 237.4h2.4M121.3 239.8h2.4M73.2 242.2h2.4M78.1 242.2h2.4M130.9 242.2h2.5"/><path stroke="#ff9b00" d="M75.6 213.4h2.5M128.5 213.4h2.4M82.9 215.8h2.4M63.6 220.6h2.4M116.5 223h2.4M143 227.8h2.4M116.5 232.6h2.4M63.6 235h2.4M82.9 239.8h2.4M75.6 242.2h2.5M128.5 242.2h2.4"/><path stroke="#ffa600" d="M85.3 218.2h2.4M85.3 237.4h2.4"/><path stroke="#ffb100" d="M68.4 215.8h2.4M68.4 239.8h2.4"/><path stroke="#ffbc00" d="M135.8 215.8h2.4M66 218.2h2.4M140.6 220.6h2.4M87.7 223h2.4M116.5 225.4h2.4M116.5 230.2h2.4M87.7 232.6h2.4M140.6 235h2.4M66 237.4h2.4M135.8 239.8h2.4"/><path stroke="#ffc600" d="M116.5 227.8h2.4"/><path stroke="#ffd100" d="M123.7 215.8h2.4M123.7 239.8h2.4"/><path stroke="#ffdc00" d="M80.5 215.8h2.4M138.2 218.2h2.4M118.9 220.6h2.4M63.6 223h2.4M87.7 225.4h2.4M87.7 230.2h2.4M63.6 232.6h2.4M118.9 235h2.4M138.2 237.4h2.4M80.5 239.8h2.4"/><path stroke="#ffe700" d="M70.8 215.8h2.4M87.7 227.8h2.4M70.8 239.8h2.4"/><path stroke="#fff200" d="M133.4 215.8h2.4M121.3 218.2h2.4M85.3 220.6h2.4M140.6 223h2.4M63.6 225.4h2.4M63.6 230.2h2.4M140.6 232.6h2.4M85.3 235h2.4M121.3 237.4h2.4M133.4 239.8h2.4"/><path stroke="#fffc00" d="M73.2 215.8h2.4M78.1 215.8h2.4M126.1 215.8h2.4M130.9 215.8h2.5M82.9 218.2h2.4M66 220.6h2.4M63.6 227.8h2.4M66 235h2.4M82.9 237.4h2.4M73.2 239.8h2.4M78.1 239.8h2.4M126.1 239.8h2.4M130.9 239.8h2.5"/><path stroke="#ffff0c" d="M75.6 215.8h2.5M128.5 215.8h2.4M68.4 218.2h2.4M135.8 218.2h2.4M138.2 220.6h2.4M118.9 223h2.4M140.6 225.4h2.4M140.6 227.8h2.4M140.6 230.2h2.4M118.9 232.6h2.4M138.2 235h2.4M68.4 237.4h2.4M135.8 237.4h2.4M75.6 239.8h2.5M128.5 239.8h2.4"/><path stroke="#ffff1c" d="M80.5 218.2h2.4M123.7 218.2h2.4M121.3 220.6h2.4M66 223h2.4M85.3 223h2.4M118.9 225.4h2.4M118.9 227.8h2.4M118.9 230.2h2.4M66 232.6h2.4M85.3 232.6h2.4M121.3 235h2.4M80.5 237.4h2.4M123.7 237.4h2.4"/><path stroke="#ffff2d" d="M70.8 218.2h2.4M126.1 218.2h2.4M133.4 218.2h2.4M68.4 220.6h2.4M82.9 220.6h2.4M138.2 223h2.4M85.3 225.4h2.4M85.3 227.8h2.4M85.3 230.2h2.4M138.2 232.6h2.4M68.4 235h2.4M82.9 235h2.4M70.8 237.4h2.4M126.1 237.4h2.4M133.4 237.4h2.4"/><path stroke="#ffff3d" d="M73.2 218.2h7.3M128.5 218.2h4.9M135.8 220.6h2.4M121.3 223h2.4M66 225.4h2.4M138.2 225.4h2.4M66 227.8h2.4M66 230.2h2.4M138.2 230.2h2.4M121.3 232.6h2.4M135.8 235h2.4M73.2 237.4h7.3M128.5 237.4h4.9"/><path stroke="#ffff4d" d="M80.5 220.6h2.4M123.7 220.6h2.4M82.9 223h2.4M138.2 227.8h2.4M82.9 232.6h2.4M80.5 235h2.4M123.7 235h2.4"/><path stroke="#ffff5d" d="M70.8 220.6h2.4M133.4 220.6h2.4M68.4 223h2.4M82.9 225.4h2.4M121.3 225.4h2.4M121.3 227.8h2.4M82.9 230.2h2.4M121.3 230.2h2.4M68.4 232.6h2.4M70.8 235h2.4M133.4 235h2.4"/><path stroke="#ffff6d" d="M78.1 220.6h2.4M126.1 220.6h2.4M123.7 223h2.4M135.8 223h2.4M68.4 225.4h2.4M82.9 227.8h2.4M68.4 230.2h2.4M123.7 232.6h2.4M135.8 232.6h2.4M78.1 235h2.4M126.1 235h2.4"/><path stroke="#ffff7d" d="M73.2 220.6h4.9M128.5 220.6h4.9M80.5 223h2.4M135.8 225.4h2.4M68.4 227.8h2.4M135.8 230.2h2.4M80.5 232.6h2.4M73.2 235h4.9M128.5 235h4.9"/><path stroke="#ffff8e" d="M70.8 223h2.4M123.7 225.4h2.4M135.8 227.8h2.4M123.7 230.2h2.4M70.8 232.6h2.4"/><path stroke="#ffff9e" d="M126.1 223h2.4M133.4 223h2.4M80.5 225.4h2.4M123.7 227.8h2.4M80.5 230.2h2.4M126.1 232.6h2.4M133.4 232.6h2.4"/><path stroke="#ffffae" d="M78.1 223h2.4M80.5 227.8h2.4M78.1 232.6h2.4"/><path stroke="#ffffbe" d="M73.2 223h4.9M128.5 223h4.9M70.8 225.4h2.4M133.4 225.4h2.4M70.8 227.8h2.4M70.8 230.2h2.4M133.4 230.2h2.4M73.2 232.6h4.9M128.5 232.6h4.9"/><path stroke="#ffffce" d="M126.1 225.4h2.4M133.4 227.8h2.4M126.1 230.2h2.4"/><path stroke="#ffffdf" d="M73.2 225.4h2.4M78.1 225.4h2.4M130.9 225.4h2.5M78.1 227.8h2.4M126.1 227.8h2.4M73.2 230.2h2.4M78.1 230.2h2.4M130.9 230.2h2.5"/><path stroke="#ffffef" d="M75.6 225.4h2.5M128.5 225.4h2.4M73.2 227.8h2.4M130.9 227.8h2.5M75.6 230.2h2.5M128.5 230.2h2.4"/><path stroke="#ffffff" d="M75.6 227.8h2.5M128.5 227.8h2.4"/></g></g></g><text x="43.50" y="196.20" font-size="10" text-anchor="end" fill="#262626">5</text><text x="43.50" y="231.60" font-size="10" text-anchor="end" fill="#262626">0</text><text x="43.50" y="268.10" font-size="10" text-anchor="end" fill="#262626">-5</text><text x="48.85" y="279.70" font-size="10" text-anchor="middle" fill="#262626">-7.5</text><text x="77.20" y="279.70" font-size="10" text-anchor="middle" fill="#262626">-3.75</text><text x="104.30" y="279.70" font-size="10" text-anchor="middle" fill="#262626">0</text><text x="129.90" y="279.70" font-size="10" text-anchor="middle" fill="#262626">3.75</text><text x="155.80" y="279.70" font-size="10" text-anchor="middle" fill="#262626">7.5</text><text x="104.70" y="294.20" font-size="11.3" text-anchor="middle" fill="#262626">x (mm)</text><text x="32.00" y="227.60" font-size="11.2" text-anchor="middle" fill="#262626" transform="rotate(-90 32.00 227.60)">y (mm)</text><defs><linearGradient id="cb84" x1="0" y1="1" x2="0" y2="0"><stop offset="0" stop-color="#000"/><stop offset="0.375" stop-color="#f00"/><stop offset="0.75" stop-color="#ff0"/><stop offset="1" stop-color="#fff"/></linearGradient></defs><rect x="173.30" y="190.60" width="8.60" height="74.40" fill="url(#cb84)" stroke="#a0a0a0" stroke-width="0.5"/><text x="184.80" y="193.66" font-size="8.5" text-anchor="start" fill="#262626">1</text><text x="184.80" y="208.54" font-size="8.5" text-anchor="start" fill="#262626">0.8</text><text x="184.80" y="223.42" font-size="8.5" text-anchor="start" fill="#262626">0.6</text><text x="184.80" y="238.30" font-size="8.5" text-anchor="start" fill="#262626">0.4</text><text x="184.80" y="253.18" font-size="8.5" text-anchor="start" fill="#262626">0.2</text><text x="184.80" y="268.06" font-size="8.5" text-anchor="start" fill="#262626">0</text><text x="206.80" y="228.40" font-size="8.3" text-anchor="middle" fill="#262626" transform="rotate(-90 206.80 228.40)">Normalized pressure</text><text x="329.40" y="192.00" font-size="9.7" font-weight="bold" text-anchor="middle" fill="#000">Experimental pressure map</text><defs><clipPath id="hc94"><rect x="256.80" y="195.90" width="145.10" height="59.10"/></clipPath><filter id="hf94" x="-5%" y="-10%" width="110%" height="120%"><feGaussianBlur stdDeviation="0.9"/></filter></defs><g clip-path="url(#hc94)"><g filter="url(#hf94)"><g fill="none" stroke-width="2.030" shape-rendering="crispEdges"><rect x="252.82" y="191.92" width="153.05" height="67.05" fill="#000" stroke="none"/><path stroke="#0b0000" d="M288.6 192.94h2M370.1 192.94h2M278.7 194.92h3.9M296.6 194.92h3.9M360.2 194.92h3.9M378 194.92h4M274.7 196.89h2M284.6 196.89h10M300.5 196.89h4M356.2 196.89h4M366.1 196.89h8M382 196.89h4M272.7 198.86h2M278.7 198.86h3.9M298.5 198.86h2M304.5 198.86h2M354.2 198.86h2M360.2 198.86h1.9M378 198.86h4M386 198.86h2M302.5 200.82h2M306.5 200.82h2M352.2 200.82h2M356.2 200.82h2M382 200.82h2M388 200.82h2M272.7 202.8h2M304.5 202.8h2M308.5 202.8h2M350.2 202.8h6M386 202.8h2M390 202.8h2M266.7 204.76h2M270.7 204.76h2M306.5 204.76h6M348.2 204.76h4M388 204.76h2M392 204.76h1.9M264.8 206.74h1.9M268.7 206.74h2M308.5 206.74h4M348.2 206.74h4M393.9 206.74h2M310.5 208.7h3.9M346.2 208.7h4M262.8 210.68h2M266.7 210.68h2M312.5 210.68h1.9M346.2 210.68h2M392 210.68h1.9M395.9 210.68h2M312.5 212.64h3.9M344.3 212.64h3.9M395.9 212.64h2M264.8 214.62h1.9M314.4 214.62h2M344.3 214.62h1.9M260.8 216.58h2M264.8 216.58h1.9M314.4 216.58h2M344.3 216.58h1.9M393.9 216.58h2M397.9 216.58h2M260.8 218.56h2M314.4 218.56h2M344.3 218.56h1.9M393.9 218.56h2M397.9 218.56h2M260.8 220.52h2M314.4 220.52h2M344.3 220.52h1.9M397.9 220.52h2M260.8 222.5h2M314.4 222.5h2M344.3 222.5h1.9M397.9 222.5h2M260.8 224.46h2M314.4 224.46h2M344.3 224.46h1.9M397.9 224.46h2M260.8 226.44h2M314.4 226.44h2M344.3 226.44h1.9M393.9 226.44h2M397.9 226.44h2M260.8 228.4h2M264.8 228.4h1.9M314.4 228.4h2M344.3 228.4h1.9M393.9 228.4h2M397.9 228.4h2M264.8 230.38h1.9M314.4 230.38h2M344.3 230.38h1.9M312.5 232.34h3.9M344.3 232.34h3.9M395.9 232.34h2M262.8 234.32h2M266.7 234.32h2M312.5 234.32h1.9M346.2 234.32h2M392 234.32h1.9M395.9 234.32h2M310.5 236.28h3.9M346.2 236.28h4M264.8 238.26h1.9M268.7 238.26h2M308.5 238.26h4M348.2 238.26h4M393.9 238.26h2M266.7 240.22h2M270.7 240.22h2M306.5 240.22h6M348.2 240.22h4M388 240.22h2M392 240.22h1.9M272.7 242.2h2M304.5 242.2h2M308.5 242.2h2M350.2 242.2h6M386 242.2h2M390 242.2h2M302.5 244.16h2M306.5 244.16h2M352.2 244.16h2M356.2 244.16h2M382 244.16h2M388 244.16h2M272.7 246.14h2M278.7 246.14h3.9M298.5 246.14h2M304.5 246.14h2M354.2 246.14h2M360.2 246.14h1.9M378 246.14h4M386 246.14h2M274.7 248.1h2M284.6 248.1h10M300.5 248.1h4M356.2 248.1h4M366.1 248.1h8M382 248.1h4M278.7 250.08h3.9M296.6 250.08h3.9M360.2 250.08h3.9M378 250.08h4M288.6 252.04h2M370.1 252.04h2M252.8 257.96h2"/><path stroke="#160000" d="M252.8 192.94h4M282.6 192.94h6M290.6 192.94h6M364.1 192.94h6M372.1 192.94h5.9M403.9 192.94h2M252.8 194.92h2M276.7 194.92h2M300.5 194.92h2M358.2 194.92h2M382 194.92h2M272.7 196.89h2M354.2 196.89h2M386 196.89h2M270.7 198.86h2M282.6 198.86h2M294.6 198.86h3.9M306.5 198.86h2M352.2 198.86h2M362.1 198.86h4M376.1 198.86h1.9M388 198.86h2M268.7 200.82h2M276.7 200.82h2M300.5 200.82h2M308.5 200.82h2M350.2 200.82h2M358.2 200.82h2M390 200.82h2M266.7 202.8h2M274.7 202.8h2M310.5 202.8h2M348.2 202.8h2M384 202.8h2M392 202.8h1.9M264.8 204.76h1.9M352.2 204.76h2M386 204.76h2M393.9 204.76h2M270.7 206.74h2M312.5 206.74h1.9M346.2 206.74h2M388 206.74h2M262.8 208.7h2M268.7 208.7h2M344.3 208.7h1.9M390 208.7h2M395.9 208.7h2M310.5 210.68h2M314.4 210.68h2M344.3 210.68h1.9M348.2 210.68h2M260.8 212.64h2M266.7 212.64h2M392 212.64h1.9M397.9 212.64h2M260.8 214.62h2M312.5 214.62h1.9M342.3 214.62h2M346.2 214.62h2M397.9 214.62h2M312.5 216.58h1.9M316.4 216.58h2M342.3 216.58h2M346.2 216.58h2M264.8 218.56h1.9M316.4 218.56h2M342.3 218.56h2M264.8 220.52h1.9M316.4 220.52h2M342.3 220.52h2M393.9 220.52h2M264.8 222.5h1.9M316.4 222.5h2M342.3 222.5h2M393.9 222.5h2M264.8 224.46h1.9M316.4 224.46h2M342.3 224.46h2M393.9 224.46h2M264.8 226.44h1.9M316.4 226.44h2M342.3 226.44h2M312.5 228.4h1.9M316.4 228.4h2M342.3 228.4h2M346.2 228.4h2M260.8 230.38h2M312.5 230.38h1.9M342.3 230.38h2M346.2 230.38h2M397.9 230.38h2M260.8 232.34h2M266.7 232.34h2M392 232.34h1.9M397.9 232.34h2M310.5 234.32h2M314.4 234.32h2M344.3 234.32h1.9M348.2 234.32h2M262.8 236.28h2M268.7 236.28h2M344.3 236.28h1.9M390 236.28h2M395.9 236.28h2M270.7 238.26h2M312.5 238.26h1.9M346.2 238.26h2M388 238.26h2M264.8 240.22h1.9M352.2 240.22h2M386 240.22h2M393.9 240.22h2M266.7 242.2h2M274.7 242.2h2M310.5 242.2h2M348.2 242.2h2M384 242.2h2M392 242.2h1.9M268.7 244.16h2M276.7 244.16h2M300.5 244.16h2M308.5 244.16h2M350.2 244.16h2M358.2 244.16h2M390 244.16h2M270.7 246.14h2M282.6 246.14h2M294.6 246.14h3.9M306.5 246.14h2M352.2 246.14h2M362.1 246.14h4M376.1 246.14h1.9M388 246.14h2M272.7 248.1h2M354.2 248.1h2M386 248.1h2M252.8 250.08h2M276.7 250.08h2M300.5 250.08h2M358.2 250.08h2M382 250.08h2M252.8 252.04h4M282.6 252.04h6M290.6 252.04h6M364.1 252.04h6M372.1 252.04h5.9M403.9 252.04h2M252.8 254.02h6M401.9 254.02h4M252.8 255.98h6M399.9 255.98h6M254.8 257.96h8M397.9 257.96h8"/><path stroke="#200000" d="M256.8 192.94h4M278.7 192.94h3.9M296.6 192.94h3.9M324.4 192.94h11.9M360.2 192.94h3.9M378 192.94h4M397.9 192.94h6M254.8 194.92h4M274.7 194.92h2M302.5 194.92h2M356.2 194.92h2M384 194.92h2M399.9 194.92h6M252.8 196.89h6M270.7 196.89h2M304.5 196.89h2M388 196.89h2M401.9 196.89h4M252.8 198.86h4M268.7 198.86h2M284.6 198.86h10M350.2 198.86h2M366.1 198.86h10M390 198.86h2M403.9 198.86h2M252.8 200.82h2M266.7 200.82h2M278.7 200.82h2M298.5 200.82h2M348.2 200.82h2M360.2 200.82h1.9M380 200.82h2M392 200.82h1.9M252.8 202.8h2M264.8 202.8h1.9M302.5 202.8h2M356.2 202.8h2M393.9 202.8h2M272.7 204.76h2M304.5 204.76h2M312.5 204.76h1.9M346.2 204.76h2M354.2 204.76h2M262.8 206.74h2M306.5 206.74h2M344.3 206.74h1.9M352.2 206.74h2M395.9 206.74h2M260.8 208.7h2M308.5 208.7h2M314.4 208.7h2M350.2 208.7h2M260.8 210.68h2M268.7 210.68h2M390 210.68h2M397.9 210.68h2M310.5 212.64h2M316.4 212.64h2M342.3 212.64h2M348.2 212.64h2M258.8 214.62h2M266.7 214.62h2M316.4 214.62h2M392 214.62h1.9M258.8 216.58h2M399.9 216.58h2M258.8 218.56h2M312.5 218.56h1.9M346.2 218.56h2M399.9 218.56h2M258.8 220.52h2M312.5 220.52h1.9M346.2 220.52h2M399.9 220.52h2M258.8 222.5h2M312.5 222.5h1.9M346.2 222.5h2M399.9 222.5h2M258.8 224.46h2M312.5 224.46h1.9M346.2 224.46h2M399.9 224.46h2M258.8 226.44h2M312.5 226.44h1.9M346.2 226.44h2M399.9 226.44h2M258.8 228.4h2M399.9 228.4h2M258.8 230.38h2M266.7 230.38h2M316.4 230.38h2M392 230.38h1.9M310.5 232.34h2M316.4 232.34h2M342.3 232.34h2M348.2 232.34h2M260.8 234.32h2M268.7 234.32h2M390 234.32h2M397.9 234.32h2M260.8 236.28h2M308.5 236.28h2M314.4 236.28h2M350.2 236.28h2M262.8 238.26h2M306.5 238.26h2M344.3 238.26h1.9M352.2 238.26h2M395.9 238.26h2M272.7 240.22h2M304.5 240.22h2M312.5 240.22h1.9M346.2 240.22h2M354.2 240.22h2M252.8 242.2h2M264.8 242.2h1.9M302.5 242.2h2M356.2 242.2h2M393.9 242.2h2M252.8 244.16h2M266.7 244.16h2M278.7 244.16h2M298.5 244.16h2M348.2 244.16h2M360.2 244.16h1.9M380 244.16h2M392 244.16h1.9M252.8 246.14h4M268.7 246.14h2M284.6 246.14h10M350.2 246.14h2M366.1 246.14h10M390 246.14h2M403.9 246.14h2M252.8 248.1h6M270.7 248.1h2M304.5 248.1h2M388 248.1h2M401.9 248.1h4M254.8 250.08h4M274.7 250.08h2M302.5 250.08h2M356.2 250.08h2M384 250.08h2M399.9 250.08h6M256.8 252.04h4M278.7 252.04h3.9M296.6 252.04h3.9M332.3 252.04h4M360.2 252.04h3.9M378 252.04h4M397.9 252.04h6M258.8 254.02h4M284.6 254.02h10M320.4 254.02h19.9M366.1 254.02h10M395.9 254.02h6M258.8 255.98h7.9M316.4 255.98h27.9M393.9 255.98h6M262.8 257.96h5.9M312.5 257.96h35.7M392 257.96h5.9"/><path stroke="#2b0000" d="M260.8 192.94h17.9M300.5 192.94h6M316.4 192.94h8M336.3 192.94h8M354.2 192.94h6M382 192.94h15.9M258.8 194.92h15.9M304.5 194.92h4M318.4 194.92h23.9M352.2 194.92h4M386 194.92h13.9M258.8 196.89h11.9M306.5 196.89h4M320.4 196.89h17.9M350.2 196.89h4M390 196.89h11.9M256.8 198.86h11.9M308.5 198.86h4M324.4 198.86h11.9M348.2 198.86h2M392 198.86h11.9M254.8 200.82h11.9M280.7 200.82h1.9M296.6 200.82h1.9M310.5 200.82h2M346.2 200.82h2M362.1 200.82h2M378 200.82h2M393.9 200.82h12M254.8 202.8h10M276.7 202.8h2M300.5 202.8h2M312.5 202.8h1.9M346.2 202.8h2M382 202.8h2M395.9 202.8h10M252.8 204.76h12M314.4 204.76h2M344.3 204.76h1.9M384 204.76h2M395.9 204.76h10M252.8 206.74h10M314.4 206.74h2M397.9 206.74h8M252.8 208.7h8M270.7 208.7h2M316.4 208.7h2M342.3 208.7h2M388 208.7h2M397.9 208.7h8M252.8 210.68h8M308.5 210.68h2M316.4 210.68h2M342.3 210.68h2M350.2 210.68h2M399.9 210.68h6M252.8 212.64h8M399.9 212.64h6M252.8 214.62h6M310.5 214.62h2M340.3 214.62h2M348.2 214.62h2M399.9 214.62h6M252.8 216.58h6M266.7 216.58h2M318.4 216.58h2M340.3 216.58h2M392 216.58h1.9M401.9 216.58h4M252.8 218.56h6M318.4 218.56h2M340.3 218.56h2M392 218.56h1.9M401.9 218.56h4M252.8 220.52h6M318.4 220.52h2M340.3 220.52h2M401.9 220.52h4M252.8 222.5h6M318.4 222.5h2M340.3 222.5h2M401.9 222.5h4M252.8 224.46h6M318.4 224.46h2M340.3 224.46h2M401.9 224.46h4M252.8 226.44h6M318.4 226.44h2M340.3 226.44h2M392 226.44h1.9M401.9 226.44h4M252.8 228.4h6M266.7 228.4h2M318.4 228.4h2M340.3 228.4h2M392 228.4h1.9M401.9 228.4h4M252.8 230.38h6M310.5 230.38h2M340.3 230.38h2M348.2 230.38h2M399.9 230.38h6M252.8 232.34h8M399.9 232.34h6M252.8 234.32h8M308.5 234.32h2M316.4 234.32h2M342.3 234.32h2M350.2 234.32h2M399.9 234.32h6M252.8 236.28h8M270.7 236.28h2M316.4 236.28h2M342.3 236.28h2M388 236.28h2M397.9 236.28h8M252.8 238.26h10M314.4 238.26h2M397.9 238.26h8M252.8 240.22h12M314.4 240.22h2M344.3 240.22h1.9M384 240.22h2M395.9 240.22h10M254.8 242.2h10M276.7 242.2h2M300.5 242.2h2M312.5 242.2h1.9M346.2 242.2h2M382 242.2h2M395.9 242.2h10M254.8 244.16h11.9M280.7 244.16h1.9M296.6 244.16h1.9M310.5 244.16h2M346.2 244.16h2M362.1 244.16h2M378 244.16h2M393.9 244.16h12M256.8 246.14h11.9M308.5 246.14h4M348.2 246.14h2M392 246.14h11.9M258.8 248.1h11.9M306.5 248.1h4M322.4 248.1h15.9M350.2 248.1h4M390 248.1h11.9M258.8 250.08h15.9M304.5 250.08h4M318.4 250.08h23.9M352.2 250.08h4M386 250.08h13.9M260.8 252.04h17.9M300.5 252.04h6M316.4 252.04h15.9M336.3 252.04h8M354.2 252.04h6M382 252.04h15.9M262.8 254.02h21.8M294.6 254.02h9.9M312.5 254.02h7.9M340.3 254.02h7.9M356.2 254.02h9.9M376.1 254.02h19.8M266.7 255.98h35.8M308.5 255.98h7.9M344.3 255.98h7.9M358.2 255.98h35.7M268.7 257.96h43.8M348.2 257.96h43.8"/><path stroke="#360000" d="M306.5 192.94h9.9M344.3 192.94h9.9M308.5 194.92h9.9M342.3 194.92h9.9M310.5 196.89h9.9M338.3 196.89h11.9M312.5 198.86h11.9M336.3 198.86h11.9M282.6 200.82h2M294.6 200.82h2M312.5 200.82h33.7M364.1 200.82h2M376.1 200.82h1.9M314.4 202.8h6M322.4 202.8h15.9M340.3 202.8h5.9M358.2 202.8h2M274.7 204.76h2M302.5 204.76h2M316.4 204.76h4M340.3 204.76h4M356.2 204.76h2M272.7 206.74h2M304.5 206.74h2M316.4 206.74h4M340.3 206.74h4M386 206.74h2M306.5 208.7h2M318.4 208.7h2M340.3 208.7h2M352.2 208.7h2M318.4 210.68h2M340.3 210.68h2M268.7 212.64h2M318.4 212.64h2M338.3 212.64h4M390 212.64h2M318.4 214.62h2M338.3 214.62h2M310.5 216.58h2M338.3 216.58h2M348.2 216.58h2M266.7 218.56h2M338.3 218.56h2M266.7 220.52h2M338.3 220.52h2M392 220.52h1.9M266.7 222.5h2M338.3 222.5h2M392 222.5h1.9M266.7 224.46h2M338.3 224.46h2M392 224.46h1.9M266.7 226.44h2M338.3 226.44h2M310.5 228.4h2M338.3 228.4h2M348.2 228.4h2M318.4 230.38h2M338.3 230.38h2M268.7 232.34h2M318.4 232.34h2M338.3 232.34h4M390 232.34h2M318.4 234.32h2M340.3 234.32h2M306.5 236.28h2M318.4 236.28h2M340.3 236.28h2M352.2 236.28h2M272.7 238.26h2M304.5 238.26h2M316.4 238.26h4M340.3 238.26h4M386 238.26h2M274.7 240.22h2M302.5 240.22h2M316.4 240.22h4M340.3 240.22h4M356.2 240.22h2M314.4 242.2h6M332.3 242.2h6M340.3 242.2h5.9M358.2 242.2h2M282.6 244.16h2M294.6 244.16h2M312.5 244.16h33.7M364.1 244.16h2M376.1 244.16h1.9M312.5 246.14h35.7M310.5 248.1h11.9M338.3 248.1h11.9M308.5 250.08h9.9M342.3 250.08h9.9M306.5 252.04h9.9M344.3 252.04h9.9M304.5 254.02h8M348.2 254.02h8M302.5 255.98h6M352.2 255.98h6"/><path stroke="#410000" d="M284.6 200.82h4M292.6 200.82h2M366.1 200.82h2M372.1 200.82h4M278.7 202.8h2M298.5 202.8h2M320.4 202.8h2M338.3 202.8h2M360.2 202.8h1.9M380 202.8h2M320.4 204.76h19.9M320.4 206.74h19.9M354.2 206.74h2M320.4 208.7h6M330.3 208.7h10M270.7 210.68h2M320.4 210.68h4M334.3 210.68h6M388 210.68h2M308.5 212.64h2M320.4 212.64h4M336.3 212.64h2M350.2 212.64h2M268.7 214.62h2M320.4 214.62h4M336.3 214.62h2M390 214.62h2M320.4 216.58h2M336.3 216.58h2M310.5 218.56h2M320.4 218.56h2M336.3 218.56h2M348.2 218.56h2M310.5 220.52h2M320.4 220.52h2M336.3 220.52h2M348.2 220.52h2M310.5 222.5h2M320.4 222.5h2M336.3 222.5h2M310.5 224.46h2M320.4 224.46h2M336.3 224.46h2M348.2 224.46h2M310.5 226.44h2M320.4 226.44h2M336.3 226.44h2M348.2 226.44h2M320.4 228.4h2M336.3 228.4h2M268.7 230.38h2M320.4 230.38h2M336.3 230.38h2M390 230.38h2M308.5 232.34h2M320.4 232.34h2M336.3 232.34h2M350.2 232.34h2M270.7 234.32h2M320.4 234.32h4M336.3 234.32h4M388 234.32h2M320.4 236.28h4M334.3 236.28h6M320.4 238.26h6M332.3 238.26h8M354.2 238.26h2M320.4 240.22h19.9M278.7 242.2h2M298.5 242.2h2M320.4 242.2h11.9M338.3 242.2h2M360.2 242.2h1.9M380 242.2h2M284.6 244.16h4M292.6 244.16h2M366.1 244.16h2M372.1 244.16h4"/><path stroke="#4c0000" d="M288.6 200.82h4M368.1 200.82h4M280.7 202.8h1.9M378 202.8h2M276.7 204.76h2M300.5 204.76h2M358.2 204.76h2M382 204.76h2M274.7 206.74h2M384 206.74h2M272.7 208.7h2M326.4 208.7h3.9M386 208.7h2M306.5 210.68h2M324.4 210.68h9.9M352.2 210.68h2M324.4 212.64h11.9M308.5 214.62h2M324.4 214.62h2M330.3 214.62h6M350.2 214.62h2M268.7 216.58h2M322.4 216.58h4M332.3 216.58h4M390 216.58h2M322.4 218.56h4M334.3 218.56h2M322.4 220.52h2M334.3 220.52h2M322.4 222.5h2M334.3 222.5h2M348.2 222.5h2M322.4 224.46h2M334.3 224.46h2M322.4 226.44h2M334.3 226.44h2M268.7 228.4h2M322.4 228.4h4M334.3 228.4h2M390 228.4h2M308.5 230.38h2M322.4 230.38h4M332.3 230.38h4M350.2 230.38h2M322.4 232.34h4M332.3 232.34h4M306.5 234.32h2M324.4 234.32h11.9M352.2 234.32h2M272.7 236.28h2M324.4 236.28h9.9M386 236.28h2M274.7 238.26h2M326.4 238.26h5.9M384 238.26h2M276.7 240.22h2M300.5 240.22h2M358.2 240.22h2M382 240.22h2M280.7 242.2h1.9M378 242.2h2M288.6 244.16h4M368.1 244.16h4"/><path stroke="#560000" d="M296.6 202.8h1.9M362.1 202.8h2M302.5 206.74h2M356.2 206.74h2M304.5 208.7h2M354.2 208.7h2M270.7 212.64h2M388 212.64h2M326.4 214.62h3.9M308.5 216.58h2M326.4 216.58h5.9M326.4 218.56h7.9M390 218.56h2M324.4 220.52h9.9M324.4 222.5h9.9M324.4 224.46h9.9M324.4 226.44h9.9M390 226.44h2M308.5 228.4h2M326.4 228.4h7.9M326.4 230.38h5.9M270.7 232.34h2M326.4 232.34h5.9M388 232.34h2M304.5 236.28h2M354.2 236.28h2M302.5 238.26h2M356.2 238.26h2M296.6 242.2h1.9M362.1 242.2h2"/><path stroke="#610000" d="M282.6 202.8h2M294.6 202.8h2M364.1 202.8h2M376.1 202.8h1.9M278.7 204.76h2M380 204.76h2M306.5 212.64h2M350.2 216.58h2M268.7 218.56h2M308.5 218.56h2M268.7 220.52h2M390 220.52h2M390 222.5h2M268.7 224.46h2M390 224.46h2M268.7 226.44h2M308.5 226.44h2M350.2 228.4h2M306.5 232.34h2M278.7 240.22h2M380 240.22h2M282.6 242.2h2M294.6 242.2h2M364.1 242.2h2M376.1 242.2h1.9"/><path stroke="#6c0000" d="M284.6 202.8h2M292.6 202.8h2M374.1 202.8h2M298.5 204.76h2M360.2 204.76h1.9M382 206.74h2M272.7 210.68h2M386 210.68h2M352.2 212.64h2M388 214.62h2M350.2 218.56h2M308.5 220.52h2M268.7 222.5h2M308.5 222.5h2M308.5 224.46h2M350.2 226.44h2M388 230.38h2M352.2 232.34h2M272.7 234.32h2M386 234.32h2M382 238.26h2M298.5 240.22h2M360.2 240.22h1.9M284.6 242.2h2M292.6 242.2h2M374.1 242.2h2"/><path stroke="#770000" d="M286.6 202.8h2M290.6 202.8h2M366.1 202.8h4M372.1 202.8h2M276.7 206.74h2M300.5 206.74h2M274.7 208.7h2M384 208.7h2M304.5 210.68h2M354.2 210.68h2M270.7 214.62h2M306.5 214.62h2M350.2 220.52h2M350.2 222.5h2M350.2 224.46h2M270.7 230.38h2M306.5 230.38h2M304.5 234.32h2M354.2 234.32h2M274.7 236.28h2M384 236.28h2M276.7 238.26h2M300.5 238.26h2M286.6 242.2h2M290.6 242.2h2M366.1 242.2h4M372.1 242.2h2"/><path stroke="#820000" d="M288.6 202.8h2M370.1 202.8h2M280.7 204.76h1.9M296.6 204.76h1.9M378 204.76h2M358.2 206.74h2M302.5 208.7h2M356.2 208.7h2M352.2 214.62h2M388 216.58h2M388 228.4h2M352.2 230.38h2M302.5 236.28h2M356.2 236.28h2M358.2 238.26h2M280.7 240.22h1.9M296.6 240.22h1.9M378 240.22h2M288.6 242.2h2M370.1 242.2h2"/><path stroke="#8c0000" d="M362.1 204.76h2M272.7 212.64h2M386 212.64h2M270.7 216.58h2M270.7 228.4h2M272.7 232.34h2M386 232.34h2M362.1 240.22h2"/><path stroke="#970000" d="M282.6 204.76h2M376.1 204.76h1.9M278.7 206.74h2M380 206.74h2M384 210.68h2M304.5 212.64h2M306.5 216.58h2M352.2 216.58h2M270.7 218.56h2M388 218.56h2M388 220.52h2M388 224.46h2M270.7 226.44h2M388 226.44h2M306.5 228.4h2M352.2 228.4h2M304.5 232.34h2M384 234.32h2M278.7 238.26h2M380 238.26h2M282.6 240.22h2M376.1 240.22h1.9"/><path stroke="#a20000" d="M294.6 204.76h2M364.1 204.76h2M298.5 206.74h2M360.2 206.74h1.9M276.7 208.7h2M382 208.7h2M274.7 210.68h2M354.2 212.64h2M306.5 218.56h2M270.7 220.52h2M388 222.5h2M270.7 224.46h2M306.5 226.44h2M354.2 232.34h2M274.7 234.32h2M276.7 236.28h2M382 236.28h2M298.5 238.26h2M360.2 238.26h1.9M294.6 240.22h2M364.1 240.22h2"/><path stroke="#ad0000" d="M284.6 204.76h2M292.6 204.76h2M366.1 204.76h2M374.1 204.76h2M300.5 208.7h2M358.2 208.7h2M302.5 210.68h2M356.2 210.68h2M272.7 214.62h2M386 214.62h2M352.2 218.56h2M306.5 220.52h2M270.7 222.5h2M306.5 222.5h2M306.5 224.46h2M352.2 226.44h2M272.7 230.38h2M386 230.38h2M302.5 234.32h2M356.2 234.32h2M300.5 236.28h2M358.2 236.28h2M284.6 240.22h2M292.6 240.22h2M366.1 240.22h2M374.1 240.22h2"/><path stroke="#b70000" d="M286.6 204.76h6M368.1 204.76h6M280.7 206.74h1.9M378 206.74h2M304.5 214.62h2M352.2 220.52h2M352.2 222.5h2M352.2 224.46h2M304.5 230.38h2M280.7 238.26h1.9M378 238.26h2M286.6 240.22h6M368.1 240.22h6"/><path stroke="#c20000" d="M296.6 206.74h1.9M362.1 206.74h2M384 212.64h2M354.2 214.62h2M386 216.58h2M386 228.4h2M354.2 230.38h2M384 232.34h2M296.6 238.26h1.9M362.1 238.26h2"/><path stroke="#cd0000" d="M278.7 208.7h2M380 208.7h2M382 210.68h2M274.7 212.64h2M302.5 212.64h2M272.7 216.58h2M304.5 216.58h2M386 218.56h2M386 226.44h2M272.7 228.4h2M304.5 228.4h2M274.7 232.34h2M302.5 232.34h2M382 234.32h2M278.7 236.28h2M380 236.28h2"/><path stroke="#d80000" d="M282.6 206.74h2M294.6 206.74h2M364.1 206.74h2M376.1 206.74h1.9M298.5 208.7h2M360.2 208.7h1.9M276.7 210.68h2M300.5 210.68h2M356.2 212.64h2M354.2 216.58h2M272.7 218.56h2M272.7 226.44h2M354.2 228.4h2M356.2 232.34h2M276.7 234.32h2M300.5 234.32h2M298.5 236.28h2M360.2 236.28h1.9M282.6 238.26h2M294.6 238.26h2M364.1 238.26h2M376.1 238.26h1.9"/><path stroke="#e30000" d="M358.2 210.68h2M384 214.62h2M304.5 218.56h2M272.7 220.52h2M386 220.52h2M386 222.5h2M272.7 224.46h2M386 224.46h2M304.5 226.44h2M384 230.38h2M358.2 234.32h2"/><path stroke="#ed0000" d="M284.6 206.74h2M292.6 206.74h2M366.1 206.74h2M374.1 206.74h2M378 208.7h2M274.7 214.62h2M302.5 214.62h2M354.2 218.56h2M304.5 220.52h2M272.7 222.5h2M304.5 222.5h2M304.5 224.46h2M354.2 226.44h2M274.7 230.38h2M302.5 230.38h2M378 236.28h2M284.6 238.26h2M292.6 238.26h2M366.1 238.26h2M374.1 238.26h2"/><path stroke="#f80000" d="M286.6 206.74h2M290.6 206.74h2M368.1 206.74h2M372.1 206.74h2M280.7 208.7h1.9M296.6 208.7h1.9M362.1 208.7h2M380 210.68h2M382 212.64h2M356.2 214.62h2M354.2 220.52h2M354.2 222.5h2M354.2 224.46h2M356.2 230.38h2M382 232.34h2M380 234.32h2M280.7 236.28h1.9M296.6 236.28h1.9M362.1 236.28h2M286.6 238.26h2M290.6 238.26h2M368.1 238.26h2M372.1 238.26h2"/><path stroke="#ff0400" d="M288.6 206.74h2M370.1 206.74h2M278.7 210.68h2M298.5 210.68h2M276.7 212.64h2M300.5 212.64h2M384 216.58h2M384 228.4h2M276.7 232.34h2M300.5 232.34h2M278.7 234.32h2M298.5 234.32h2M288.6 238.26h2M370.1 238.26h2"/><path stroke="#ff0f00" d="M376.1 208.7h1.9M360.2 210.68h1.9M358.2 212.64h2M274.7 216.58h2M302.5 216.58h2M274.7 228.4h2M302.5 228.4h2M358.2 232.34h2M360.2 234.32h1.9M376.1 236.28h1.9"/><path stroke="#ff1a00" d="M282.6 208.7h2M294.6 208.7h2M364.1 208.7h2M356.2 216.58h2M384 218.56h2M384 226.44h2M356.2 228.4h2M282.6 236.28h2M294.6 236.28h2M364.1 236.28h2"/><path stroke="#ff2400" d="M276.7 214.62h2M382 214.62h2M274.7 218.56h2M302.5 218.56h2M384 220.52h2M384 222.5h2M384 224.46h2M274.7 226.44h2M302.5 226.44h2M276.7 230.38h2M382 230.38h2"/><path stroke="#ff2f00" d="M284.6 208.7h2M292.6 208.7h2M366.1 208.7h2M374.1 208.7h2M280.7 210.68h1.9M296.6 210.68h1.9M378 210.68h2M380 212.64h2M300.5 214.62h2M356.2 218.56h2M274.7 220.52h2M302.5 220.52h2M274.7 222.5h2M274.7 224.46h2M302.5 224.46h2M356.2 226.44h2M300.5 230.38h2M380 232.34h2M280.7 234.32h1.9M296.6 234.32h1.9M378 234.32h2M284.6 236.28h2M292.6 236.28h2M366.1 236.28h2M374.1 236.28h2"/><path stroke="#ff3a00" d="M286.6 208.7h2M290.6 208.7h2M372.1 208.7h2M362.1 210.68h2M278.7 212.64h2M298.5 212.64h2M358.2 214.62h2M356.2 220.52h2M302.5 222.5h2M356.2 224.46h2M358.2 230.38h2M278.7 232.34h2M298.5 232.34h2M362.1 234.32h2M286.6 236.28h2M290.6 236.28h2M372.1 236.28h2"/><path stroke="#ff4500" d="M288.6 208.7h2M368.1 208.7h4M360.2 212.64h1.9M276.7 216.58h2M382 216.58h2M356.2 222.5h2M276.7 228.4h2M382 228.4h2M360.2 232.34h1.9M288.6 236.28h2M368.1 236.28h4"/><path stroke="#ff5000" d="M282.6 210.68h2M376.1 210.68h1.9M300.5 216.58h2M300.5 228.4h2M282.6 234.32h2M376.1 234.32h1.9"/><path stroke="#ff5a00" d="M294.6 210.68h2M364.1 210.68h2M380 214.62h2M358.2 216.58h2M382 218.56h2M382 226.44h2M358.2 228.4h2M380 230.38h2M294.6 234.32h2M364.1 234.32h2"/><path stroke="#ff6500" d="M280.7 212.64h1.9M378 212.64h2M278.7 214.62h2M298.5 214.62h2M276.7 218.56h2M300.5 218.56h2M276.7 226.44h2M300.5 226.44h2M278.7 230.38h2M298.5 230.38h2M280.7 232.34h1.9M378 232.34h2"/><path stroke="#ff7000" d="M284.6 210.68h2M292.6 210.68h2M374.1 210.68h2M296.6 212.64h1.9M362.1 212.64h2M360.2 214.62h1.9M358.2 218.56h2M382 220.52h2M382 222.5h2M382 224.46h2M358.2 226.44h2M360.2 230.38h1.9M296.6 232.34h1.9M362.1 232.34h2M284.6 234.32h2M292.6 234.32h2M374.1 234.32h2"/><path stroke="#ff7b00" d="M366.1 210.68h2M276.7 220.52h2M300.5 220.52h2M276.7 222.5h2M276.7 224.46h2M300.5 224.46h2M366.1 234.32h2"/><path stroke="#ff8600" d="M286.6 210.68h2M290.6 210.68h2M368.1 210.68h2M372.1 210.68h2M380 216.58h2M358.2 220.52h2M300.5 222.5h2M358.2 224.46h2M380 228.4h2M286.6 234.32h2M290.6 234.32h2M368.1 234.32h2M372.1 234.32h2"/><path stroke="#ff9000" d="M288.6 210.68h2M370.1 210.68h2M376.1 212.64h1.9M278.7 216.58h2M298.5 216.58h2M358.2 222.5h2M278.7 228.4h2M298.5 228.4h2M376.1 232.34h1.9M288.6 234.32h2M370.1 234.32h2"/><path stroke="#ff9b00" d="M282.6 212.64h2M294.6 212.64h2M378 214.62h2M360.2 216.58h1.9M360.2 228.4h1.9M378 230.38h2M282.6 232.34h2M294.6 232.34h2"/><path stroke="#ffa600" d="M364.1 212.64h2M280.7 214.62h1.9M296.6 214.62h1.9M380 218.56h2M380 226.44h2M280.7 230.38h1.9M296.6 230.38h1.9M364.1 232.34h2"/><path stroke="#ffb100" d="M362.1 214.62h2M362.1 230.38h2"/><path stroke="#ffbc00" d="M374.1 212.64h2M278.7 218.56h2M298.5 218.56h2M278.7 226.44h2M298.5 226.44h2M374.1 232.34h2"/><path stroke="#ffc600" d="M284.6 212.64h2M292.6 212.64h2M366.1 212.64h2M360.2 218.56h1.9M380 220.52h2M380 224.46h2M360.2 226.44h1.9M284.6 232.34h2M292.6 232.34h2M366.1 232.34h2"/><path stroke="#ffd100" d="M378 216.58h2M278.7 220.52h2M298.5 220.52h2M380 222.5h2M278.7 224.46h2M298.5 224.46h2M378 228.4h2"/><path stroke="#ffdc00" d="M286.6 212.64h2M290.6 212.64h2M372.1 212.64h2M376.1 214.62h1.9M280.7 216.58h1.9M360.2 220.52h1.9M278.7 222.5h2M298.5 222.5h2M360.2 224.46h1.9M280.7 228.4h1.9M376.1 230.38h1.9M286.6 232.34h2M290.6 232.34h2M372.1 232.34h2"/><path stroke="#ffe700" d="M288.6 212.64h2M368.1 212.64h4M282.6 214.62h2M294.6 214.62h2M364.1 214.62h2M296.6 216.58h1.9M362.1 216.58h2M360.2 222.5h1.9M296.6 228.4h1.9M362.1 228.4h2M282.6 230.38h2M294.6 230.38h2M364.1 230.38h2M288.6 232.34h2M368.1 232.34h4"/><path stroke="#fffc00" d="M378 218.56h2M378 226.44h2"/><path stroke="#ffff0c" d="M374.1 214.62h2M280.7 218.56h1.9M296.6 218.56h1.9M280.7 226.44h1.9M296.6 226.44h1.9M374.1 230.38h2"/><path stroke="#ffff1c" d="M284.6 214.62h2M292.6 214.62h2M366.1 214.62h2M376.1 216.58h1.9M362.1 218.56h2M378 220.52h2M378 224.46h2M362.1 226.44h2M376.1 228.4h1.9M284.6 230.38h2M292.6 230.38h2M366.1 230.38h2"/><path stroke="#ffff2d" d="M282.6 216.58h2M294.6 216.58h2M280.7 220.52h1.9M378 222.5h2M280.7 224.46h1.9M282.6 228.4h2M294.6 228.4h2"/><path stroke="#ffff3d" d="M286.6 214.62h2M290.6 214.62h2M368.1 214.62h2M372.1 214.62h2M364.1 216.58h2M296.6 220.52h1.9M362.1 220.52h2M280.7 222.5h1.9M296.6 222.5h1.9M296.6 224.46h1.9M362.1 224.46h2M364.1 228.4h2M286.6 230.38h2M290.6 230.38h2M368.1 230.38h2M372.1 230.38h2"/><path stroke="#ffff4d" d="M288.6 214.62h2M370.1 214.62h2M362.1 222.5h2M288.6 230.38h2M370.1 230.38h2"/><path stroke="#ffff5d" d="M374.1 216.58h2M376.1 218.56h1.9M376.1 226.44h1.9M374.1 228.4h2"/><path stroke="#ffff6d" d="M284.6 216.58h2M292.6 216.58h2M366.1 216.58h2M282.6 218.56h2M294.6 218.56h2M364.1 218.56h2M282.6 226.44h2M294.6 226.44h2M364.1 226.44h2M284.6 228.4h2M292.6 228.4h2M366.1 228.4h2"/><path stroke="#ffff7d" d="M376.1 220.52h1.9M376.1 224.46h1.9"/><path stroke="#ffff8e" d="M286.6 216.58h2M290.6 216.58h2M368.1 216.58h2M372.1 216.58h2M282.6 220.52h2M294.6 220.52h2M282.6 222.5h2M376.1 222.5h1.9M282.6 224.46h2M294.6 224.46h2M286.6 228.4h2M290.6 228.4h2M368.1 228.4h2M372.1 228.4h2"/><path stroke="#ffff9e" d="M288.6 216.58h2M370.1 216.58h2M284.6 218.56h2M374.1 218.56h2M364.1 220.52h2M294.6 222.5h2M364.1 222.5h2M364.1 224.46h2M284.6 226.44h2M374.1 226.44h2M288.6 228.4h2M370.1 228.4h2"/><path stroke="#ffffae" d="M292.6 218.56h2M366.1 218.56h2M292.6 226.44h2M366.1 226.44h2"/><path stroke="#ffffbe" d="M372.1 218.56h2M374.1 220.52h2M374.1 224.46h2M372.1 226.44h2"/><path stroke="#ffffce" d="M286.6 218.56h2M290.6 218.56h2M368.1 218.56h2M284.6 220.52h2M292.6 220.52h2M366.1 220.52h2M284.6 222.5h2M292.6 222.5h2M374.1 222.5h2M284.6 224.46h2M292.6 224.46h2M366.1 224.46h2M286.6 226.44h2M290.6 226.44h2M368.1 226.44h2"/><path stroke="#ffffdf" d="M288.6 218.56h2M370.1 218.56h2M366.1 222.5h2M288.6 226.44h2M370.1 226.44h2"/><path stroke="#ffffef" d="M286.6 220.52h6M368.1 220.52h6M286.6 222.5h2M290.6 222.5h2M372.1 222.5h2M286.6 224.46h6M368.1 224.46h6"/><path stroke="#ffffff" d="M288.6 222.5h2M368.1 222.5h4"/></g></g></g><text x="252.50" y="200.74" font-size="9" text-anchor="end" fill="#262626">5</text><text x="252.50" y="229.24" font-size="9" text-anchor="end" fill="#262626">0</text><text x="252.50" y="257.24" font-size="9" text-anchor="end" fill="#262626">-5</text><text x="257.20" y="267.00" font-size="8.8" text-anchor="middle" fill="#262626">-12.6</text><text x="292.30" y="267.00" font-size="8.8" text-anchor="middle" fill="#262626">-6.3</text><text x="329.80" y="267.00" font-size="8.8" text-anchor="middle" fill="#262626">0</text><text x="362.80" y="267.00" font-size="8.8" text-anchor="middle" fill="#262626">6.3</text><text x="399.70" y="267.00" font-size="8.8" text-anchor="middle" fill="#262626">12.6</text><text x="329.00" y="279.50" font-size="10" text-anchor="middle" fill="#262626">x (mm)</text><text x="243.00" y="225.50" font-size="10" text-anchor="middle" fill="#262626" transform="rotate(-90 243.00 225.50)">y (mm)</text><defs><linearGradient id="cb105" x1="0" y1="1" x2="0" y2="0"><stop offset="0" stop-color="#000"/><stop offset="0.375" stop-color="#f00"/><stop offset="0.75" stop-color="#ff0"/><stop offset="1" stop-color="#fff"/></linearGradient></defs><rect x="415.10" y="196.20" width="8.10" height="58.80" fill="url(#cb105)" stroke="#a0a0a0" stroke-width="0.5"/><text x="425.50" y="198.90" font-size="7.5" text-anchor="start" fill="#262626">1</text><text x="425.50" y="210.66" font-size="7.5" text-anchor="start" fill="#262626">0.8</text><text x="425.50" y="222.42" font-size="7.5" text-anchor="start" fill="#262626">0.6</text><text x="425.50" y="234.18" font-size="7.5" text-anchor="start" fill="#262626">0.4</text><text x="425.50" y="245.94" font-size="7.5" text-anchor="start" fill="#262626">0.2</text><text x="425.50" y="257.70" font-size="7.5" text-anchor="start" fill="#262626">0</text><text x="445.00" y="225.50" font-size="7.8" text-anchor="middle" fill="#262626" transform="rotate(-90 445.00 225.50)">Normalized pressure</text><text x="560.80" y="195.00" font-size="9.7" font-weight="bold" text-anchor="middle" fill="#000">Experimental pressure map</text><defs><clipPath id="hc115"><rect x="464.30" y="208.90" width="188.70" height="26.50"/></clipPath><filter id="hf115" x="-5%" y="-10%" width="110%" height="120%"><feGaussianBlur stdDeviation="0.9"/></filter></defs><g clip-path="url(#hc115)"><g filter="url(#hf115)"><g fill="none" stroke-width="1.532" shape-rendering="crispEdges"><rect x="461.30" y="205.90" width="194.69" height="32.49" fill="#000" stroke="none"/><path stroke="#0b0000" d="M462.8 206.69h3M501.7 206.69h3M513.7 206.69h1.5M516.7 206.69h1.5M534.7 206.69h3M600.6 206.69h1.5M614.1 206.69h1.5M651.5 206.69h1.5M461.3 208.16h3M503.2 208.16h3M516.7 208.16h1.5M534.7 208.16h3M600.6 208.16h1.5M603.6 208.16h1.5M612.6 208.16h1.5M653 208.16h1.5M461.3 209.64h3M503.2 209.64h3M515.2 209.64h3M534.7 209.64h3M461.3 211.11h1.5M504.7 211.11h1.5M515.2 211.11h1.5M534.7 211.11h3M599.1 211.11h1.5M602.1 211.11h1.5M611.1 211.11h1.5M654.5 211.11h1.5M461.3 212.58h1.5M504.7 212.58h3M518.2 212.58h1.5M534.7 212.58h3M599.1 212.58h1.5M602.1 212.58h1.5M504.7 214.05h3M516.7 214.05h3M536.2 214.05h3M599.1 214.05h1.5M602.1 214.05h1.5M506.2 215.52h1.5M516.7 215.52h3M536.2 215.52h3M506.2 217h1.5M516.7 217h3M536.2 217h3M506.2 218.47h3M516.7 218.47h3M536.2 218.47h3M600.6 218.47h1.5M506.2 219.94h3M516.7 219.94h3M536.2 219.94h3M597.6 219.94h1.5M600.6 219.94h1.5M506.2 221.41h3M516.7 221.41h3M536.2 221.41h3M597.6 221.41h1.5M600.6 221.41h1.5M506.2 222.89h3M516.7 222.89h3M536.2 222.89h3M597.6 222.89h1.5M600.6 222.89h1.5M506.2 224.36h3M516.7 224.36h3M536.2 224.36h3M597.6 224.36h1.5M600.6 224.36h1.5M506.2 225.83h3M516.7 225.83h3M536.2 225.83h3M600.6 225.83h1.5M506.2 227.3h1.5M516.7 227.3h3M536.2 227.3h3M473.3 228.78h1.5M494.3 228.78h1.5M506.2 228.78h1.5M516.7 228.78h3M536.2 228.78h3M621.6 228.78h1.4M644 228.78h1.5M471.8 230.25h1.5M477.8 230.25h3M488.3 230.25h3M504.7 230.25h3M516.7 230.25h3M536.2 230.25h3M599.1 230.25h1.5M602.1 230.25h1.5M621.6 230.25h1.4M626 230.25h3M636.5 230.25h3M644 230.25h1.5M461.3 231.72h1.5M473.3 231.72h1.5M492.8 231.72h1.5M504.7 231.72h3M518.2 231.72h1.5M534.7 231.72h3M599.1 231.72h1.5M602.1 231.72h1.5M623 231.72h1.5M642.5 231.72h1.5M461.3 233.19h1.5M474.8 233.19h1.5M491.3 233.19h1.5M504.7 233.19h1.5M515.2 233.19h1.5M534.7 233.19h3M599.1 233.19h1.5M602.1 233.19h1.5M611.1 233.19h1.5M624.5 233.19h1.5M654.5 233.19h1.5M461.3 234.66h3M476.3 234.66h1.5M489.8 234.66h1.5M503.2 234.66h3M515.2 234.66h3M534.7 234.66h3M626 234.66h1.5M639.5 234.66h1.5M461.3 236.14h3M479.3 236.14h9M503.2 236.14h3M516.7 236.14h1.5M534.7 236.14h3M600.6 236.14h1.5M603.6 236.14h1.5M612.6 236.14h1.5M627.5 236.14h4.5M636.5 236.14h3M653 236.14h1.5M462.8 237.61h3M501.7 237.61h3M513.7 237.61h1.5M516.7 237.61h1.5M534.7 237.61h3M600.6 237.61h1.5M614.1 237.61h1.5M651.5 237.61h1.5"/><path stroke="#160000" d="M461.3 206.69h1.5M465.8 206.69h1.5M482.3 206.69h3M500.2 206.69h1.5M504.7 206.69h1.5M533.2 206.69h1.5M605.1 206.69h1.5M612.6 206.69h1.5M615.6 206.69h1.5M629 206.69h9M650 206.69h1.5M653 206.69h1.5M464.3 208.16h1.5M501.7 208.16h1.5M513.7 208.16h1.5M533.2 208.16h1.5M537.7 208.16h1.5M614.1 208.16h1.5M651.5 208.16h1.5M654.5 208.16h1.5M506.2 209.64h1.5M518.2 209.64h1.5M533.2 209.64h1.5M537.7 209.64h1.5M599.1 209.64h1.5M603.6 209.64h1.5M611.1 209.64h4.5M651.5 209.64h4.5M462.8 211.11h1.5M503.2 211.11h1.5M506.2 211.11h1.5M518.2 211.11h1.5M537.7 211.11h1.5M603.6 211.11h1.5M612.6 211.11h1.5M653 211.11h1.5M515.2 212.58h1.5M537.7 212.58h1.5M609.6 212.58h4.5M653 212.58h3M461.3 214.05h1.5M507.7 214.05h1.5M534.7 214.05h1.5M609.6 214.05h3M654.5 214.05h1.5M461.3 215.52h1.5M504.7 215.52h1.5M507.7 215.52h1.5M534.7 215.52h1.5M597.6 215.52h1.5M602.1 215.52h1.5M609.6 215.52h3M654.5 215.52h1.5M504.7 217h1.5M507.7 217h1.5M519.7 217h1.5M534.7 217h1.5M597.6 217h1.5M602.1 217h1.5M609.6 217h3M654.5 217h1.5M519.7 218.47h1.5M534.7 218.47h1.5M597.6 218.47h1.5M609.6 218.47h3M519.7 219.94h1.5M534.7 219.94h1.5M608.1 219.94h3M519.7 221.41h1.5M534.7 221.41h1.5M608.1 221.41h3M519.7 222.89h1.5M534.7 222.89h1.5M608.1 222.89h3M519.7 224.36h1.5M534.7 224.36h1.5M608.1 224.36h3M519.7 225.83h1.5M534.7 225.83h1.5M597.6 225.83h1.5M609.6 225.83h3M470.3 227.3h1.5M504.7 227.3h1.5M507.7 227.3h1.5M519.7 227.3h1.5M534.7 227.3h1.5M597.6 227.3h1.5M602.1 227.3h1.5M609.6 227.3h3M620.1 227.3h1.5M645.5 227.3h1.5M654.5 227.3h1.5M461.3 228.78h1.5M470.3 228.78h1.5M474.8 228.78h1.5M492.8 228.78h1.5M504.7 228.78h1.5M507.7 228.78h1.5M534.7 228.78h1.5M597.6 228.78h1.5M602.1 228.78h1.5M609.6 228.78h3M620.1 228.78h1.5M623 228.78h1.5M642.5 228.78h1.5M645.5 228.78h1.5M654.5 228.78h1.5M461.3 230.25h1.5M480.8 230.25h7.5M494.3 230.25h1.5M507.7 230.25h1.5M534.7 230.25h1.5M609.6 230.25h3M629 230.25h7.5M645.5 230.25h1.5M654.5 230.25h1.5M515.2 231.72h1.5M537.7 231.72h1.5M609.6 231.72h4.5M621.6 231.72h1.4M644 231.72h1.5M653 231.72h3M462.8 233.19h1.5M473.3 233.19h1.5M492.8 233.19h1.5M503.2 233.19h1.5M506.2 233.19h1.5M518.2 233.19h1.5M537.7 233.19h1.5M603.6 233.19h1.5M612.6 233.19h1.5M623 233.19h1.5M642.5 233.19h1.5M653 233.19h1.5M474.8 234.66h1.5M506.2 234.66h1.5M518.2 234.66h1.5M533.2 234.66h1.5M537.7 234.66h1.5M599.1 234.66h1.5M603.6 234.66h1.5M611.1 234.66h4.5M624.5 234.66h1.5M641 234.66h1.5M651.5 234.66h4.5M464.3 236.14h1.5M477.8 236.14h1.5M488.3 236.14h1.5M501.7 236.14h1.5M513.7 236.14h1.5M533.2 236.14h1.5M537.7 236.14h1.5M614.1 236.14h1.5M626 236.14h1.5M639.5 236.14h1.5M651.5 236.14h1.5M654.5 236.14h1.5M461.3 237.61h1.5M465.8 237.61h1.5M482.3 237.61h3M500.2 237.61h1.5M504.7 237.61h1.5M533.2 237.61h1.5M605.1 237.61h1.5M612.6 237.61h1.5M615.6 237.61h1.5M629 237.61h9M650 237.61h1.5M653 237.61h1.5"/><path stroke="#200000" d="M479.3 206.69h3M485.3 206.69h3M537.7 206.69h1.5M581.1 206.69h1.5M617.1 206.69h1.5M627.5 206.69h1.5M638 206.69h1.5M648.5 206.69h1.5M476.3 208.16h1.5M518.2 208.16h1.5M581.1 208.16h1.5M599.1 208.16h1.5M605.1 208.16h1.5M611.1 208.16h1.5M615.6 208.16h1.5M624.5 208.16h3M639.5 208.16h3M650 208.16h1.5M464.3 209.64h1.5M501.7 209.64h1.5M513.7 209.64h1.5M579.6 209.64h3M615.6 209.64h1.5M533.2 211.11h1.5M579.6 211.11h1.5M609.6 211.11h1.5M614.1 211.11h1.5M651.5 211.11h1.5M462.8 212.58h1.5M503.2 212.58h1.5M507.7 212.58h1.5M579.6 212.58h1.5M597.6 212.58h1.5M603.6 212.58h1.5M614.1 212.58h1.5M515.2 214.05h1.5M519.7 214.05h1.5M539.2 214.05h1.5M579.6 214.05h1.5M597.6 214.05h1.5M612.6 214.05h1.5M653 214.05h1.5M519.7 215.52h1.5M539.2 215.52h1.5M579.6 215.52h1.5M612.6 215.52h1.5M653 215.52h1.5M461.3 217h1.5M539.2 217h1.5M608.1 217h1.5M461.3 218.47h1.5M504.7 218.47h1.5M539.2 218.47h1.5M602.1 218.47h1.5M608.1 218.47h1.5M654.5 218.47h1.5M504.7 219.94h1.5M539.2 219.94h1.5M602.1 219.94h1.5M611.1 219.94h1.5M654.5 219.94h1.5M504.7 221.41h1.5M539.2 221.41h1.5M602.1 221.41h1.5M611.1 221.41h1.5M654.5 221.41h1.5M504.7 222.89h1.5M539.2 222.89h1.5M602.1 222.89h1.5M611.1 222.89h1.5M654.5 222.89h1.5M504.7 224.36h1.5M539.2 224.36h1.5M602.1 224.36h1.5M611.1 224.36h1.5M654.5 224.36h1.5M461.3 225.83h1.5M504.7 225.83h1.5M539.2 225.83h1.5M602.1 225.83h1.5M608.1 225.83h1.5M618.6 225.83h1.5M654.5 225.83h1.5M461.3 227.3h1.5M495.8 227.3h1.4M539.2 227.3h1.5M608.1 227.3h1.5M618.6 227.3h1.5M647 227.3h1.5M495.8 228.78h1.4M519.7 228.78h1.5M539.2 228.78h1.5M579.6 228.78h1.5M612.6 228.78h1.5M641 228.78h1.5M653 228.78h1.5M515.2 230.25h1.5M519.7 230.25h1.5M539.2 230.25h1.5M579.6 230.25h1.5M597.6 230.25h1.5M612.6 230.25h1.5M620.1 230.25h1.5M653 230.25h1.5M462.8 231.72h1.5M471.8 231.72h1.5M494.3 231.72h1.5M503.2 231.72h1.5M507.7 231.72h1.5M579.6 231.72h1.5M597.6 231.72h1.5M603.6 231.72h1.5M614.1 231.72h1.5M533.2 233.19h1.5M579.6 233.19h1.5M609.6 233.19h1.5M614.1 233.19h1.5M621.6 233.19h1.4M644 233.19h1.5M651.5 233.19h1.5M464.3 234.66h1.5M491.3 234.66h1.5M501.7 234.66h1.5M513.7 234.66h1.5M579.6 234.66h3M615.6 234.66h1.5M623 234.66h1.5M642.5 234.66h1.5M476.3 236.14h1.5M489.8 236.14h1.5M518.2 236.14h1.5M581.1 236.14h1.5M599.1 236.14h1.5M605.1 236.14h1.5M611.1 236.14h1.5M615.6 236.14h1.5M624.5 236.14h1.5M641 236.14h1.5M650 236.14h1.5M479.3 237.61h3M485.3 237.61h3M537.7 237.61h1.5M581.1 237.61h1.5M617.1 237.61h1.5M627.5 237.61h1.5M638 237.61h1.5M648.5 237.61h1.5"/><path stroke="#2b0000" d="M467.3 206.69h1.5M477.8 206.69h1.5M488.3 206.69h1.5M498.7 206.69h1.5M512.2 206.69h1.5M518.2 206.69h1.5M531.7 206.69h1.5M579.6 206.69h1.5M582.6 206.69h1.5M599.1 206.69h1.5M618.6 206.69h1.5M626 206.69h1.5M639.5 206.69h1.5M647 206.69h1.5M654.5 206.69h1.5M465.8 208.16h1.5M474.8 208.16h1.5M477.8 208.16h1.5M489.8 208.16h1.5M500.2 208.16h1.5M506.2 208.16h1.5M579.6 208.16h1.5M617.1 208.16h1.5M638 208.16h1.5M642.5 208.16h1.5M648.5 208.16h1.5M473.3 209.64h1.5M539.2 209.64h1.5M605.1 209.64h1.5M644 209.64h1.5M650 209.64h1.5M464.3 211.11h1.5M501.7 211.11h1.5M507.7 211.11h1.5M519.7 211.11h1.5M539.2 211.11h1.5M581.1 211.11h1.5M597.6 211.11h1.5M615.6 211.11h1.5M650 211.11h1.5M519.7 212.58h1.5M533.2 212.58h1.5M539.2 212.58h1.5M581.1 212.58h1.5M651.5 212.58h1.5M462.8 214.05h1.5M503.2 214.05h1.5M533.2 214.05h1.5M578.1 214.05h1.5M581.1 214.05h1.5M603.6 214.05h1.5M614.1 214.05h1.5M651.5 214.05h1.5M503.2 215.52h1.5M515.2 215.52h1.5M578.1 215.52h1.5M608.1 215.52h1.5M509.2 217h1.5M578.1 217h3M612.6 217h1.5M653 217h1.5M509.2 218.47h1.5M578.1 218.47h3M612.6 218.47h1.5M653 218.47h1.5M461.3 219.94h1.5M509.2 219.94h1.5M578.1 219.94h3M612.6 219.94h1.5M653 219.94h1.5M461.3 221.41h1.5M509.2 221.41h1.5M578.1 221.41h3M612.6 221.41h1.5M461.3 222.89h1.5M509.2 222.89h1.5M578.1 222.89h3M612.6 222.89h1.5M461.3 224.36h1.5M509.2 224.36h1.5M578.1 224.36h3M612.6 224.36h1.5M653 224.36h1.5M468.8 225.83h1.5M497.2 225.83h1.5M509.2 225.83h1.5M578.1 225.83h3M612.6 225.83h1.5M647 225.83h1.5M653 225.83h1.5M468.8 227.3h1.5M471.8 227.3h1.5M509.2 227.3h1.5M578.1 227.3h3M612.6 227.3h1.5M653 227.3h1.5M476.3 228.78h1.5M491.3 228.78h1.5M503.2 228.78h1.5M515.2 228.78h1.5M578.1 228.78h1.5M608.1 228.78h1.5M618.6 228.78h1.5M624.5 228.78h1.5M647 228.78h1.5M462.8 230.25h1.5M470.3 230.25h1.5M495.8 230.25h1.4M503.2 230.25h1.5M533.2 230.25h1.5M578.1 230.25h1.5M581.1 230.25h1.5M603.6 230.25h1.5M614.1 230.25h1.5M651.5 230.25h1.5M519.7 231.72h1.5M533.2 231.72h1.5M539.2 231.72h1.5M581.1 231.72h1.5M620.1 231.72h1.5M645.5 231.72h1.5M651.5 231.72h1.5M464.3 233.19h1.5M471.8 233.19h1.5M501.7 233.19h1.5M507.7 233.19h1.5M519.7 233.19h1.5M539.2 233.19h1.5M581.1 233.19h1.5M597.6 233.19h1.5M615.6 233.19h1.5M650 233.19h1.5M473.3 234.66h1.5M492.8 234.66h1.5M539.2 234.66h1.5M605.1 234.66h1.5M644 234.66h1.5M650 234.66h1.5M465.8 236.14h1.5M474.8 236.14h1.5M500.2 236.14h1.5M506.2 236.14h1.5M579.6 236.14h1.5M617.1 236.14h1.5M642.5 236.14h1.5M648.5 236.14h1.5M467.3 237.61h1.5M477.8 237.61h1.5M488.3 237.61h1.5M498.7 237.61h1.5M512.2 237.61h1.5M518.2 237.61h1.5M531.7 237.61h1.5M579.6 237.61h1.5M582.6 237.61h1.5M599.1 237.61h1.5M618.6 237.61h1.5M626 237.61h1.5M639.5 237.61h1.5M647 237.61h1.5M654.5 237.61h1.5"/><path stroke="#360000" d="M468.8 206.69h1.5M476.3 206.69h1.5M489.8 206.69h1.5M497.2 206.69h1.5M506.2 206.69h1.5M606.6 206.69h1.5M611.1 206.69h1.5M620.1 206.69h1.5M624.5 206.69h1.5M641 206.69h1.5M645.5 206.69h1.5M467.3 208.16h1.5M479.3 208.16h1.5M491.3 208.16h1.5M498.7 208.16h1.5M531.7 208.16h1.5M539.2 208.16h1.5M582.6 208.16h1.5M618.6 208.16h1.5M623 208.16h1.5M627.5 208.16h1.5M647 208.16h1.5M465.8 209.64h1.5M500.2 209.64h1.5M507.7 209.64h1.5M519.7 209.64h1.5M578.1 209.64h1.5M582.6 209.64h1.5M597.6 209.64h1.5M609.6 209.64h1.5M617.1 209.64h1.5M621.6 209.64h1.4M642.5 209.64h1.5M648.5 209.64h1.5M513.7 211.11h1.5M578.1 211.11h1.5M617.1 211.11h1.5M620.1 211.11h1.5M464.3 212.58h1.5M501.7 212.58h1.5M578.1 212.58h1.5M615.6 212.58h1.5M650 212.58h1.5M608.1 214.05h1.5M462.8 215.52h1.5M509.2 215.52h1.5M533.2 215.52h1.5M581.1 215.52h1.5M603.6 215.52h1.5M614.1 215.52h1.5M651.5 215.52h1.5M462.8 217h1.5M503.2 217h1.5M515.2 217h1.5M533.2 217h1.5M581.1 217h1.5M596.1 217h1.5M614.1 217h1.5M651.5 217h1.5M503.2 218.47h1.5M515.2 218.47h1.5M581.1 218.47h1.5M596.1 218.47h1.5M581.1 219.94h1.5M596.1 219.94h1.5M521.2 221.41h1.5M581.1 221.41h1.5M596.1 221.41h1.5M653 221.41h1.5M521.2 222.89h1.5M581.1 222.89h1.5M596.1 222.89h1.5M653 222.89h1.5M581.1 224.36h1.5M596.1 224.36h1.5M617.1 224.36h1.5M648.5 224.36h1.5M503.2 225.83h1.5M515.2 225.83h1.5M581.1 225.83h1.5M596.1 225.83h1.5M617.1 225.83h1.5M648.5 225.83h1.5M462.8 227.3h1.5M497.2 227.3h1.5M503.2 227.3h1.5M515.2 227.3h1.5M533.2 227.3h1.5M581.1 227.3h1.5M596.1 227.3h1.5M614.1 227.3h1.5M621.6 227.3h1.4M644 227.3h1.5M648.5 227.3h1.5M651.5 227.3h1.5M462.8 228.78h1.5M468.8 228.78h1.5M509.2 228.78h1.5M533.2 228.78h1.5M581.1 228.78h1.5M603.6 228.78h1.5M614.1 228.78h1.5M639.5 228.78h1.5M651.5 228.78h1.5M608.1 230.25h1.5M618.6 230.25h1.5M647 230.25h1.5M464.3 231.72h1.5M470.3 231.72h1.5M495.8 231.72h1.4M501.7 231.72h1.5M578.1 231.72h1.5M615.6 231.72h1.5M650 231.72h1.5M494.3 233.19h1.5M513.7 233.19h1.5M578.1 233.19h1.5M617.1 233.19h1.5M620.1 233.19h1.5M645.5 233.19h1.5M465.8 234.66h1.5M500.2 234.66h1.5M507.7 234.66h1.5M519.7 234.66h1.5M578.1 234.66h1.5M582.6 234.66h1.5M597.6 234.66h1.5M609.6 234.66h1.5M617.1 234.66h1.5M621.6 234.66h1.4M648.5 234.66h1.5M467.3 236.14h1.5M491.3 236.14h1.5M498.7 236.14h1.5M531.7 236.14h1.5M539.2 236.14h1.5M582.6 236.14h1.5M618.6 236.14h1.5M623 236.14h1.5M647 236.14h1.5M468.8 237.61h1.5M476.3 237.61h1.5M489.8 237.61h1.5M497.2 237.61h1.5M506.2 237.61h1.5M606.6 237.61h1.5M611.1 237.61h1.5M620.1 237.61h1.5M624.5 237.61h1.5M641 237.61h1.5M645.5 237.61h1.5"/><path stroke="#410000" d="M470.3 206.69h1.5M495.8 206.69h1.4M539.2 206.69h1.5M555.7 206.69h8.9M578.1 206.69h1.5M584.1 206.69h1.5M621.6 206.69h2.9M642.5 206.69h3M468.8 208.16h1.5M473.3 208.16h1.5M488.3 208.16h1.5M492.8 208.16h1.5M497.2 208.16h1.5M512.2 208.16h1.5M555.7 208.16h8.9M578.1 208.16h1.5M597.6 208.16h1.5M606.6 208.16h1.5M609.6 208.16h1.5M620.1 208.16h2.9M636.5 208.16h1.5M644 208.16h3M467.3 209.64h1.5M471.8 209.64h1.5M494.3 209.64h1.5M498.7 209.64h1.5M531.7 209.64h1.5M557.2 209.64h7.4M618.6 209.64h3M623 209.64h1.5M645.5 209.64h3M465.8 211.11h1.5M500.2 211.11h1.5M557.2 211.11h7.4M582.6 211.11h1.5M605.1 211.11h1.5M618.6 211.11h1.5M645.5 211.11h4.5M465.8 212.58h1.5M500.2 212.58h1.5M557.2 212.58h5.9M582.6 212.58h1.5M608.1 212.58h1.5M617.1 212.58h1.5M648.5 212.58h1.5M464.3 214.05h1.5M501.7 214.05h1.5M509.2 214.05h1.5M560.1 214.05h3M615.6 214.05h3M650 214.05h1.5M464.3 215.52h1.5M501.7 215.52h1.5M560.1 215.52h3M596.1 215.52h1.5M615.6 215.52h1.5M650 215.52h1.5M521.2 217h1.5M540.7 217h1.5M561.6 217h1.5M603.6 217h1.5M615.6 217h1.5M462.8 218.47h1.5M521.2 218.47h1.5M533.2 218.47h1.5M540.7 218.47h1.5M603.6 218.47h1.5M614.1 218.47h1.5M651.5 218.47h1.5M462.8 219.94h1.5M503.2 219.94h1.5M515.2 219.94h1.5M521.2 219.94h1.5M533.2 219.94h1.5M540.7 219.94h1.5M614.1 219.94h1.5M651.5 219.94h1.5M462.8 221.41h1.5M503.2 221.41h1.5M515.2 221.41h1.5M533.2 221.41h1.5M540.7 221.41h1.5M606.6 221.41h1.5M614.1 221.41h1.5M651.5 221.41h1.5M462.8 222.89h1.5M503.2 222.89h1.5M515.2 222.89h1.5M533.2 222.89h1.5M540.7 222.89h1.5M606.6 222.89h1.5M614.1 222.89h1.5M651.5 222.89h1.5M462.8 224.36h1.5M467.3 224.36h1.5M503.2 224.36h1.5M515.2 224.36h1.5M521.2 224.36h1.5M533.2 224.36h1.5M540.7 224.36h1.5M614.1 224.36h1.5M651.5 224.36h1.5M462.8 225.83h1.5M521.2 225.83h1.5M533.2 225.83h1.5M540.7 225.83h1.5M603.6 225.83h1.5M614.1 225.83h1.5M651.5 225.83h1.5M494.3 227.3h1.5M521.2 227.3h1.5M540.7 227.3h1.5M561.6 227.3h1.5M603.6 227.3h1.5M615.6 227.3h3M650 227.3h1.5M464.3 228.78h1.5M477.8 228.78h1.5M497.2 228.78h1.5M501.7 228.78h1.5M560.1 228.78h3M596.1 228.78h1.5M615.6 228.78h1.5M626 228.78h1.5M648.5 228.78h3M464.3 230.25h1.5M468.8 230.25h1.5M501.7 230.25h1.5M509.2 230.25h1.5M560.1 230.25h3M615.6 230.25h3M648.5 230.25h3M465.8 231.72h1.5M500.2 231.72h1.5M557.2 231.72h5.9M582.6 231.72h1.5M608.1 231.72h1.5M617.1 231.72h3M647 231.72h3M465.8 233.19h1.5M500.2 233.19h1.5M557.2 233.19h7.4M582.6 233.19h1.5M605.1 233.19h1.5M618.6 233.19h1.5M647 233.19h3M467.3 234.66h1.5M471.8 234.66h1.5M494.3 234.66h1.5M498.7 234.66h1.5M531.7 234.66h1.5M557.2 234.66h7.4M618.6 234.66h3M645.5 234.66h3M468.8 236.14h1.5M473.3 236.14h1.5M492.8 236.14h1.5M497.2 236.14h1.5M512.2 236.14h1.5M555.7 236.14h8.9M578.1 236.14h1.5M597.6 236.14h1.5M606.6 236.14h1.5M609.6 236.14h1.5M620.1 236.14h2.9M644 236.14h3M470.3 237.61h1.5M495.8 237.61h1.4M539.2 237.61h1.5M555.7 237.61h8.9M578.1 237.61h1.5M584.1 237.61h1.5M621.6 237.61h2.9M642.5 237.61h3"/><path stroke="#4c0000" d="M471.8 206.69h1.5M474.8 206.69h1.5M491.3 206.69h1.5M494.3 206.69h1.5M552.7 206.69h3M564.6 206.69h1.5M608.1 206.69h1.5M470.3 208.16h1.5M480.8 208.16h1.5M486.8 208.16h1.5M495.8 208.16h1.4M507.7 208.16h1.5M519.7 208.16h1.5M552.7 208.16h3M584.1 208.16h1.5M629 208.16h1.5M635 208.16h1.5M468.8 209.64h1.5M492.8 209.64h1.5M497.2 209.64h1.5M552.7 209.64h4.5M606.6 209.64h1.5M467.3 211.11h1.5M470.3 211.11h1.5M495.8 211.11h1.4M498.7 211.11h1.5M531.7 211.11h1.5M554.2 211.11h3M608.1 211.11h1.5M498.7 212.58h1.5M509.2 212.58h1.5M513.7 212.58h1.5M540.7 212.58h1.5M554.2 212.58h3M563.1 212.58h1.5M605.1 212.58h1.5M618.6 212.58h1.5M465.8 214.05h1.5M500.2 214.05h1.5M521.2 214.05h1.5M540.7 214.05h1.5M554.2 214.05h5.9M563.1 214.05h1.5M576.6 214.05h1.5M582.6 214.05h1.5M596.1 214.05h1.5M500.2 215.52h1.5M521.2 215.52h1.5M540.7 215.52h1.5M555.7 215.52h4.4M563.1 215.52h1.5M576.6 215.52h1.5M582.6 215.52h1.5M464.3 217h1.5M501.7 217h1.5M555.7 217h5.9M576.6 217h1.5M606.6 217h1.5M464.3 218.47h1.5M501.7 218.47h1.5M555.7 218.47h7.4M576.6 218.47h1.5M606.6 218.47h1.5M615.6 218.47h1.5M464.3 219.94h1.5M501.7 219.94h1.5M557.2 219.94h5.9M576.6 219.94h1.5M603.6 219.94h1.5M606.6 219.94h1.5M615.6 219.94h1.5M501.7 221.41h1.5M557.2 221.41h5.9M576.6 221.41h1.5M603.6 221.41h1.5M615.6 221.41h1.5M650 221.41h1.5M467.3 222.89h1.5M501.7 222.89h1.5M557.2 222.89h5.9M576.6 222.89h1.5M603.6 222.89h1.5M615.6 222.89h3M650 222.89h1.5M464.3 224.36h1.5M498.7 224.36h1.5M501.7 224.36h1.5M557.2 224.36h5.9M576.6 224.36h1.5M603.6 224.36h1.5M606.6 224.36h1.5M615.6 224.36h1.5M650 224.36h1.5M464.3 225.83h1.5M467.3 225.83h1.5M470.3 225.83h1.5M498.7 225.83h1.5M501.7 225.83h1.5M555.7 225.83h7.4M576.6 225.83h1.5M606.6 225.83h1.5M615.6 225.83h1.5M650 225.83h1.5M464.3 227.3h1.5M467.3 227.3h1.5M473.3 227.3h1.5M501.7 227.3h1.5M555.7 227.3h5.9M576.6 227.3h1.5M606.6 227.3h1.5M489.8 228.78h1.5M500.2 228.78h1.5M521.2 228.78h1.5M540.7 228.78h1.5M555.7 228.78h4.4M563.1 228.78h1.5M576.6 228.78h1.5M582.6 228.78h1.5M617.1 228.78h1.5M638 228.78h1.5M465.8 230.25h1.5M497.2 230.25h1.5M500.2 230.25h1.5M521.2 230.25h1.5M540.7 230.25h1.5M554.2 230.25h5.9M563.1 230.25h1.5M576.6 230.25h1.5M582.6 230.25h1.5M596.1 230.25h1.5M498.7 231.72h1.5M509.2 231.72h1.5M513.7 231.72h1.5M540.7 231.72h1.5M554.2 231.72h3M563.1 231.72h1.5M605.1 231.72h1.5M467.3 233.19h1.5M470.3 233.19h1.5M495.8 233.19h1.4M498.7 233.19h1.5M531.7 233.19h1.5M554.2 233.19h3M608.1 233.19h1.5M468.8 234.66h1.5M497.2 234.66h1.5M552.7 234.66h4.5M606.6 234.66h1.5M470.3 236.14h1.5M495.8 236.14h1.4M507.7 236.14h1.5M519.7 236.14h1.5M552.7 236.14h3M584.1 236.14h1.5M471.8 237.61h1.5M474.8 237.61h1.5M491.3 237.61h1.5M494.3 237.61h1.5M552.7 237.61h3M564.6 237.61h1.5M608.1 237.61h1.5"/><path stroke="#560000" d="M473.3 206.69h1.5M492.8 206.69h1.5M507.7 206.69h1.5M519.7 206.69h1.5M530.2 206.69h1.5M597.6 206.69h1.5M609.6 206.69h1.5M471.8 208.16h1.5M482.3 208.16h4.5M494.3 208.16h1.5M564.6 208.16h1.5M608.1 208.16h1.5M630.5 208.16h4.5M470.3 209.64h1.5M474.8 209.64h1.5M495.8 209.64h1.4M512.2 209.64h1.5M540.7 209.64h1.5M564.6 209.64h1.5M584.1 209.64h1.5M608.1 209.64h1.5M468.8 211.11h1.5M497.2 211.11h1.5M509.2 211.11h1.5M540.7 211.11h1.5M552.7 211.11h1.5M576.6 211.11h1.5M606.6 211.11h1.5M467.3 212.58h3M521.2 212.58h1.5M531.7 212.58h1.5M552.7 212.58h1.5M576.6 212.58h1.5M596.1 212.58h1.5M606.6 212.58h1.5M647 212.58h1.5M467.3 214.05h1.5M498.7 214.05h1.5M513.7 214.05h1.5M605.1 214.05h3M648.5 214.05h1.5M465.8 215.52h1.5M554.2 215.52h1.5M605.1 215.52h3M465.8 217h1.5M500.2 217h1.5M510.7 217h1.5M554.2 217h1.5M563.1 217h1.5M582.6 217h1.5M465.8 218.47h1.5M510.7 218.47h1.5M554.2 218.47h1.5M563.1 218.47h1.5M582.6 218.47h1.5M510.7 219.94h1.5M554.2 219.94h3M563.1 219.94h1.5M464.3 221.41h1.5M510.7 221.41h1.5M554.2 221.41h3M563.1 221.41h1.5M464.3 222.89h1.5M510.7 222.89h1.5M554.2 222.89h3M563.1 222.89h1.5M468.8 224.36h1.5M510.7 224.36h1.5M554.2 224.36h3M563.1 224.36h1.5M465.8 225.83h1.5M500.2 225.83h1.5M510.7 225.83h1.5M554.2 225.83h1.5M563.1 225.83h1.5M582.6 225.83h1.5M620.1 225.83h1.5M645.5 225.83h1.5M465.8 227.3h1.5M498.7 227.3h3M510.7 227.3h1.5M554.2 227.3h1.5M563.1 227.3h1.5M582.6 227.3h1.5M642.5 227.3h1.5M465.8 228.78h3M479.3 228.78h1.5M554.2 228.78h1.5M605.1 228.78h3M627.5 228.78h1.5M467.3 230.25h1.5M498.7 230.25h1.5M513.7 230.25h1.5M605.1 230.25h3M467.3 231.72h3M497.2 231.72h1.5M521.2 231.72h1.5M531.7 231.72h1.5M552.7 231.72h1.5M576.6 231.72h1.5M596.1 231.72h1.5M606.6 231.72h1.5M468.8 233.19h1.5M497.2 233.19h1.5M509.2 233.19h1.5M540.7 233.19h1.5M552.7 233.19h1.5M576.6 233.19h1.5M606.6 233.19h1.5M470.3 234.66h1.5M495.8 234.66h1.4M512.2 234.66h1.5M540.7 234.66h1.5M564.6 234.66h1.5M584.1 234.66h1.5M608.1 234.66h1.5M471.8 236.14h1.5M494.3 236.14h1.5M564.6 236.14h1.5M608.1 236.14h1.5M473.3 237.61h1.5M492.8 237.61h1.5M507.7 237.61h1.5M519.7 237.61h1.5M530.2 237.61h1.5M597.6 237.61h1.5M609.6 237.61h1.5"/><path stroke="#610000" d="M510.7 206.69h1.5M551.2 206.69h1.5M540.7 208.16h1.5M509.2 209.64h1.5M576.6 209.64h1.5M641 209.64h1.5M471.8 211.11h1.5M521.2 211.11h1.5M564.6 211.11h1.5M584.1 211.11h1.5M596.1 211.11h1.5M497.2 212.58h1.5M510.7 214.05h1.5M531.7 214.05h1.5M552.7 214.05h1.5M510.7 215.52h1.5M513.7 215.52h1.5M552.7 215.52h1.5M552.7 217h1.5M605.1 217h1.5M650 217h1.5M500.2 218.47h1.5M605.1 218.47h1.5M650 218.47h1.5M465.8 219.94h1.5M500.2 219.94h1.5M582.6 219.94h1.5M605.1 219.94h1.5M650 219.94h1.5M465.8 221.41h1.5M500.2 221.41h1.5M582.6 221.41h1.5M605.1 221.41h1.5M465.8 222.89h1.5M498.7 222.89h3M582.6 222.89h1.5M605.1 222.89h1.5M648.5 222.89h1.5M465.8 224.36h1.5M500.2 224.36h1.5M582.6 224.36h1.5M605.1 224.36h1.5M618.6 224.36h1.5M495.8 225.83h1.4M605.1 225.83h1.5M552.7 227.3h1.5M605.1 227.3h1.5M623 227.3h1.5M488.3 228.78h1.5M498.7 228.78h1.5M510.7 228.78h1.5M513.7 228.78h1.5M552.7 228.78h1.5M636.5 228.78h1.5M510.7 230.25h1.5M531.7 230.25h1.5M552.7 230.25h1.5M521.2 233.19h1.5M564.6 233.19h1.5M584.1 233.19h1.5M596.1 233.19h1.5M509.2 234.66h1.5M576.6 234.66h1.5M540.7 236.14h1.5M510.7 237.61h1.5M551.2 237.61h1.5"/><path stroke="#6c0000" d="M509.2 206.69h1.5M540.7 206.69h1.5M585.6 206.69h1.5M509.2 208.16h3M530.2 208.16h1.5M551.2 208.16h1.5M576.6 208.16h1.5M551.2 209.64h1.5M596.1 209.64h1.5M624.5 209.64h1.5M510.7 211.11h3M621.6 211.11h1.4M644 211.11h1.5M510.7 212.58h1.5M564.6 212.58h1.5M584.1 212.58h1.5M564.6 214.05h1.5M467.3 215.52h1.5M531.7 215.52h1.5M617.1 215.52h1.5M513.7 217h1.5M552.7 218.47h1.5M552.7 219.94h1.5M594.6 219.94h1.5M552.7 221.41h1.5M594.6 221.41h1.5M552.7 222.89h1.5M594.6 222.89h1.5M552.7 224.36h1.5M594.6 224.36h1.5M647 224.36h1.5M552.7 225.83h1.5M474.8 227.3h1.5M492.8 227.3h1.5M513.7 227.3h1.5M480.8 228.78h1.5M486.8 228.78h1.5M531.7 228.78h1.5M629 228.78h1.5M635 228.78h1.5M564.6 230.25h1.5M510.7 231.72h1.5M564.6 231.72h1.5M584.1 231.72h1.5M510.7 233.19h3M551.2 234.66h1.5M596.1 234.66h1.5M509.2 236.14h3M530.2 236.14h1.5M551.2 236.14h1.5M576.6 236.14h1.5M509.2 237.61h1.5M540.7 237.61h1.5M585.6 237.61h1.5"/><path stroke="#770000" d="M566.1 206.69h1.5M576.6 206.69h1.5M585.6 208.16h1.5M476.3 209.64h1.5M491.3 209.64h1.5M510.7 209.64h1.5M521.2 209.64h1.5M530.2 209.64h1.5M551.2 211.11h1.5M470.3 212.58h1.5M512.2 212.58h1.5M512.2 214.05h1.5M584.1 214.05h1.5M512.2 215.52h1.5M542.2 215.52h1.5M564.6 215.52h1.5M512.2 217h1.5M531.7 217h1.5M542.2 217h1.5M564.6 217h1.5M594.6 217h1.5M512.2 218.47h3M531.7 218.47h1.5M542.2 218.47h1.5M594.6 218.47h1.5M512.2 219.94h3M522.7 219.94h1.5M542.2 219.94h1.5M575.1 219.94h1.5M467.3 221.41h1.5M512.2 221.41h3M522.7 221.41h1.5M542.2 221.41h1.5M575.1 221.41h1.5M617.1 221.41h1.5M512.2 222.89h3M522.7 222.89h1.5M542.2 222.89h1.5M575.1 222.89h1.5M497.2 224.36h1.5M512.2 224.36h3M522.7 224.36h1.5M542.2 224.36h1.5M575.1 224.36h1.5M471.8 225.83h1.5M512.2 225.83h3M531.7 225.83h1.5M542.2 225.83h1.5M594.6 225.83h1.5M512.2 227.3h1.5M531.7 227.3h1.5M542.2 227.3h1.5M564.6 227.3h1.5M594.6 227.3h1.5M482.3 228.78h4.5M512.2 228.78h1.5M542.2 228.78h1.5M564.6 228.78h1.5M630.5 228.78h4.5M512.2 230.25h1.5M584.1 230.25h1.5M512.2 231.72h1.5M551.2 233.19h1.5M510.7 234.66h1.5M521.2 234.66h1.5M530.2 234.66h1.5M585.6 236.14h1.5M566.1 237.61h1.5M576.6 237.61h1.5"/><path stroke="#820000" d="M521.2 208.16h1.5M566.1 208.16h1.5M596.1 208.16h1.5M639.5 209.64h1.5M494.3 211.11h1.5M530.2 211.11h1.5M542.2 212.58h1.5M551.2 212.58h1.5M468.8 214.05h1.5M542.2 214.05h1.5M575.1 214.05h1.5M618.6 214.05h1.5M498.7 215.52h1.5M575.1 215.52h1.5M584.1 215.52h1.5M594.6 215.52h1.5M648.5 215.52h1.5M522.7 217h1.5M575.1 217h1.5M584.1 217h1.5M522.7 218.47h1.5M564.6 218.47h1.5M575.1 218.47h1.5M531.7 219.94h1.5M564.6 219.94h1.5M531.7 221.41h1.5M564.6 221.41h1.5M531.7 222.89h1.5M564.6 222.89h1.5M531.7 224.36h1.5M564.6 224.36h1.5M522.7 225.83h1.5M564.6 225.83h1.5M575.1 225.83h1.5M522.7 227.3h1.5M575.1 227.3h1.5M584.1 227.3h1.5M641 227.3h1.5M575.1 228.78h1.5M584.1 228.78h1.5M594.6 228.78h1.5M542.2 230.25h1.5M575.1 230.25h1.5M542.2 231.72h1.5M551.2 231.72h1.5M530.2 233.19h1.5M521.2 236.14h1.5M566.1 236.14h1.5M596.1 236.14h1.5"/><path stroke="#8c0000" d="M549.7 206.69h1.5M596.1 206.69h1.5M477.8 209.64h1.5M542.2 209.64h1.5M566.1 209.64h1.5M585.6 209.64h1.5M626 209.64h1.5M473.3 211.11h1.5M542.2 211.11h1.5M575.1 211.11h1.5M575.1 212.58h1.5M620.1 212.58h1.5M645.5 212.58h1.5M522.7 214.05h1.5M551.2 214.05h1.5M594.6 214.05h1.5M522.7 215.52h1.5M467.3 217h1.5M617.1 217h1.5M584.1 218.47h1.5M467.3 219.94h1.5M584.1 219.94h1.5M617.1 219.94h1.5M498.7 221.41h1.5M648.5 221.41h1.5M468.8 222.89h1.5M470.3 224.36h1.5M584.1 224.36h1.5M584.1 225.83h1.5M621.6 225.83h1.4M644 225.83h1.5M624.5 227.3h1.5M522.7 228.78h1.5M522.7 230.25h1.5M551.2 230.25h1.5M594.6 230.25h1.5M575.1 231.72h1.5M542.2 233.19h1.5M575.1 233.19h1.5M542.2 234.66h1.5M566.1 234.66h1.5M585.6 234.66h1.5M549.7 237.61h1.5M596.1 237.61h1.5"/><path stroke="#970000" d="M521.2 206.69h1.5M528.7 206.69h1.5M542.2 208.16h1.5M549.7 208.16h1.5M489.8 209.64h1.5M575.1 209.64h1.5M638 209.64h1.5M566.1 211.11h1.5M585.6 211.11h1.5M642.5 211.11h1.5M522.7 212.58h1.5M530.2 212.58h1.5M594.6 212.58h1.5M647 214.05h1.5M551.2 215.52h1.5M551.2 217h1.5M467.3 218.47h1.5M617.1 218.47h1.5M584.1 221.41h1.5M584.1 222.89h1.5M618.6 222.89h1.5M476.3 227.3h1.5M491.3 227.3h1.5M551.2 227.3h1.5M551.2 228.78h1.5M522.7 231.72h1.5M530.2 231.72h1.5M594.6 231.72h1.5M566.1 233.19h1.5M585.6 233.19h1.5M575.1 234.66h1.5M542.2 236.14h1.5M549.7 236.14h1.5M521.2 237.61h1.5M528.7 237.61h1.5"/><path stroke="#a20000" d="M542.2 206.69h1.5M587.1 206.69h1.5M528.7 208.16h1.5M575.1 208.16h1.5M522.7 211.11h1.5M594.6 211.11h1.5M623 211.11h1.5M495.8 212.58h1.4M566.1 212.58h1.5M585.6 212.58h1.5M497.2 214.05h1.5M530.2 214.05h1.5M498.7 217h1.5M648.5 217h1.5M551.2 218.47h1.5M551.2 219.94h1.5M551.2 221.41h1.5M551.2 222.89h1.5M647 222.89h1.5M551.2 224.36h1.5M620.1 224.36h1.5M645.5 224.36h1.5M494.3 225.83h1.5M551.2 225.83h1.5M639.5 227.3h1.5M530.2 230.25h1.5M566.1 231.72h1.5M585.6 231.72h1.5M522.7 233.19h1.5M594.6 233.19h1.5M528.7 236.14h1.5M575.1 236.14h1.5M542.2 237.61h1.5M587.1 237.61h1.5"/><path stroke="#ad0000" d="M567.6 206.69h1.5M575.1 206.69h1.5M587.1 208.16h1.5M479.3 209.64h1.5M522.7 209.64h1.5M549.7 209.64h1.5M594.6 209.64h1.5M627.5 209.64h1.5M636.5 209.64h1.5M471.8 212.58h1.5M566.1 214.05h1.5M585.6 214.05h1.5M468.8 215.52h1.5M530.2 215.52h1.5M566.1 215.52h1.5M498.7 218.47h1.5M648.5 218.47h1.5M498.7 219.94h1.5M648.5 219.94h1.5M497.2 222.89h1.5M473.3 225.83h1.5M626 227.3h1.5M530.2 228.78h1.5M566.1 228.78h1.5M566.1 230.25h1.5M585.6 230.25h1.5M522.7 234.66h1.5M549.7 234.66h1.5M594.6 234.66h1.5M587.1 236.14h1.5M567.6 237.61h1.5M575.1 237.61h1.5"/><path stroke="#b70000" d="M567.6 208.16h1.5M480.8 209.64h1.5M488.3 209.64h1.5M528.7 209.64h1.5M587.1 209.64h1.5M474.8 211.11h1.5M492.8 211.11h1.5M549.7 211.11h1.5M543.7 212.58h1.5M470.3 214.05h1.5M543.7 214.05h1.5M543.7 215.52h1.5M585.6 215.52h1.5M618.6 215.52h1.5M530.2 217h1.5M543.7 217h1.5M566.1 217h1.5M543.7 218.47h1.5M543.7 219.94h1.5M593.1 219.94h1.5M468.8 221.41h1.5M543.7 221.41h1.5M593.1 221.41h1.5M543.7 222.89h1.5M593.1 222.89h1.5M495.8 224.36h1.4M543.7 224.36h1.5M593.1 224.36h1.5M543.7 225.83h1.5M642.5 225.83h1.5M477.8 227.3h1.5M489.8 227.3h1.5M530.2 227.3h1.5M543.7 227.3h1.5M566.1 227.3h1.5M543.7 228.78h1.5M585.6 228.78h1.5M543.7 230.25h1.5M543.7 231.72h1.5M549.7 233.19h1.5M528.7 234.66h1.5M587.1 234.66h1.5M567.6 236.14h1.5"/><path stroke="#c20000" d="M522.7 208.16h1.5M594.6 208.16h1.5M482.3 209.64h1.5M486.8 209.64h1.5M543.7 209.64h1.5M567.6 209.64h1.5M629 209.64h1.5M635 209.64h1.5M528.7 211.11h1.5M543.7 211.11h1.5M641 211.11h1.5M549.7 212.58h1.5M621.6 212.58h1.4M644 212.58h1.5M573.6 214.05h1.5M573.6 215.52h1.5M647 215.52h1.5M573.6 217h1.5M585.6 217h1.5M593.1 217h1.5M524.2 218.47h1.5M530.2 218.47h1.5M566.1 218.47h1.5M573.6 218.47h1.5M593.1 218.47h1.5M524.2 219.94h1.5M530.2 219.94h1.5M566.1 219.94h1.5M573.6 219.94h1.5M524.2 221.41h1.5M573.6 221.41h1.5M618.6 221.41h1.5M524.2 222.89h1.5M573.6 222.89h1.5M471.8 224.36h1.5M524.2 224.36h1.5M530.2 224.36h1.5M566.1 224.36h1.5M573.6 224.36h1.5M524.2 225.83h1.5M530.2 225.83h1.5M566.1 225.83h1.5M573.6 225.83h1.5M593.1 225.83h1.5M623 225.83h1.5M573.6 227.3h1.5M585.6 227.3h1.5M593.1 227.3h1.5M638 227.3h1.5M573.6 228.78h1.5M573.6 230.25h1.5M549.7 231.72h1.5M528.7 233.19h1.5M543.7 233.19h1.5M543.7 234.66h1.5M567.6 234.66h1.5M522.7 236.14h1.5M594.6 236.14h1.5"/><path stroke="#cd0000" d="M522.7 206.69h1.5M527.2 206.69h1.5M543.7 206.69h1.5M548.2 206.69h1.5M588.6 206.69h1.5M594.6 206.69h1.5M543.7 208.16h1.5M483.8 209.64h3M630.5 209.64h4.5M573.6 211.11h1.5M587.1 211.11h1.5M624.5 211.11h1.5M573.6 212.58h1.5M524.2 214.05h1.5M549.7 214.05h1.5M593.1 214.05h1.5M620.1 214.05h1.5M645.5 214.05h1.5M497.2 215.52h1.5M524.2 215.52h1.5M593.1 215.52h1.5M468.8 217h1.5M524.2 217h1.5M618.6 217h1.5M585.6 218.47h1.5M468.8 219.94h1.5M585.6 219.94h1.5M530.2 221.41h1.5M566.1 221.41h1.5M585.6 221.41h1.5M647 221.41h1.5M470.3 222.89h1.5M530.2 222.89h1.5M566.1 222.89h1.5M585.6 222.89h1.5M585.6 224.36h1.5M474.8 225.83h1.5M492.8 225.83h1.5M585.6 225.83h1.5M479.3 227.3h1.5M488.3 227.3h1.5M524.2 227.3h1.5M627.5 227.3h1.5M636.5 227.3h1.5M524.2 228.78h1.5M593.1 228.78h1.5M524.2 230.25h1.5M549.7 230.25h1.5M593.1 230.25h1.5M573.6 231.72h1.5M573.6 233.19h1.5M587.1 233.19h1.5M543.7 236.14h1.5M522.7 237.61h1.5M527.2 237.61h1.5M543.7 237.61h1.5M548.2 237.61h1.5M588.6 237.61h1.5M594.6 237.61h1.5"/><path stroke="#d80000" d="M527.2 208.16h1.5M548.2 208.16h1.5M573.6 209.64h1.5M476.3 211.11h1.5M491.3 211.11h1.5M567.6 211.11h1.5M473.3 212.58h1.5M494.3 212.58h1.5M524.2 212.58h1.5M528.7 212.58h1.5M587.1 212.58h1.5M593.1 212.58h1.5M495.8 214.05h1.4M549.7 215.52h1.5M549.7 217h1.5M647 217h1.5M468.8 218.47h1.5M618.6 218.47h1.5M618.6 219.94h1.5M497.2 221.41h1.5M620.1 222.89h1.5M645.5 222.89h1.5M621.6 224.36h1.4M644 224.36h1.5M641 225.83h1.5M480.8 227.3h1.5M549.7 227.3h1.5M629 227.3h1.5M635 227.3h1.5M549.7 228.78h1.5M524.2 231.72h1.5M528.7 231.72h1.5M587.1 231.72h1.5M593.1 231.72h1.5M567.6 233.19h1.5M573.6 234.66h1.5M527.2 236.14h1.5M548.2 236.14h1.5"/><path stroke="#e30000" d="M573.6 206.69h1.5M573.6 208.16h1.5M588.6 208.16h1.5M524.2 209.64h1.5M548.2 209.64h1.5M524.2 211.11h1.5M593.1 211.11h1.5M639.5 211.11h1.5M567.6 212.58h1.5M642.5 212.58h1.5M528.7 214.05h1.5M587.1 214.05h1.5M470.3 215.52h1.5M497.2 217h1.5M549.7 218.47h1.5M647 218.47h1.5M497.2 219.94h1.5M549.7 219.94h1.5M647 219.94h1.5M495.8 222.89h1.4M494.3 224.36h1.5M549.7 224.36h1.5M549.7 225.83h1.5M624.5 225.83h1.5M482.3 227.3h6M630.5 227.3h4.5M528.7 230.25h1.5M587.1 230.25h1.5M567.6 231.72h1.5M524.2 233.19h1.5M593.1 233.19h1.5M524.2 234.66h1.5M548.2 234.66h1.5M573.6 236.14h1.5M588.6 236.14h1.5M573.6 237.61h1.5"/><path stroke="#ed0000" d="M545.2 206.69h1.5M569.1 206.69h1.5M524.2 208.16h1.5M545.2 208.16h1.5M527.2 209.64h1.5M545.2 209.64h1.5M588.6 209.64h1.5M593.1 209.64h1.5M477.8 211.11h1.5M489.8 211.11h1.5M545.2 211.11h1.5M548.2 211.11h1.5M626 211.11h1.5M638 211.11h1.5M545.2 212.58h1.5M623 212.58h1.5M471.8 214.05h1.5M545.2 214.05h1.5M567.6 214.05h1.5M528.7 215.52h1.5M545.2 215.52h1.5M587.1 215.52h1.5M620.1 215.52h1.5M645.5 215.52h1.5M545.2 217h1.5M497.2 218.47h1.5M545.2 218.47h1.5M545.2 219.94h1.5M470.3 221.41h1.5M545.2 221.41h1.5M549.7 221.41h1.5M545.2 222.89h1.5M549.7 222.89h1.5M473.3 224.36h1.5M545.2 224.36h1.5M476.3 225.83h1.5M491.3 225.83h1.5M545.2 225.83h1.5M545.2 227.3h1.5M528.7 228.78h1.5M545.2 228.78h1.5M587.1 228.78h1.5M545.2 230.25h1.5M567.6 230.25h1.5M545.2 231.72h1.5M545.2 233.19h1.5M548.2 233.19h1.5M527.2 234.66h1.5M545.2 234.66h1.5M588.6 234.66h1.5M593.1 234.66h1.5M524.2 236.14h1.5M545.2 236.14h1.5M545.2 237.61h1.5M569.1 237.61h1.5"/><path stroke="#f80000" d="M524.2 206.69h3M546.7 206.69h1.5M590.1 206.69h1.5M525.7 208.16h1.5M546.7 208.16h1.5M569.1 208.16h1.5M593.1 208.16h1.5M479.3 211.11h1.5M527.2 211.11h1.5M588.6 211.11h1.5M627.5 211.11h1.5M474.8 212.58h1.5M492.8 212.58h1.5M548.2 212.58h1.5M621.6 214.05h1.4M644 214.05h1.5M495.8 215.52h1.4M567.6 215.52h1.5M470.3 217h1.5M528.7 217h1.5M587.1 217h1.5M470.3 219.94h1.5M620.1 221.41h1.5M645.5 221.41h1.5M471.8 222.89h1.5M623 224.36h1.5M642.5 224.36h1.5M639.5 225.83h1.5M528.7 227.3h1.5M587.1 227.3h1.5M567.6 228.78h1.5M548.2 231.72h1.5M527.2 233.19h1.5M588.6 233.19h1.5M525.7 236.14h1.5M546.7 236.14h1.5M569.1 236.14h1.5M593.1 236.14h1.5M524.2 237.61h3M546.7 237.61h1.5M590.1 237.61h1.5"/><path stroke="#ff0400" d="M593.1 206.69h1.5M590.1 208.16h1.5M525.7 209.64h1.5M546.7 209.64h1.5M569.1 209.64h1.5M572.1 209.64h1.5M480.8 211.11h1.5M488.3 211.11h1.5M525.7 211.11h1.5M546.7 211.11h1.5M572.1 211.11h1.5M636.5 211.11h1.5M525.7 212.58h3M546.7 212.58h1.5M572.1 212.58h1.5M588.6 212.58h1.5M641 212.58h1.5M473.3 214.05h1.5M494.3 214.05h1.5M525.7 214.05h3M548.2 214.05h1.5M572.1 214.05h1.5M471.8 215.52h1.5M525.7 215.52h1.5M548.2 215.52h1.5M572.1 215.52h1.5M591.6 215.52h1.5M525.7 217h1.5M567.6 217h1.5M572.1 217h1.5M591.6 217h1.5M620.1 217h1.5M645.5 217h1.5M470.3 218.47h1.5M525.7 218.47h1.5M528.7 218.47h1.5M567.6 218.47h1.5M572.1 218.47h1.5M587.1 218.47h1.5M591.6 218.47h1.5M525.7 219.94h1.5M528.7 219.94h1.5M572.1 219.94h1.5M587.1 219.94h1.5M591.6 219.94h1.5M620.1 219.94h1.5M645.5 219.94h1.5M495.8 221.41h1.4M525.7 221.41h1.5M528.7 221.41h1.5M572.1 221.41h1.5M591.6 221.41h1.5M525.7 222.89h1.5M528.7 222.89h1.5M572.1 222.89h1.5M591.6 222.89h1.5M621.6 222.89h1.4M644 222.89h1.5M474.8 224.36h1.5M492.8 224.36h1.5M525.7 224.36h1.5M528.7 224.36h1.5M572.1 224.36h1.5M587.1 224.36h1.5M591.6 224.36h1.5M477.8 225.83h1.5M489.8 225.83h1.5M525.7 225.83h1.5M528.7 225.83h1.5M567.6 225.83h1.5M572.1 225.83h1.5M587.1 225.83h1.5M591.6 225.83h1.5M626 225.83h1.5M638 225.83h1.5M525.7 227.3h1.5M567.6 227.3h1.5M572.1 227.3h1.5M591.6 227.3h1.5M525.7 228.78h1.5M548.2 228.78h1.5M572.1 228.78h1.5M591.6 228.78h1.5M525.7 230.25h3M548.2 230.25h1.5M572.1 230.25h1.5M525.7 231.72h3M546.7 231.72h1.5M572.1 231.72h1.5M588.6 231.72h1.5M525.7 233.19h1.5M546.7 233.19h1.5M572.1 233.19h1.5M525.7 234.66h1.5M546.7 234.66h1.5M569.1 234.66h1.5M572.1 234.66h1.5M590.1 236.14h1.5M593.1 237.61h1.5"/><path stroke="#ff0f00" d="M570.6 206.69h3M591.6 206.69h1.5M572.1 208.16h1.5M591.6 208.16h1.5M590.1 209.64h3M482.3 211.11h6M569.1 211.11h1.5M591.6 211.11h1.5M629 211.11h7.5M476.3 212.58h1.5M491.3 212.58h1.5M591.6 212.58h1.5M624.5 212.58h1.5M546.7 214.05h1.5M588.6 214.05h1.5M591.6 214.05h1.5M642.5 214.05h1.5M527.2 215.52h1.5M546.7 215.52h1.5M644 215.52h1.5M495.8 217h1.4M546.7 217h3M546.7 218.47h1.5M620.1 218.47h1.5M645.5 218.47h1.5M495.8 219.94h1.4M567.6 219.94h1.5M471.8 221.41h1.5M567.6 221.41h1.5M587.1 221.41h1.5M473.3 222.89h1.5M494.3 222.89h1.5M567.6 222.89h1.5M587.1 222.89h1.5M567.6 224.36h1.5M641 224.36h1.5M479.3 225.83h1.5M488.3 225.83h1.5M546.7 225.83h1.5M627.5 225.83h1.5M636.5 225.83h1.5M546.7 227.3h3M527.2 228.78h1.5M546.7 228.78h1.5M546.7 230.25h1.5M588.6 230.25h1.5M591.6 230.25h1.5M591.6 231.72h1.5M569.1 233.19h1.5M591.6 233.19h1.5M590.1 234.66h3M572.1 236.14h1.5M591.6 236.14h1.5M570.6 237.61h3M591.6 237.61h1.5"/><path stroke="#ff1a00" d="M570.6 208.16h1.5M570.6 209.64h1.5M570.6 211.11h1.5M590.1 211.11h1.5M477.8 212.58h1.5M569.1 212.58h1.5M590.1 212.58h1.5M626 212.58h1.5M639.5 212.58h1.5M474.8 214.05h1.5M492.8 214.05h1.5M569.1 214.05h1.5M623 214.05h1.5M494.3 215.52h1.5M588.6 215.52h1.5M621.6 215.52h1.4M471.8 217h1.5M527.2 217h1.5M471.8 218.47h1.5M495.8 218.47h1.4M527.2 218.47h1.5M548.2 218.47h1.5M471.8 219.94h1.5M527.2 219.94h1.5M546.7 219.94h3M546.7 221.41h3M621.6 221.41h1.4M644 221.41h1.5M546.7 222.89h3M623 222.89h1.5M642.5 222.89h1.5M476.3 224.36h1.5M491.3 224.36h1.5M527.2 224.36h1.5M546.7 224.36h3M624.5 224.36h1.5M639.5 224.36h1.5M480.8 225.83h7.5M527.2 225.83h1.5M548.2 225.83h1.5M629 225.83h7.5M527.2 227.3h1.5M588.6 228.78h1.5M569.1 230.25h1.5M569.1 231.72h1.5M590.1 231.72h1.5M570.6 233.19h1.5M590.1 233.19h1.5M570.6 234.66h1.5M570.6 236.14h1.5"/><path stroke="#ff2400" d="M479.3 212.58h1.5M488.3 212.58h3M570.6 212.58h1.5M627.5 212.58h1.5M636.5 212.58h3M570.6 214.05h1.5M590.1 214.05h1.5M624.5 214.05h1.5M641 214.05h1.5M473.3 215.52h1.5M569.1 215.52h1.5M590.1 215.52h1.5M623 215.52h1.5M642.5 215.52h1.5M494.3 217h1.5M588.6 217h1.5M621.6 217h1.4M644 217h1.5M588.6 218.47h1.5M621.6 218.47h1.4M644 218.47h1.5M494.3 219.94h1.5M621.6 219.94h1.4M644 219.94h1.5M473.3 221.41h1.5M494.3 221.41h1.5M527.2 221.41h1.5M642.5 221.41h1.5M474.8 222.89h1.5M492.8 222.89h1.5M527.2 222.89h1.5M641 222.89h1.5M477.8 224.36h1.5M489.8 224.36h1.5M626 224.36h1.5M638 224.36h1.5M588.6 225.83h1.5M588.6 227.3h1.5M569.1 228.78h1.5M590.1 228.78h1.5M570.6 230.25h1.5M590.1 230.25h1.5M570.6 231.72h1.5"/><path stroke="#ff2f00" d="M480.8 212.58h3M486.8 212.58h1.5M629 212.58h1.5M635 212.58h1.5M476.3 214.05h1.5M491.3 214.05h1.5M639.5 214.05h1.5M474.8 215.52h1.5M492.8 215.52h1.5M570.6 215.52h1.5M473.3 217h1.5M569.1 217h3M590.1 217h1.5M642.5 217h1.5M473.3 218.47h1.5M494.3 218.47h1.5M569.1 218.47h3M590.1 218.47h1.5M473.3 219.94h1.5M570.6 219.94h1.5M588.6 219.94h3M570.6 221.41h1.5M588.6 221.41h3M623 221.41h1.5M476.3 222.89h1.5M570.6 222.89h1.5M588.6 222.89h3M624.5 222.89h1.5M479.3 224.36h1.5M488.3 224.36h1.5M570.6 224.36h1.5M588.6 224.36h3M627.5 224.36h1.5M636.5 224.36h1.5M569.1 225.83h3M590.1 225.83h1.5M569.1 227.3h3M590.1 227.3h1.5M570.6 228.78h1.5"/><path stroke="#ff3a00" d="M483.8 212.58h3M630.5 212.58h4.5M477.8 214.05h1.5M626 214.05h1.5M641 215.52h1.5M623 217h1.5M642.5 218.47h1.5M569.1 219.94h1.5M623 219.94h1.5M642.5 219.94h1.5M474.8 221.41h1.5M492.8 221.41h1.5M569.1 221.41h1.5M491.3 222.89h1.5M569.1 222.89h1.5M639.5 222.89h1.5M480.8 224.36h1.5M569.1 224.36h1.5M629 224.36h1.5M635 224.36h1.5"/><path stroke="#ff4500" d="M489.8 214.05h1.5M638 214.05h1.5M624.5 215.52h1.5M474.8 217h1.5M492.8 217h1.5M623 218.47h1.5M492.8 219.94h1.5M641 221.41h1.5M626 222.89h1.5M482.3 224.36h6M630.5 224.36h4.5"/><path stroke="#ff5000" d="M479.3 214.05h1.5M627.5 214.05h1.5M476.3 215.52h1.5M491.3 215.52h1.5M641 217h1.5M474.8 218.47h1.5M492.8 218.47h1.5M474.8 219.94h1.5M624.5 221.41h1.5M477.8 222.89h1.5M489.8 222.89h1.5M638 222.89h1.5"/><path stroke="#ff5a00" d="M488.3 214.05h1.5M636.5 214.05h1.5M639.5 215.52h1.5M641 219.94h1.5M476.3 221.41h1.5M491.3 221.41h1.5"/><path stroke="#ff6500" d="M480.8 214.05h1.5M624.5 217h1.5M641 218.47h1.5M639.5 221.41h1.5M479.3 222.89h1.5M627.5 222.89h1.5"/><path stroke="#ff7000" d="M486.8 214.05h1.5M629 214.05h1.5M635 214.05h1.5M477.8 215.52h1.5M626 215.52h1.5M476.3 217h1.5M624.5 219.94h1.5M488.3 222.89h1.5M636.5 222.89h1.5"/><path stroke="#ff7b00" d="M482.3 214.05h1.5M630.5 214.05h1.5M633.5 214.05h1.5M489.8 215.52h1.5M491.3 217h1.5M624.5 218.47h1.5M476.3 219.94h1.5"/><path stroke="#ff8600" d="M483.8 214.05h3M632 214.05h1.5M638 215.52h1.5M639.5 217h1.5M476.3 218.47h1.5M491.3 219.94h1.5M477.8 221.41h1.5M626 221.41h1.5M480.8 222.89h1.5"/><path stroke="#ff9000" d="M491.3 218.47h1.5M629 222.89h1.5M635 222.89h1.5"/><path stroke="#ff9b00" d="M639.5 219.94h1.5M489.8 221.41h1.5M486.8 222.89h1.5"/><path stroke="#ffa600" d="M639.5 218.47h1.5M638 221.41h1.5M482.3 222.89h1.5"/><path stroke="#ffb100" d="M479.3 215.52h1.5M627.5 215.52h1.5M630.5 222.89h1.5M633.5 222.89h1.5"/><path stroke="#ffbc00" d="M626 217h1.5M483.8 222.89h3M632 222.89h1.5"/><path stroke="#ffc600" d="M488.3 215.52h1.5M636.5 215.52h1.5M477.8 217h1.5"/><path stroke="#ffd100" d="M626 219.94h1.5"/><path stroke="#ffdc00" d="M489.8 217h1.5M477.8 219.94h1.5M479.3 221.41h1.5M627.5 221.41h1.5"/><path stroke="#ffe700" d="M638 217h1.5M626 218.47h1.5"/><path stroke="#fff200" d="M480.8 215.52h1.5M629 215.52h1.5M477.8 218.47h1.5M489.8 219.94h1.5M638 219.94h1.5M488.3 221.41h1.5M636.5 221.41h1.5"/><path stroke="#fffc00" d="M486.8 215.52h1.5M635 215.52h1.5M489.8 218.47h1.5"/><path stroke="#ffff0c" d="M482.3 215.52h1.5M479.3 217h1.5M638 218.47h1.5M480.8 221.41h1.5"/><path stroke="#ffff1c" d="M483.8 215.52h3M630.5 215.52h1.5M633.5 215.52h1.5M627.5 217h1.5M629 221.41h1.5M635 221.41h1.5"/><path stroke="#ffff2d" d="M632 215.52h1.5M488.3 217h1.5M636.5 217h1.5M479.3 219.94h1.5M627.5 219.94h1.5M486.8 221.41h1.5"/><path stroke="#ffff3d" d="M479.3 218.47h1.5M627.5 218.47h1.5M488.3 219.94h1.5M636.5 219.94h1.5M482.3 221.41h1.5M630.5 221.41h1.5M633.5 221.41h1.5"/><path stroke="#ffff4d" d="M480.8 217h1.5M636.5 218.47h1.5M483.8 221.41h3M632 221.41h1.5"/><path stroke="#ffff5d" d="M629 217h1.5M635 217h1.5M488.3 218.47h1.5"/><path stroke="#ffff6d" d="M486.8 217h1.5M480.8 219.94h1.5M629 219.94h1.5"/><path stroke="#ffff7d" d="M482.3 217h1.5M480.8 218.47h1.5M635 219.94h1.5"/><path stroke="#ffff8e" d="M630.5 217h1.5M633.5 217h1.5M629 218.47h1.5M486.8 219.94h1.5"/><path stroke="#ffff9e" d="M483.8 217h3M632 217h1.5M635 218.47h1.5M482.3 219.94h1.5"/><path stroke="#ffffae" d="M486.8 218.47h1.5M630.5 219.94h1.5M633.5 219.94h1.5"/><path stroke="#ffffbe" d="M482.3 218.47h1.5M483.8 219.94h3M632 219.94h1.5"/><path stroke="#ffffce" d="M630.5 218.47h1.5M633.5 218.47h1.5"/><path stroke="#ffffdf" d="M485.3 218.47h1.5"/><path stroke="#ffffef" d="M483.8 218.47h1.5M632 218.47h1.5"/></g></g></g><text x="461.50" y="212.52" font-size="7" text-anchor="end" fill="#262626">5</text><text x="461.50" y="224.52" font-size="7" text-anchor="end" fill="#262626">0</text><text x="461.50" y="236.52" font-size="7" text-anchor="end" fill="#262626">-5</text><text x="464.60" y="245.00" font-size="6.4" text-anchor="middle" fill="#262626">-39</text><text x="511.60" y="245.00" font-size="6.4" text-anchor="middle" fill="#262626">-20</text><text x="557.40" y="245.00" font-size="6.4" text-anchor="middle" fill="#262626">0</text><text x="605.00" y="245.00" font-size="6.4" text-anchor="middle" fill="#262626">20</text><text x="651.40" y="245.00" font-size="6.4" text-anchor="middle" fill="#262626">39</text><text x="558.70" y="253.80" font-size="7.0" text-anchor="middle" fill="#262626">x (mm)</text><text x="453.00" y="222.00" font-size="7.5" text-anchor="middle" fill="#262626" transform="rotate(-90 453.00 222.00)">y (mm)</text><defs><linearGradient id="cb126" x1="0" y1="1" x2="0" y2="0"><stop offset="0" stop-color="#000"/><stop offset="0.375" stop-color="#f00"/><stop offset="0.75" stop-color="#ff0"/><stop offset="1" stop-color="#fff"/></linearGradient></defs><rect x="657.20" y="196.20" width="6.60" height="49.30" fill="url(#cb126)" stroke="#a0a0a0" stroke-width="0.5"/><text x="666.00" y="198.36" font-size="6" text-anchor="start" fill="#262626">1</text><text x="666.00" y="208.22" font-size="6" text-anchor="start" fill="#262626">0.8</text><text x="666.00" y="218.08" font-size="6" text-anchor="start" fill="#262626">0.6</text><text x="666.00" y="227.94" font-size="6" text-anchor="start" fill="#262626">0.4</text><text x="666.00" y="237.80" font-size="6" text-anchor="start" fill="#262626">0.2</text><text x="666.00" y="247.66" font-size="6" text-anchor="start" fill="#262626">0</text><text x="681.60" y="223.80" font-size="7.9" text-anchor="middle" fill="#262626" transform="rotate(-90 681.60 223.80)">Normalized pressure</text><text x="6.50" y="302.50" font-size="14" text-anchor="start" fill="#000">(g)</text><text x="236.50" y="302.50" font-size="14" text-anchor="start" fill="#000">(h)</text><text x="465.20" y="302.50" font-size="14" text-anchor="start" fill="#000">(i)</text><path d="M31.40 325.80V445.50H197.50" fill="none" stroke="#808080" stroke-width="0.6"/><path d="M31.40 445.50h1.3" stroke="#808080" stroke-width="0.6"/><text x="27.60" y="448.80" font-size="9.3" text-anchor="end" fill="#262626">0</text><path d="M31.40 421.66h1.3" stroke="#808080" stroke-width="0.6"/><text x="27.60" y="424.96" font-size="9.3" text-anchor="end" fill="#262626">0.2</text><path d="M31.40 397.82h1.3" stroke="#808080" stroke-width="0.6"/><text x="27.60" y="401.12" font-size="9.3" text-anchor="end" fill="#262626">0.4</text><path d="M31.40 373.98h1.3" stroke="#808080" stroke-width="0.6"/><text x="27.60" y="377.28" font-size="9.3" text-anchor="end" fill="#262626">0.6</text><path d="M31.40 350.14h1.3" stroke="#808080" stroke-width="0.6"/><text x="27.60" y="353.44" font-size="9.3" text-anchor="end" fill="#262626">0.8</text><path d="M31.40 326.30h1.3" stroke="#808080" stroke-width="0.6"/><text x="27.60" y="329.60" font-size="9.3" text-anchor="end" fill="#262626">1</text><path d="M34.90 445.50v-1.3" stroke="#808080" stroke-width="0.6"/><path d="M75.30 445.50v-1.3" stroke="#808080" stroke-width="0.6"/><path d="M115.40 445.50v-1.3" stroke="#808080" stroke-width="0.6"/><path d="M156.10 445.50v-1.3" stroke="#808080" stroke-width="0.6"/><path d="M196.50 445.50v-1.3" stroke="#808080" stroke-width="0.6"/><text x="33.70" y="458.50" font-size="9" text-anchor="middle" fill="#262626">-7.5</text><text x="74.90" y="458.50" font-size="9" text-anchor="middle" fill="#262626">-3.75</text><text x="110.50" y="458.50" font-size="9" text-anchor="middle" fill="#262626">0</text><text x="154.90" y="458.50" font-size="9" text-anchor="middle" fill="#262626">3.75</text><text x="194.30" y="458.50" font-size="9" text-anchor="middle" fill="#262626">7.5</text><text x="104.00" y="470.50" font-size="10" text-anchor="middle" fill="#262626">x (mm)</text><text x="11.60" y="385.60" font-size="10.2" text-anchor="middle" fill="#262626" transform="rotate(-90 11.60 385.60)">Normalized pressure</text><text x="114.00" y="321.90" font-size="10.2" font-weight="bold" text-anchor="middle" fill="#000">Pressure Profiles</text><path d="M32.20 445.50H71.40L74.00 326.60L76.60 445.50H150.90L154.20 326.60L156.90 445.50H197.50" fill="none" stroke="#3d86c6" stroke-width="1.5" stroke-dasharray="6 6.4" stroke-linejoin="miter"/><path d="M35.12 436.48 L35.66 434.56 L36.20 432.58 L36.74 430.52 L37.28 428.39 L37.82 426.21 L38.36 423.97 L38.90 421.68 L39.45 419.34 L39.99 416.95 L40.53 414.53 L41.07 412.08 L41.61 409.60 L42.15 407.09 L42.69 404.57 L43.23 402.03 L43.77 399.48 L44.31 396.92 L44.85 394.36 L45.39 391.81 L45.93 389.26 L46.47 386.73 L47.01 384.22 L47.56 381.72 L48.10 379.26 L48.64 376.82 L49.18 374.42 L49.72 372.06 L50.26 369.75 L50.80 367.48 L51.34 365.27 L51.88 363.12 L52.42 361.03 L52.96 359.01 L53.50 357.06 L54.04 355.17 L54.58 353.35 L55.12 351.59 L55.66 349.90 L56.21 348.27 L56.75 346.70 L57.29 345.20 L57.83 343.76 L58.37 342.38 L58.91 341.07 L59.45 339.81 L59.99 338.62 L60.53 337.48 L61.07 336.40 L61.61 335.39 L62.15 334.43 L62.69 333.52 L63.23 332.68 L63.77 331.89 L64.32 331.15 L64.86 330.47 L65.40 329.85 L65.94 329.28 L66.48 328.75 L67.02 328.28 L67.56 327.86 L68.10 327.49 L68.64 327.17 L69.18 326.89 L69.72 326.66 L70.26 326.48 L70.80 326.34 L71.34 326.24 L71.88 326.19 L72.42 326.17 L72.97 326.20 L73.51 326.27 L74.05 326.38 L74.59 326.52 L75.13 326.71 L75.67 326.94 L76.21 327.21 L76.75 327.53 L77.29 327.89 L77.83 328.31 L78.37 328.77 L78.91 329.28 L79.45 329.84 L79.99 330.46 L80.53 331.13 L81.07 331.86 L81.62 332.64 L82.16 333.49 L82.70 334.39 L83.24 335.36 L83.78 336.37 L84.32 337.44 L84.86 338.55 L85.40 339.71 L85.94 340.90 L86.48 342.12 L87.02 343.37 L87.56 344.64 L88.10 345.93 L88.64 347.23 L89.18 348.55 L89.73 349.86 L90.27 351.18 L90.81 352.50 L91.35 353.80 L91.89 355.10 L92.43 356.37 L92.97 357.62 L93.51 358.85 L94.05 360.05 L94.59 361.21 L95.13 362.35 L95.67 363.46 L96.21 364.55 L96.75 365.60 L97.29 366.63 L97.83 367.63 L98.38 368.60 L98.92 369.55 L99.46 370.47 L100.00 371.37 L100.54 372.24 L101.08 373.09 L101.62 373.91 L102.16 374.72 L102.70 375.49 L103.24 376.25 L103.78 376.99 L104.32 377.70 L104.86 378.39 L105.40 379.06 L105.94 379.71 L106.49 380.33 L107.03 380.92 L107.57 381.49 L108.11 382.03 L108.65 382.54 L109.19 383.02 L109.73 383.47 L110.27 383.88 L110.81 384.26 L111.35 384.61 L111.89 384.91 L112.43 385.18 L112.97 385.41 L113.51 385.59 L114.05 385.74 L114.59 385.84 L115.14 385.89 L115.68 385.90 L116.22 385.87 L116.76 385.79 L117.30 385.66 L117.84 385.49 L118.38 385.28 L118.92 385.02 L119.46 384.73 L120.00 384.39 L120.54 384.01 L121.08 383.59 L121.62 383.12 L122.16 382.62 L122.70 382.08 L123.25 381.51 L123.79 380.89 L124.33 380.24 L124.87 379.55 L125.41 378.83 L125.95 378.07 L126.49 377.27 L127.03 376.45 L127.57 375.59 L128.11 374.70 L128.65 373.78 L129.19 372.83 L129.73 371.85 L130.27 370.85 L130.81 369.83 L131.35 368.78 L131.90 367.71 L132.44 366.62 L132.98 365.52 L133.52 364.39 L134.06 363.25 L134.60 362.10 L135.14 360.93 L135.68 359.75 L136.22 358.57 L136.76 357.37 L137.30 356.16 L137.84 354.95 L138.38 353.74 L138.92 352.52 L139.46 351.30 L140.00 350.08 L140.55 348.86 L141.09 347.64 L141.63 346.43 L142.17 345.23 L142.71 344.05 L143.25 342.88 L143.79 341.73 L144.33 340.60 L144.87 339.50 L145.41 338.42 L145.95 337.38 L146.49 336.37 L147.03 335.39 L147.57 334.46 L148.11 333.57 L148.66 332.72 L149.20 331.92 L149.74 331.18 L150.28 330.49 L150.82 329.86 L151.36 329.28 L151.90 328.77 L152.44 328.31 L152.98 327.91 L153.52 327.55 L154.06 327.25 L154.60 326.99 L155.14 326.77 L155.68 326.60 L156.22 326.46 L156.76 326.37 L157.31 326.30 L157.85 326.27 L158.39 326.27 L158.93 326.29 L159.47 326.34 L160.01 326.42 L160.55 326.53 L161.09 326.67 L161.63 326.85 L162.17 327.06 L162.71 327.33 L163.25 327.63 L163.79 327.99 L164.33 328.41 L164.87 328.87 L165.42 329.40 L165.96 329.99 L166.50 330.65 L167.04 331.38 L167.58 332.18 L168.12 333.06 L168.66 334.02 L169.20 335.06 L169.74 336.19 L170.28 337.41 L170.82 338.71 L171.36 340.10 L171.90 341.58 L172.44 343.13 L172.98 344.76 L173.52 346.46 L174.07 348.22 L174.61 350.05 L175.15 351.95 L175.69 353.89 L176.23 355.90 L176.77 357.95 L177.31 360.05 L177.85 362.19 L178.39 364.38 L178.93 366.60 L179.47 368.85 L180.01 371.13 L180.55 373.44 L181.09 375.77 L181.63 378.11 L182.18 380.48 L182.72 382.85 L183.26 385.23 L183.80 387.62 L184.34 390.00 L184.88 392.38 L185.42 394.76 L185.96 397.12 L186.50 399.47 L187.04 401.80 L187.58 404.11 L188.12 406.39 L188.66 408.65 L189.20 410.87 L189.74 413.06 L190.28 415.20 L190.83 417.30 L191.37 419.36 L191.91 421.36 L192.45 423.31 L192.99 425.20 L193.53 427.03 L194.07 428.79 L194.61 430.48 L195.15 432.10 L195.69 433.64 L196.23 435.10 L196.77 436.48" fill="none" stroke="#d95319" stroke-width="1.5" stroke-linejoin="round"/><path d="M35.12 445.50 L35.66 443.74 L36.20 441.92 L36.74 440.03 L37.28 438.07 L37.82 436.06 L38.36 433.99 L38.90 431.87 L39.45 429.70 L39.99 427.48 L40.53 425.22 L41.07 422.92 L41.61 420.59 L42.15 418.22 L42.69 415.83 L43.23 413.41 L43.77 410.98 L44.31 408.52 L44.85 406.05 L45.39 403.57 L45.93 401.08 L46.47 398.59 L47.01 396.10 L47.56 393.61 L48.10 391.13 L48.64 388.66 L49.18 386.20 L49.72 383.76 L50.26 381.34 L50.80 378.95 L51.34 376.58 L51.88 374.24 L52.42 371.94 L52.96 369.68 L53.50 367.45 L54.04 365.27 L54.58 363.14 L55.12 361.05 L55.66 359.00 L56.21 357.01 L56.75 355.08 L57.29 353.20 L57.83 351.38 L58.37 349.61 L58.91 347.91 L59.45 346.28 L59.99 344.71 L60.53 343.20 L61.07 341.77 L61.61 340.42 L62.15 339.14 L62.69 337.93 L63.23 336.81 L63.77 335.76 L64.32 334.80 L64.86 333.92 L65.40 333.12 L65.94 332.39 L66.48 331.74 L67.02 331.16 L67.56 330.65 L68.10 330.22 L68.64 329.86 L69.18 329.56 L69.72 329.33 L70.26 329.17 L70.80 329.07 L71.34 329.03 L71.88 329.06 L72.42 329.14 L72.97 329.29 L73.51 329.49 L74.05 329.74 L74.59 330.05 L75.13 330.41 L75.67 330.82 L76.21 331.28 L76.75 331.79 L77.29 332.34 L77.83 332.94 L78.37 333.58 L78.91 334.26 L79.45 334.98 L79.99 335.73 L80.53 336.52 L81.07 337.35 L81.62 338.20 L82.16 339.09 L82.70 340.01 L83.24 340.95 L83.78 341.91 L84.32 342.90 L84.86 343.92 L85.40 344.95 L85.94 346.00 L86.48 347.06 L87.02 348.14 L87.56 349.23 L88.10 350.34 L88.64 351.45 L89.18 352.57 L89.73 353.69 L90.27 354.82 L90.81 355.95 L91.35 357.08 L91.89 358.20 L92.43 359.33 L92.97 360.45 L93.51 361.56 L94.05 362.66 L94.59 363.75 L95.13 364.84 L95.67 365.91 L96.21 366.96 L96.75 368.01 L97.29 369.03 L97.83 370.04 L98.38 371.03 L98.92 372.01 L99.46 372.96 L100.00 373.89 L100.54 374.80 L101.08 375.68 L101.62 376.54 L102.16 377.38 L102.70 378.19 L103.24 378.96 L103.78 379.71 L104.32 380.43 L104.86 381.12 L105.40 381.78 L105.94 382.39 L106.49 382.98 L107.03 383.52 L107.57 384.03 L108.11 384.49 L108.65 384.91 L109.19 385.29 L109.73 385.62 L110.27 385.90 L110.81 386.14 L111.35 386.32 L111.89 386.45 L112.43 386.53 L112.97 386.55 L113.51 386.51 L114.05 386.41 L114.59 386.26 L115.14 386.04 L115.68 385.78 L116.22 385.45 L116.76 385.08 L117.30 384.65 L117.84 384.18 L118.38 383.67 L118.92 383.10 L119.46 382.50 L120.00 381.86 L120.54 381.17 L121.08 380.46 L121.62 379.70 L122.16 378.92 L122.70 378.10 L123.25 377.26 L123.79 376.39 L124.33 375.50 L124.87 374.58 L125.41 373.64 L125.95 372.69 L126.49 371.71 L127.03 370.73 L127.57 369.72 L128.11 368.71 L128.65 367.68 L129.19 366.64 L129.73 365.59 L130.27 364.52 L130.81 363.45 L131.35 362.37 L131.90 361.28 L132.44 360.19 L132.98 359.09 L133.52 357.98 L134.06 356.87 L134.60 355.76 L135.14 354.65 L135.68 353.53 L136.22 352.41 L136.76 351.29 L137.30 350.18 L137.84 349.06 L138.38 347.95 L138.92 346.84 L139.46 345.74 L140.00 344.64 L140.55 343.54 L141.09 342.46 L141.63 341.39 L142.17 340.33 L142.71 339.29 L143.25 338.27 L143.79 337.28 L144.33 336.31 L144.87 335.36 L145.41 334.45 L145.95 333.57 L146.49 332.73 L147.03 331.93 L147.57 331.17 L148.11 330.45 L148.66 329.78 L149.20 329.16 L149.74 328.59 L150.28 328.08 L150.82 327.62 L151.36 327.23 L151.90 326.89 L152.44 326.63 L152.98 326.43 L153.52 326.31 L154.06 326.25 L154.60 326.28 L155.14 326.37 L155.68 326.54 L156.22 326.78 L156.76 327.10 L157.31 327.49 L157.85 327.95 L158.39 328.48 L158.93 329.08 L159.47 329.76 L160.01 330.50 L160.55 331.32 L161.09 332.21 L161.63 333.17 L162.17 334.20 L162.71 335.30 L163.25 336.47 L163.79 337.71 L164.33 339.02 L164.87 340.39 L165.42 341.84 L165.96 343.34 L166.50 344.91 L167.04 346.54 L167.58 348.22 L168.12 349.96 L168.66 351.75 L169.20 353.59 L169.74 355.47 L170.28 357.39 L170.82 359.36 L171.36 361.36 L171.90 363.40 L172.44 365.46 L172.98 367.56 L173.52 369.68 L174.07 371.83 L174.61 374.00 L175.15 376.18 L175.69 378.39 L176.23 380.60 L176.77 382.83 L177.31 385.06 L177.85 387.30 L178.39 389.54 L178.93 391.77 L179.47 394.00 L180.01 396.22 L180.55 398.41 L181.09 400.58 L181.63 402.71 L182.18 404.81 L182.72 406.86 L183.26 408.86 L183.80 410.80 L184.34 412.68 L184.88 414.49 L185.42 416.22 L185.96 417.87 L186.50 419.43 L187.04 420.90 L187.58 422.27 L188.12 423.53 L188.66 424.68 L189.20 425.70 L189.74 426.61 L190.28 427.39 L190.83 428.06 L191.37 428.61 L191.91 429.04 L192.45 429.37 L192.99 429.58 L193.53 429.69 L194.07 429.70 L194.61 429.61 L195.15 429.42 L195.69 429.13 L196.23 428.75 L196.77 428.28" fill="none" stroke="#edb120" stroke-width="1.5" stroke-linejoin="round"/><rect x="174.3" y="312.3" width="55.6" height="30.3" fill="#fff" stroke="#a0a0a0" stroke-width="0.6"/><path d="M176 318.3h15" stroke="#3d86c6" stroke-width="1.5" stroke-dasharray="4.5 6"/><path d="M176 327.6h15" stroke="#d95319" stroke-width="1.5"/><path d="M176 337.0h15" stroke="#edb120" stroke-width="1.5"/><text x="192.70" y="320.80" font-size="7.2" text-anchor="start" fill="#262626">Target</text><text x="192.70" y="330.10" font-size="7.2" text-anchor="start" fill="#262626">Simulation</text><text x="192.70" y="339.50" font-size="7.2" text-anchor="start" fill="#262626">Experiment</text><path d="M263.60 325.80V445.50H429.30" fill="none" stroke="#808080" stroke-width="0.6"/><path d="M263.60 445.50h1.3" stroke="#808080" stroke-width="0.6"/><text x="259.80" y="448.80" font-size="9.3" text-anchor="end" fill="#262626">0</text><path d="M263.60 421.66h1.3" stroke="#808080" stroke-width="0.6"/><text x="259.80" y="424.96" font-size="9.3" text-anchor="end" fill="#262626">0.2</text><path d="M263.60 397.82h1.3" stroke="#808080" stroke-width="0.6"/><text x="259.80" y="401.12" font-size="9.3" text-anchor="end" fill="#262626">0.4</text><path d="M263.60 373.98h1.3" stroke="#808080" stroke-width="0.6"/><text x="259.80" y="377.28" font-size="9.3" text-anchor="end" fill="#262626">0.6</text><path d="M263.60 350.14h1.3" stroke="#808080" stroke-width="0.6"/><text x="259.80" y="353.44" font-size="9.3" text-anchor="end" fill="#262626">0.8</text><path d="M263.60 326.30h1.3" stroke="#808080" stroke-width="0.6"/><text x="259.80" y="329.60" font-size="9.3" text-anchor="end" fill="#262626">1</text><path d="M264.60 445.50v-1.3" stroke="#808080" stroke-width="0.6"/><path d="M305.30 445.50v-1.3" stroke="#808080" stroke-width="0.6"/><path d="M345.50 445.50v-1.3" stroke="#808080" stroke-width="0.6"/><path d="M386.20 445.50v-1.3" stroke="#808080" stroke-width="0.6"/><path d="M427.50 445.50v-1.3" stroke="#808080" stroke-width="0.6"/><text x="264.00" y="458.50" font-size="9" text-anchor="middle" fill="#262626">-12.6</text><text x="304.00" y="458.50" font-size="9" text-anchor="middle" fill="#262626">-6.3</text><text x="341.10" y="458.50" font-size="9" text-anchor="middle" fill="#262626">0</text><text x="384.90" y="458.50" font-size="9" text-anchor="middle" fill="#262626">6.3</text><text x="426.90" y="458.50" font-size="9" text-anchor="middle" fill="#262626">12.6</text><text x="346.40" y="470.50" font-size="10" text-anchor="middle" fill="#262626">x (mm)</text><text x="243.00" y="385.60" font-size="10.2" text-anchor="middle" fill="#262626" transform="rotate(-90 243.00 385.60)">Normalized pressure</text><text x="345.80" y="321.90" font-size="10.2" font-weight="bold" text-anchor="middle" fill="#000">Pressure Profiles</text><path d="M264.40 445.50H295.30L297.00 326.60L298.30 445.50H392.30L394.20 326.60L397.00 445.50H429.30" fill="none" stroke="#3d86c6" stroke-width="1.5" stroke-dasharray="6 6.4" stroke-linejoin="miter"/><path d="M264.11 440.58 L264.52 442.04 L264.93 443.51 L265.34 444.99 L265.48 445.50 L265.75 444.52 L266.16 443.01 L266.57 441.49 L266.98 439.95 L267.39 438.39 L267.80 436.81 L268.21 435.20 L268.62 433.57 L269.03 431.92 L269.44 430.23 L269.85 428.51 L270.26 426.76 L270.67 424.98 L271.08 423.15 L271.49 421.29 L271.89 419.39 L272.30 417.45 L272.71 415.46 L273.12 413.42 L273.53 411.34 L273.94 409.20 L274.35 407.02 L274.76 404.79 L275.17 402.53 L275.58 400.23 L275.99 397.90 L276.40 395.55 L276.81 393.17 L277.22 390.79 L277.63 388.39 L278.04 385.98 L278.45 383.58 L278.86 381.18 L279.27 378.78 L279.68 376.40 L280.09 374.04 L280.50 371.70 L280.91 369.39 L281.32 367.11 L281.73 364.86 L282.14 362.66 L282.55 360.51 L282.96 358.40 L283.37 356.35 L283.78 354.36 L284.19 352.44 L284.60 350.59 L285.01 348.81 L285.42 347.10 L285.83 345.47 L286.24 343.91 L286.65 342.42 L287.06 341.01 L287.47 339.66 L287.88 338.39 L288.29 337.18 L288.70 336.04 L289.11 334.97 L289.52 333.97 L289.93 333.03 L290.34 332.16 L290.75 331.35 L291.16 330.60 L291.57 329.92 L291.98 329.29 L292.39 328.73 L292.80 328.23 L293.21 327.79 L293.62 327.41 L294.03 327.08 L294.43 326.82 L294.84 326.60 L295.25 326.45 L295.66 326.35 L296.07 326.30 L296.48 326.30 L296.89 326.36 L297.30 326.47 L297.71 326.64 L298.12 326.86 L298.53 327.13 L298.94 327.46 L299.35 327.85 L299.76 328.30 L300.17 328.80 L300.58 329.37 L300.99 329.99 L301.40 330.67 L301.81 331.42 L302.22 332.23 L302.63 333.10 L303.04 334.03 L303.45 335.03 L303.86 336.09 L304.27 337.22 L304.68 338.42 L305.09 339.68 L305.50 341.01 L305.91 342.41 L306.32 343.88 L306.73 345.42 L307.14 347.04 L307.55 348.72 L307.96 350.48 L308.37 352.30 L308.78 354.20 L309.19 356.16 L309.60 358.18 L310.01 360.26 L310.42 362.39 L310.83 364.56 L311.24 366.78 L311.65 369.04 L312.06 371.33 L312.47 373.65 L312.88 375.99 L313.29 378.36 L313.70 380.74 L314.11 383.13 L314.52 385.53 L314.93 387.94 L315.34 390.34 L315.75 392.74 L316.16 395.13 L316.56 397.51 L316.97 399.87 L317.38 402.20 L317.79 404.51 L318.20 406.79 L318.61 409.03 L319.02 411.23 L319.43 413.39 L319.84 415.51 L320.25 417.58 L320.66 419.61 L321.07 421.59 L321.48 423.53 L321.89 425.42 L322.30 427.27 L322.71 429.08 L323.12 430.84 L323.53 432.55 L323.94 434.22 L324.35 435.84 L324.76 437.41 L325.17 438.94 L325.58 440.42 L325.99 441.85 L326.40 443.23 L326.81 444.57 L327.10 445.50 L327.22 445.14 L327.63 443.90 L328.04 442.71 L328.45 441.57 L328.86 440.47 L329.27 439.41 L329.68 438.40 L330.09 437.43 L330.50 436.50 L330.91 435.61 L331.32 434.76 L331.73 433.95 L332.14 433.18 L332.55 432.44 L332.96 431.73 L333.37 431.06 L333.78 430.43 L334.19 429.82 L334.60 429.24 L335.01 428.69 L335.42 428.17 L335.83 427.67 L336.24 427.20 L336.65 426.75 L337.06 426.32 L337.47 425.91 L337.88 425.52 L338.29 425.14 L338.70 424.78 L339.10 424.44 L339.51 424.11 L339.92 423.79 L340.33 423.48 L340.74 423.19 L341.15 422.92 L341.56 422.66 L341.97 422.43 L342.38 422.21 L342.79 422.01 L343.20 421.84 L343.61 421.70 L344.02 421.58 L344.43 421.48 L344.84 421.42 L345.25 421.38 L345.66 421.38 L346.07 421.41 L346.48 421.48 L346.89 421.58 L347.30 421.71 L347.71 421.87 L348.12 422.05 L348.53 422.26 L348.94 422.50 L349.35 422.75 L349.76 423.02 L350.17 423.30 L350.58 423.59 L350.99 423.90 L351.40 424.21 L351.81 424.52 L352.22 424.84 L352.63 425.16 L353.04 425.48 L353.45 425.79 L353.86 426.10 L354.27 426.41 L354.68 426.73 L355.09 427.06 L355.50 427.42 L355.91 427.80 L356.32 428.20 L356.73 428.64 L357.14 429.12 L357.55 429.64 L357.96 430.21 L358.37 430.84 L358.78 431.53 L359.19 432.28 L359.60 433.09 L360.01 433.99 L360.42 434.96 L360.83 436.02 L361.24 437.17 L361.64 438.41 L362.05 439.75 L362.46 441.20 L362.87 442.75 L363.28 444.43 L363.53 445.50 L363.69 444.78 L364.10 442.87 L364.51 440.85 L364.92 438.73 L365.33 436.51 L365.74 434.22 L366.15 431.85 L366.56 429.41 L366.97 426.92 L367.38 424.38 L367.79 421.81 L368.20 419.21 L368.61 416.58 L369.02 413.95 L369.43 411.32 L369.84 408.70 L370.25 406.09 L370.66 403.50 L371.07 400.92 L371.48 398.36 L371.89 395.82 L372.30 393.30 L372.71 390.81 L373.12 388.34 L373.53 385.90 L373.94 383.49 L374.35 381.11 L374.76 378.77 L375.17 376.46 L375.58 374.18 L375.99 371.95 L376.40 369.75 L376.81 367.60 L377.22 365.49 L377.63 363.43 L378.04 361.41 L378.45 359.45 L378.86 357.54 L379.27 355.68 L379.68 353.87 L380.09 352.12 L380.50 350.43 L380.91 348.81 L381.32 347.24 L381.73 345.73 L382.14 344.28 L382.55 342.89 L382.96 341.56 L383.37 340.29 L383.77 339.07 L384.18 337.91 L384.59 336.81 L385.00 335.77 L385.41 334.78 L385.82 333.85 L386.23 332.97 L386.64 332.15 L387.05 331.38 L387.46 330.67 L387.87 330.01 L388.28 329.40 L388.69 328.85 L389.10 328.35 L389.51 327.90 L389.92 327.50 L390.33 327.15 L390.74 326.85 L391.15 326.60 L391.56 326.41 L391.97 326.26 L392.38 326.16 L392.79 326.11 L393.20 326.11 L393.61 326.15 L394.02 326.24 L394.43 326.38 L394.84 326.57 L395.25 326.80 L395.66 327.08 L396.07 327.42 L396.48 327.80 L396.89 328.24 L397.30 328.74 L397.71 329.29 L398.12 329.89 L398.53 330.56 L398.94 331.28 L399.35 332.06 L399.76 332.90 L400.17 333.81 L400.58 334.78 L400.99 335.82 L401.40 336.92 L401.81 338.09 L402.22 339.33 L402.63 340.63 L403.04 342.01 L403.45 343.46 L403.86 344.98 L404.27 346.58 L404.68 348.26 L405.09 350.01 L405.50 351.83 L405.91 353.74 L406.31 355.71 L406.72 357.74 L407.13 359.84 L407.54 361.99 L407.95 364.18 L408.36 366.42 L408.77 368.71 L409.18 371.02 L409.59 373.36 L410.00 375.73 L410.41 378.11 L410.82 380.51 L411.23 382.92 L411.64 385.33 L412.05 387.74 L412.46 390.15 L412.87 392.54 L413.28 394.91 L413.69 397.27 L414.10 399.59 L414.51 401.89 L414.92 404.15 L415.33 406.36 L415.74 408.53 L416.15 410.65 L416.56 412.71 L416.97 414.72 L417.38 416.67 L417.79 418.56 L418.20 420.39 L418.61 422.16 L419.02 423.88 L419.43 425.53 L419.84 427.13 L420.25 428.66 L420.66 430.13 L421.07 431.55 L421.48 432.90 L421.89 434.19 L422.30 435.41 L422.71 436.58 L423.12 437.68 L423.53 438.71 L423.94 439.69 L424.35 440.60 L424.76 441.44 L425.17 442.22 L425.58 442.93 L425.99 443.58 L426.40 444.16 L426.81 444.67 L427.22 445.12 L427.63 445.50" fill="none" stroke="#d95319" stroke-width="1.5" stroke-linejoin="round"/><path d="M264.11 432.38 L264.52 432.55 L264.93 432.62 L265.34 432.59 L265.75 432.45 L266.16 432.22 L266.57 431.89 L266.98 431.46 L267.39 430.95 L267.80 430.35 L268.21 429.66 L268.62 428.89 L269.03 428.04 L269.44 427.12 L269.85 426.12 L270.26 425.05 L270.67 423.92 L271.08 422.72 L271.49 421.45 L271.89 420.13 L272.30 418.75 L272.71 417.31 L273.12 415.83 L273.53 414.29 L273.94 412.72 L274.35 411.09 L274.76 409.43 L275.17 407.73 L275.58 406.00 L275.99 404.23 L276.40 402.44 L276.81 400.62 L277.22 398.78 L277.63 396.91 L278.04 395.03 L278.45 393.13 L278.86 391.23 L279.27 389.30 L279.68 387.38 L280.09 385.44 L280.50 383.51 L280.91 381.57 L281.32 379.64 L281.73 377.72 L282.14 375.80 L282.55 373.89 L282.96 372.00 L283.37 370.12 L283.78 368.26 L284.19 366.42 L284.60 364.61 L285.01 362.82 L285.42 361.06 L285.83 359.33 L286.24 357.64 L286.65 355.99 L287.06 354.37 L287.47 352.80 L287.88 351.27 L288.29 349.78 L288.70 348.34 L289.11 346.94 L289.52 345.59 L289.93 344.28 L290.34 343.02 L290.75 341.80 L291.16 340.63 L291.57 339.50 L291.98 338.42 L292.39 337.38 L292.80 336.39 L293.21 335.45 L293.62 334.54 L294.03 333.69 L294.43 332.88 L294.84 332.11 L295.25 331.39 L295.66 330.72 L296.07 330.09 L296.48 329.51 L296.89 328.98 L297.30 328.49 L297.71 328.04 L298.12 327.65 L298.53 327.30 L298.94 326.99 L299.35 326.74 L299.76 326.52 L300.17 326.36 L300.58 326.24 L300.99 326.17 L301.40 326.15 L301.81 326.17 L302.22 326.24 L302.63 326.36 L303.04 326.52 L303.45 326.73 L303.86 326.99 L304.27 327.30 L304.68 327.66 L305.09 328.07 L305.50 328.52 L305.91 329.03 L306.32 329.59 L306.73 330.19 L307.14 330.85 L307.55 331.57 L307.96 332.33 L308.37 333.15 L308.78 334.02 L309.19 334.94 L309.60 335.92 L310.01 336.95 L310.42 338.03 L310.83 339.18 L311.24 340.37 L311.65 341.63 L312.06 342.93 L312.47 344.30 L312.88 345.72 L313.29 347.20 L313.70 348.74 L314.11 350.34 L314.52 352.00 L314.93 353.71 L315.34 355.49 L315.75 357.31 L316.16 359.19 L316.56 361.12 L316.97 363.10 L317.38 365.12 L317.79 367.18 L318.20 369.27 L318.61 371.40 L319.02 373.56 L319.43 375.75 L319.84 377.96 L320.25 380.19 L320.66 382.44 L321.07 384.70 L321.48 386.97 L321.89 389.26 L322.30 391.55 L322.71 393.84 L323.12 396.13 L323.53 398.41 L323.94 400.69 L324.35 402.96 L324.76 405.22 L325.17 407.46 L325.58 409.67 L325.99 411.87 L326.40 414.04 L326.81 416.19 L327.22 418.30 L327.63 420.39 L328.04 422.44 L328.45 424.46 L328.86 426.44 L329.27 428.39 L329.68 430.29 L330.09 432.16 L330.50 433.98 L330.91 435.76 L331.32 437.49 L331.73 439.17 L332.14 440.80 L332.55 442.38 L332.96 443.90 L333.37 445.37 L333.40 445.50 L333.78 444.22 L334.19 442.86 L334.60 441.56 L335.01 440.31 L335.42 439.11 L335.83 437.96 L336.24 436.86 L336.65 435.80 L337.06 434.78 L337.47 433.81 L337.88 432.87 L338.29 431.97 L338.70 431.11 L339.10 430.28 L339.51 429.48 L339.92 428.71 L340.33 427.98 L340.74 427.28 L341.15 426.61 L341.56 425.98 L341.97 425.39 L342.38 424.84 L342.79 424.33 L343.20 423.87 L343.61 423.45 L344.02 423.08 L344.43 422.76 L344.84 422.49 L345.25 422.27 L345.66 422.11 L346.07 422.00 L346.48 421.95 L346.89 421.96 L347.30 422.03 L347.71 422.16 L348.12 422.34 L348.53 422.58 L348.94 422.87 L349.35 423.20 L349.76 423.57 L350.17 423.98 L350.58 424.43 L350.99 424.90 L351.40 425.40 L351.81 425.92 L352.22 426.46 L352.63 427.02 L353.04 427.59 L353.45 428.16 L353.86 428.74 L354.27 429.32 L354.68 429.90 L355.09 430.47 L355.50 431.05 L355.91 431.62 L356.32 432.21 L356.73 432.81 L357.14 433.42 L357.55 434.06 L357.96 434.72 L358.37 435.41 L358.78 436.13 L359.19 436.89 L359.60 437.68 L360.01 438.53 L360.42 439.42 L360.83 440.36 L361.24 441.36 L361.64 442.42 L362.05 443.55 L362.46 444.74 L362.71 445.50 L362.87 444.99 L363.28 443.65 L363.69 442.23 L364.10 440.75 L364.51 439.21 L364.92 437.60 L365.33 435.93 L365.74 434.21 L366.15 432.43 L366.56 430.60 L366.97 428.72 L367.38 426.80 L367.79 424.84 L368.20 422.84 L368.61 420.80 L369.02 418.73 L369.43 416.63 L369.84 414.51 L370.25 412.36 L370.66 410.18 L371.07 407.99 L371.48 405.78 L371.89 403.56 L372.30 401.33 L372.71 399.09 L373.12 396.85 L373.53 394.60 L373.94 392.35 L374.35 390.11 L374.76 387.87 L375.17 385.64 L375.58 383.42 L375.99 381.22 L376.40 379.03 L376.81 376.86 L377.22 374.71 L377.63 372.59 L378.04 370.49 L378.45 368.43 L378.86 366.39 L379.27 364.40 L379.68 362.44 L380.09 360.52 L380.50 358.64 L380.91 356.82 L381.32 355.03 L381.73 353.30 L382.14 351.62 L382.55 349.98 L382.96 348.40 L383.37 346.87 L383.77 345.40 L384.18 343.98 L384.59 342.61 L385.00 341.30 L385.41 340.05 L385.82 338.85 L386.23 337.72 L386.64 336.65 L387.05 335.63 L387.46 334.68 L387.87 333.80 L388.28 332.98 L388.69 332.22 L389.10 331.53 L389.51 330.91 L389.92 330.36 L390.33 329.87 L390.74 329.46 L391.15 329.12 L391.56 328.85 L391.97 328.65 L392.38 328.53 L392.79 328.49 L393.20 328.52 L393.61 328.63 L394.02 328.81 L394.43 329.06 L394.84 329.38 L395.25 329.77 L395.66 330.23 L396.07 330.75 L396.48 331.34 L396.89 331.99 L397.30 332.70 L397.71 333.47 L398.12 334.30 L398.53 335.18 L398.94 336.12 L399.35 337.11 L399.76 338.15 L400.17 339.23 L400.58 340.37 L400.99 341.55 L401.40 342.78 L401.81 344.04 L402.22 345.35 L402.63 346.70 L403.04 348.09 L403.45 349.51 L403.86 350.96 L404.27 352.45 L404.68 353.97 L405.09 355.52 L405.50 357.10 L405.91 358.70 L406.31 360.32 L406.72 361.97 L407.13 363.64 L407.54 365.32 L407.95 367.02 L408.36 368.73 L408.77 370.45 L409.18 372.19 L409.59 373.92 L410.00 375.67 L410.41 377.41 L410.82 379.16 L411.23 380.91 L411.64 382.65 L412.05 384.38 L412.46 386.11 L412.87 387.83 L413.28 389.54 L413.69 391.23 L414.10 392.91 L414.51 394.57 L414.92 396.20 L415.33 397.82 L415.74 399.41 L416.15 400.98 L416.56 402.51 L416.97 404.02 L417.38 405.49 L417.79 406.93 L418.20 408.33 L418.61 409.69 L419.02 411.01 L419.43 412.29 L419.84 413.52 L420.25 414.71 L420.66 415.84 L421.07 416.92 L421.48 417.95 L421.89 418.93 L422.30 419.84 L422.71 420.70 L423.12 421.50 L423.53 422.23 L423.94 422.89 L424.35 423.49 L424.76 424.01 L425.17 424.46 L425.58 424.84 L425.99 425.14 L426.40 425.37 L426.81 425.51 L427.22 425.57 L427.63 425.54" fill="none" stroke="#edb120" stroke-width="1.5" stroke-linejoin="round"/><path d="M482.00 325.80V445.50H647.90" fill="none" stroke="#808080" stroke-width="0.6"/><path d="M482.00 445.50h1.3" stroke="#808080" stroke-width="0.6"/><text x="478.20" y="448.80" font-size="9.3" text-anchor="end" fill="#262626">0</text><path d="M482.00 421.66h1.3" stroke="#808080" stroke-width="0.6"/><text x="478.20" y="424.96" font-size="9.3" text-anchor="end" fill="#262626">0.2</text><path d="M482.00 397.82h1.3" stroke="#808080" stroke-width="0.6"/><text x="478.20" y="401.12" font-size="9.3" text-anchor="end" fill="#262626">0.4</text><path d="M482.00 373.98h1.3" stroke="#808080" stroke-width="0.6"/><text x="478.20" y="377.28" font-size="9.3" text-anchor="end" fill="#262626">0.6</text><path d="M482.00 350.14h1.3" stroke="#808080" stroke-width="0.6"/><text x="478.20" y="353.44" font-size="9.3" text-anchor="end" fill="#262626">0.8</text><path d="M482.00 326.30h1.3" stroke="#808080" stroke-width="0.6"/><text x="478.20" y="329.60" font-size="9.3" text-anchor="end" fill="#262626">1</text><path d="M482.00 445.50v-1.3" stroke="#808080" stroke-width="0.6"/><path d="M523.90 445.50v-1.3" stroke="#808080" stroke-width="0.6"/><path d="M564.90 445.50v-1.3" stroke="#808080" stroke-width="0.6"/><path d="M605.90 445.50v-1.3" stroke="#808080" stroke-width="0.6"/><path d="M647.80 445.50v-1.3" stroke="#808080" stroke-width="0.6"/><text x="482.50" y="458.50" font-size="9" text-anchor="middle" fill="#262626">-39</text><text x="523.20" y="458.50" font-size="9" text-anchor="middle" fill="#262626">-20</text><text x="562.60" y="458.50" font-size="9" text-anchor="middle" fill="#262626">0</text><text x="605.00" y="458.50" font-size="9" text-anchor="middle" fill="#262626">20</text><text x="646.40" y="458.50" font-size="9" text-anchor="middle" fill="#262626">39</text><text x="565.00" y="470.50" font-size="10" text-anchor="middle" fill="#262626">x (mm)</text><text x="461.60" y="385.60" font-size="10.2" text-anchor="middle" fill="#262626" transform="rotate(-90 461.60 385.60)">Normalized pressure</text><text x="564.80" y="321.90" font-size="10.2" font-weight="bold" text-anchor="middle" fill="#000">Pressure Profiles</text><path d="M482.80 445.50H491.50L492.20 326.60L492.60 445.50H636.30L636.80 326.60L637.60 445.50H647.90" fill="none" stroke="#3d86c6" stroke-width="1.5" stroke-dasharray="6 6.4" stroke-linejoin="miter"/><path d="M492.32 353.64 L492.68 351.97 L493.05 349.93 L493.42 347.61 L493.78 345.10 L494.15 342.48 L494.51 339.86 L494.88 337.32 L495.24 334.95 L495.61 332.81 L495.98 330.91 L496.34 329.29 L496.71 327.96 L497.07 326.94 L497.44 326.26 L497.80 325.92 L498.17 325.92 L498.54 326.26 L498.90 326.94 L499.27 327.95 L499.63 329.28 L500.00 330.95 L500.36 332.94 L500.73 335.25 L501.10 337.86 L501.46 340.77 L501.83 343.94 L502.19 347.36 L502.56 351.00 L502.92 354.84 L503.29 358.87 L503.65 363.06 L504.02 367.40 L504.39 371.85 L504.75 376.40 L505.12 381.03 L505.48 385.70 L505.85 390.38 L506.21 395.04 L506.58 399.65 L506.95 404.18 L507.31 408.59 L507.68 412.86 L508.04 416.95 L508.41 420.83 L508.77 424.47 L509.14 427.82 L509.51 430.79 L509.87 433.28 L510.24 435.17 L510.60 436.36 L510.97 436.78 L511.33 436.50 L511.70 435.66 L512.07 434.38 L512.43 432.82 L512.80 431.11 L513.16 429.38 L513.53 427.77 L513.89 426.42 L514.26 425.46 L514.63 424.99 L514.99 424.96 L515.36 425.31 L515.72 425.99 L516.09 426.92 L516.45 428.04 L516.82 429.30 L517.19 430.62 L517.55 431.94 L517.92 433.21 L518.28 434.36 L518.65 435.32 L519.01 436.03 L519.38 436.43 L519.74 436.46 L520.11 436.08 L520.48 435.35 L520.84 434.34 L521.21 433.12 L521.57 431.74 L521.94 430.29 L522.30 428.83 L522.67 427.43 L523.04 426.15 L523.40 425.06 L523.77 424.23 L524.13 423.73 L524.50 423.54 L524.86 423.65 L525.23 424.04 L525.60 424.70 L525.96 425.60 L526.33 426.73 L526.69 428.07 L527.06 429.60 L527.42 431.31 L527.79 433.17 L528.16 435.17 L528.52 437.28 L528.89 439.50 L529.25 441.80 L529.62 444.16 L529.82 445.50 L529.98 444.43 L530.35 441.99 L530.72 439.53 L531.08 437.08 L531.45 434.65 L531.81 432.25 L532.18 429.90 L532.54 427.61 L532.91 425.40 L533.28 423.29 L533.64 421.29 L534.01 419.42 L534.37 417.69 L534.74 416.11 L535.10 414.71 L535.47 413.50 L535.83 412.50 L536.20 411.72 L536.57 411.16 L536.93 410.83 L537.30 410.71 L537.66 410.81 L538.03 411.10 L538.39 411.58 L538.76 412.25 L539.13 413.10 L539.49 414.11 L539.86 415.28 L540.22 416.61 L540.59 418.08 L540.95 419.69 L541.32 421.43 L541.69 423.29 L542.05 425.27 L542.42 427.35 L542.78 429.53 L543.15 431.80 L543.51 434.15 L543.88 436.58 L544.25 439.08 L544.61 441.63 L544.98 444.24 L545.15 445.50 L545.34 444.11 L545.71 441.44 L546.07 438.76 L546.44 436.10 L546.81 433.48 L547.17 430.93 L547.54 428.48 L547.90 426.14 L548.27 423.94 L548.63 421.91 L549.00 420.06 L549.37 418.43 L549.73 417.03 L550.10 415.89 L550.46 415.04 L550.83 414.49 L551.19 414.28 L551.56 414.42 L551.92 414.94 L552.29 415.83 L552.66 417.03 L553.02 418.50 L553.39 420.20 L553.75 422.08 L554.12 424.09 L554.48 426.18 L554.85 428.31 L555.22 430.43 L555.58 432.50 L555.95 434.46 L556.31 436.27 L556.68 437.89 L557.04 439.26 L557.41 440.35 L557.78 441.10 L558.14 441.47 L558.51 441.40 L558.87 440.86 L559.24 439.80 L559.60 438.18 L559.97 436.02 L560.34 433.42 L560.70 430.48 L561.07 427.29 L561.43 423.94 L561.80 420.53 L562.16 417.15 L562.53 413.90 L562.90 410.87 L563.26 408.15 L563.63 405.84 L563.99 404.03 L564.36 402.82 L564.72 402.30 L565.09 402.56 L565.46 403.57 L565.82 405.23 L566.19 407.45 L566.55 410.11 L566.92 413.12 L567.28 416.37 L567.65 419.77 L568.02 423.20 L568.38 426.57 L568.75 429.77 L569.11 432.70 L569.48 435.25 L569.84 437.34 L570.21 438.84 L570.57 439.67 L570.94 439.84 L571.31 439.42 L571.67 438.47 L572.04 437.08 L572.40 435.32 L572.77 433.27 L573.13 430.99 L573.50 428.57 L573.87 426.07 L574.23 423.57 L574.60 421.15 L574.96 418.88 L575.33 416.84 L575.69 415.09 L576.06 413.71 L576.43 412.72 L576.79 412.09 L577.16 411.80 L577.52 411.84 L577.89 412.18 L578.25 412.81 L578.62 413.71 L578.99 414.86 L579.35 416.24 L579.72 417.82 L580.08 419.59 L580.45 421.54 L580.81 423.63 L581.18 425.86 L581.55 428.20 L581.91 430.63 L582.28 433.13 L582.64 435.69 L583.01 438.28 L583.37 440.89 L583.74 443.49 L584.02 445.50 L584.11 444.93 L584.47 442.39 L584.84 439.90 L585.20 437.46 L585.57 435.09 L585.93 432.78 L586.30 430.54 L586.66 428.39 L587.03 426.32 L587.40 424.35 L587.76 422.48 L588.13 420.72 L588.49 419.07 L588.86 417.55 L589.22 416.15 L589.59 414.89 L589.96 413.77 L590.32 412.80 L590.69 411.99 L591.05 411.33 L591.42 410.85 L591.78 410.54 L592.15 410.42 L592.52 410.49 L592.88 410.75 L593.25 411.21 L593.61 411.89 L593.98 412.78 L594.34 413.87 L594.71 415.15 L595.08 416.60 L595.44 418.21 L595.81 419.97 L596.17 421.87 L596.54 423.88 L596.90 425.99 L597.27 428.20 L597.64 430.48 L598.00 432.83 L598.37 435.23 L598.73 437.66 L599.10 440.11 L599.46 442.57 L599.83 445.02 L599.90 445.50 L600.20 443.55 L600.56 441.16 L600.93 438.84 L601.29 436.60 L601.66 434.47 L602.02 432.47 L602.39 430.63 L602.75 428.96 L603.12 427.49 L603.49 426.24 L603.85 425.24 L604.22 424.50 L604.58 424.05 L604.95 423.91 L605.31 424.11 L605.68 424.65 L606.05 425.50 L606.41 426.59 L606.78 427.85 L607.14 429.23 L607.51 430.65 L607.87 432.06 L608.24 433.38 L608.61 434.55 L608.97 435.51 L609.34 436.19 L609.70 436.52 L610.07 436.45 L610.43 435.94 L610.80 435.06 L611.17 433.91 L611.53 432.56 L611.90 431.13 L612.26 429.68 L612.63 428.32 L612.99 427.14 L613.36 426.21 L613.73 425.65 L614.09 425.52 L614.46 425.91 L614.82 426.74 L615.19 427.91 L615.55 429.29 L615.92 430.77 L616.29 432.24 L616.65 433.58 L617.02 434.68 L617.38 435.43 L617.75 435.70 L618.11 435.38 L618.48 434.38 L618.84 432.67 L619.21 430.34 L619.58 427.43 L619.94 424.02 L620.31 420.17 L620.67 415.95 L621.04 411.42 L621.40 406.64 L621.77 401.69 L622.14 396.62 L622.50 391.50 L622.87 386.40 L623.23 381.38 L623.60 376.50 L623.96 371.84 L624.33 367.40 L624.70 363.20 L625.06 359.22 L625.43 355.47 L625.79 351.95 L626.16 348.65 L626.52 345.58 L626.89 342.73 L627.26 340.11 L627.62 337.70 L627.99 335.52 L628.35 333.56 L628.72 331.81 L629.08 330.28 L629.45 328.97 L629.82 327.88 L630.18 326.99 L630.55 326.32 L630.91 325.86 L631.28 325.61 L631.64 325.57 L632.01 325.72 L632.38 326.08 L632.74 326.63 L633.11 327.37 L633.47 328.29 L633.84 329.40 L634.20 330.70 L634.57 332.16 L634.93 333.81 L635.30 335.62 L635.67 337.60 L636.03 339.74 L636.40 342.04 L636.76 344.50 L637.13 347.11 L637.49 349.87 L637.86 352.78 L638.23 355.83" fill="none" stroke="#d95319" stroke-width="1.5" stroke-linejoin="round"/><path d="M481.37 409.14 L481.78 410.16 L482.20 410.79 L482.61 411.05 L483.02 410.95 L483.44 410.53 L483.85 409.78 L484.26 408.75 L484.68 407.43 L485.09 405.86 L485.51 404.05 L485.92 402.01 L486.33 399.78 L486.75 397.36 L487.16 394.78 L487.57 392.05 L487.99 389.20 L488.40 386.24 L488.82 383.19 L489.23 380.07 L489.64 376.90 L490.06 373.70 L490.47 370.48 L490.88 367.27 L491.30 364.08 L491.71 360.94 L492.13 357.86 L492.54 354.86 L492.95 351.95 L493.37 349.17 L493.78 346.52 L494.19 344.03 L494.61 341.72 L495.02 339.59 L495.43 337.68 L495.85 335.98 L496.26 334.50 L496.68 333.23 L497.09 332.19 L497.50 331.36 L497.92 330.75 L498.33 330.36 L498.74 330.19 L499.16 330.25 L499.57 330.53 L499.99 331.04 L500.40 331.78 L500.81 332.78 L501.23 334.05 L501.64 335.61 L502.05 337.47 L502.47 339.66 L502.88 342.20 L503.30 345.09 L503.71 348.35 L504.12 351.95 L504.54 355.87 L504.95 360.06 L505.36 364.51 L505.78 369.17 L506.19 374.02 L506.60 379.02 L507.02 384.15 L507.43 389.37 L507.85 394.62 L508.26 399.76 L508.67 404.63 L509.09 409.09 L509.50 412.98 L509.91 416.13 L510.33 418.42 L510.74 419.84 L511.16 420.58 L511.57 420.80 L511.98 420.67 L512.40 420.38 L512.81 420.09 L513.22 419.97 L513.64 420.04 L514.05 420.31 L514.47 420.79 L514.88 421.48 L515.29 422.39 L515.71 423.51 L516.12 424.86 L516.53 426.43 L516.95 428.24 L517.36 430.27 L517.78 432.53 L518.19 434.99 L518.60 437.65 L519.02 440.49 L519.43 443.50 L519.69 445.50 L519.84 444.33 L520.26 441.05 L520.67 437.71 L521.08 434.38 L521.50 431.12 L521.91 428.01 L522.33 425.10 L522.74 422.46 L523.15 420.17 L523.57 418.27 L523.98 416.85 L524.39 415.96 L524.81 415.68 L525.22 416.06 L525.64 417.15 L526.05 418.87 L526.46 421.15 L526.88 423.91 L527.29 427.09 L527.70 430.59 L528.12 434.34 L528.53 438.26 L528.95 442.28 L529.27 445.50 L529.36 444.68 L529.77 440.68 L530.19 436.74 L530.60 432.88 L531.01 429.12 L531.43 425.47 L531.84 421.95 L532.25 418.58 L532.67 415.37 L533.08 412.33 L533.50 409.50 L533.91 406.87 L534.32 404.47 L534.74 402.32 L535.15 400.43 L535.56 398.82 L535.98 397.50 L536.39 396.50 L536.81 395.82 L537.22 395.49 L537.63 395.52 L538.05 395.92 L538.46 396.66 L538.87 397.72 L539.29 399.10 L539.70 400.76 L540.12 402.70 L540.53 404.88 L540.94 407.30 L541.36 409.93 L541.77 412.75 L542.18 415.74 L542.60 418.89 L543.01 422.18 L543.43 425.58 L543.84 429.08 L544.25 432.65 L544.67 436.29 L545.08 439.96 L545.49 443.66 L545.70 445.50 L545.91 443.64 L546.32 439.96 L546.73 436.32 L547.15 432.72 L547.56 429.18 L547.98 425.73 L548.39 422.37 L548.80 419.13 L549.22 416.02 L549.63 413.05 L550.04 410.24 L550.46 407.61 L550.87 405.18 L551.29 402.95 L551.70 400.95 L552.11 399.19 L552.53 397.69 L552.94 396.46 L553.35 395.53 L553.77 394.90 L554.18 394.59 L554.60 394.63 L555.01 395.01 L555.42 395.77 L555.84 396.89 L556.25 398.34 L556.66 400.06 L557.08 402.02 L557.49 404.17 L557.90 406.47 L558.32 408.87 L558.73 411.33 L559.15 413.81 L559.56 416.27 L559.97 418.65 L560.39 420.92 L560.80 423.03 L561.21 424.95 L561.63 426.66 L562.04 428.17 L562.46 429.46 L562.87 430.54 L563.28 431.39 L563.70 432.01 L564.11 432.39 L564.52 432.54 L564.94 432.43 L565.35 432.08 L565.77 431.47 L566.18 430.60 L566.59 429.46 L567.01 428.05 L567.42 426.36 L567.83 424.39 L568.25 422.16 L568.66 419.73 L569.08 417.13 L569.49 414.43 L569.90 411.68 L570.32 408.91 L570.73 406.19 L571.14 403.56 L571.56 401.08 L571.97 398.79 L572.38 396.74 L572.80 394.99 L573.21 393.58 L573.63 392.57 L574.04 392.00 L574.45 391.92 L574.87 392.37 L575.28 393.31 L575.69 394.68 L576.11 396.43 L576.52 398.51 L576.94 400.86 L577.35 403.44 L577.76 406.17 L578.18 409.02 L578.59 411.93 L579.00 414.85 L579.42 417.71 L579.83 420.48 L580.25 423.08 L580.66 425.48 L581.07 427.61 L581.49 429.43 L581.90 430.87 L582.31 431.89 L582.73 432.43 L583.14 432.47 L583.55 432.04 L583.97 431.17 L584.38 429.93 L584.80 428.35 L585.21 426.47 L585.62 424.35 L586.04 422.02 L586.45 419.52 L586.86 416.92 L587.28 414.23 L587.69 411.52 L588.11 408.83 L588.52 406.20 L588.93 403.67 L589.35 401.29 L589.76 399.10 L590.17 397.15 L590.59 395.48 L591.00 394.13 L591.42 393.16 L591.83 392.59 L592.24 392.46 L592.66 392.75 L593.07 393.42 L593.48 394.46 L593.90 395.84 L594.31 397.55 L594.72 399.55 L595.14 401.83 L595.55 404.36 L595.97 407.12 L596.38 410.09 L596.79 413.24 L597.21 416.56 L597.62 420.01 L598.03 423.58 L598.45 427.23 L598.86 430.96 L599.28 434.74 L599.69 438.54 L600.10 442.34 L600.45 445.50 L600.52 444.88 L600.93 441.16 L601.34 437.55 L601.76 434.11 L602.17 430.91 L602.59 428.01 L603.00 425.46 L603.41 423.34 L603.83 421.70 L604.24 420.60 L604.65 420.11 L605.07 420.29 L605.48 421.20 L605.90 422.81 L606.31 424.96 L606.72 427.44 L607.14 430.07 L607.55 432.65 L607.96 434.99 L608.38 436.89 L608.79 438.17 L609.20 438.72 L609.62 438.65 L610.03 438.05 L610.45 437.02 L610.86 435.67 L611.27 434.11 L611.69 432.42 L612.10 430.72 L612.51 429.10 L612.93 427.67 L613.34 426.54 L613.76 425.79 L614.17 425.54 L614.58 425.83 L615.00 426.51 L615.41 427.39 L615.82 428.29 L616.24 429.02 L616.65 429.39 L617.07 429.23 L617.48 428.34 L617.89 426.54 L618.31 423.65 L618.72 419.57 L619.13 414.46 L619.55 408.52 L619.96 401.94 L620.37 394.91 L620.79 387.63 L621.20 380.30 L621.62 373.10 L622.03 366.24 L622.44 359.90 L622.86 354.21 L623.27 349.16 L623.68 344.72 L624.10 340.84 L624.51 337.49 L624.93 334.64 L625.34 332.26 L625.75 330.31 L626.17 328.76 L626.58 327.57 L626.99 326.71 L627.41 326.15 L627.82 325.85 L628.24 325.78 L628.65 325.90 L629.06 326.18 L629.48 326.60 L629.89 327.12 L630.30 327.76 L630.72 328.52 L631.13 329.38 L631.55 330.36 L631.96 331.44 L632.37 332.63 L632.79 333.92 L633.20 335.32 L633.61 336.83 L634.03 338.43 L634.44 340.14 L634.85 341.94 L635.27 343.84 L635.68 345.84 L636.10 347.93 L636.51 350.12 L636.92 352.38 L637.34 354.73 L637.75 357.13 L638.16 359.60 L638.58 362.11 L638.99 364.65 L639.41 367.23 L639.82 369.82 L640.23 372.42 L640.65 375.03 L641.06 377.62 L641.47 380.20 L641.89 382.75 L642.30 385.27 L642.72 387.74 L643.13 390.15 L643.54 392.50 L643.96 394.78 L644.37 396.98 L644.78 399.08 L645.20 401.09 L645.61 402.98 L646.02 404.76 L646.44 406.40" fill="none" stroke="#edb120" stroke-width="1.5" stroke-linejoin="round"/></svg></body></html>
